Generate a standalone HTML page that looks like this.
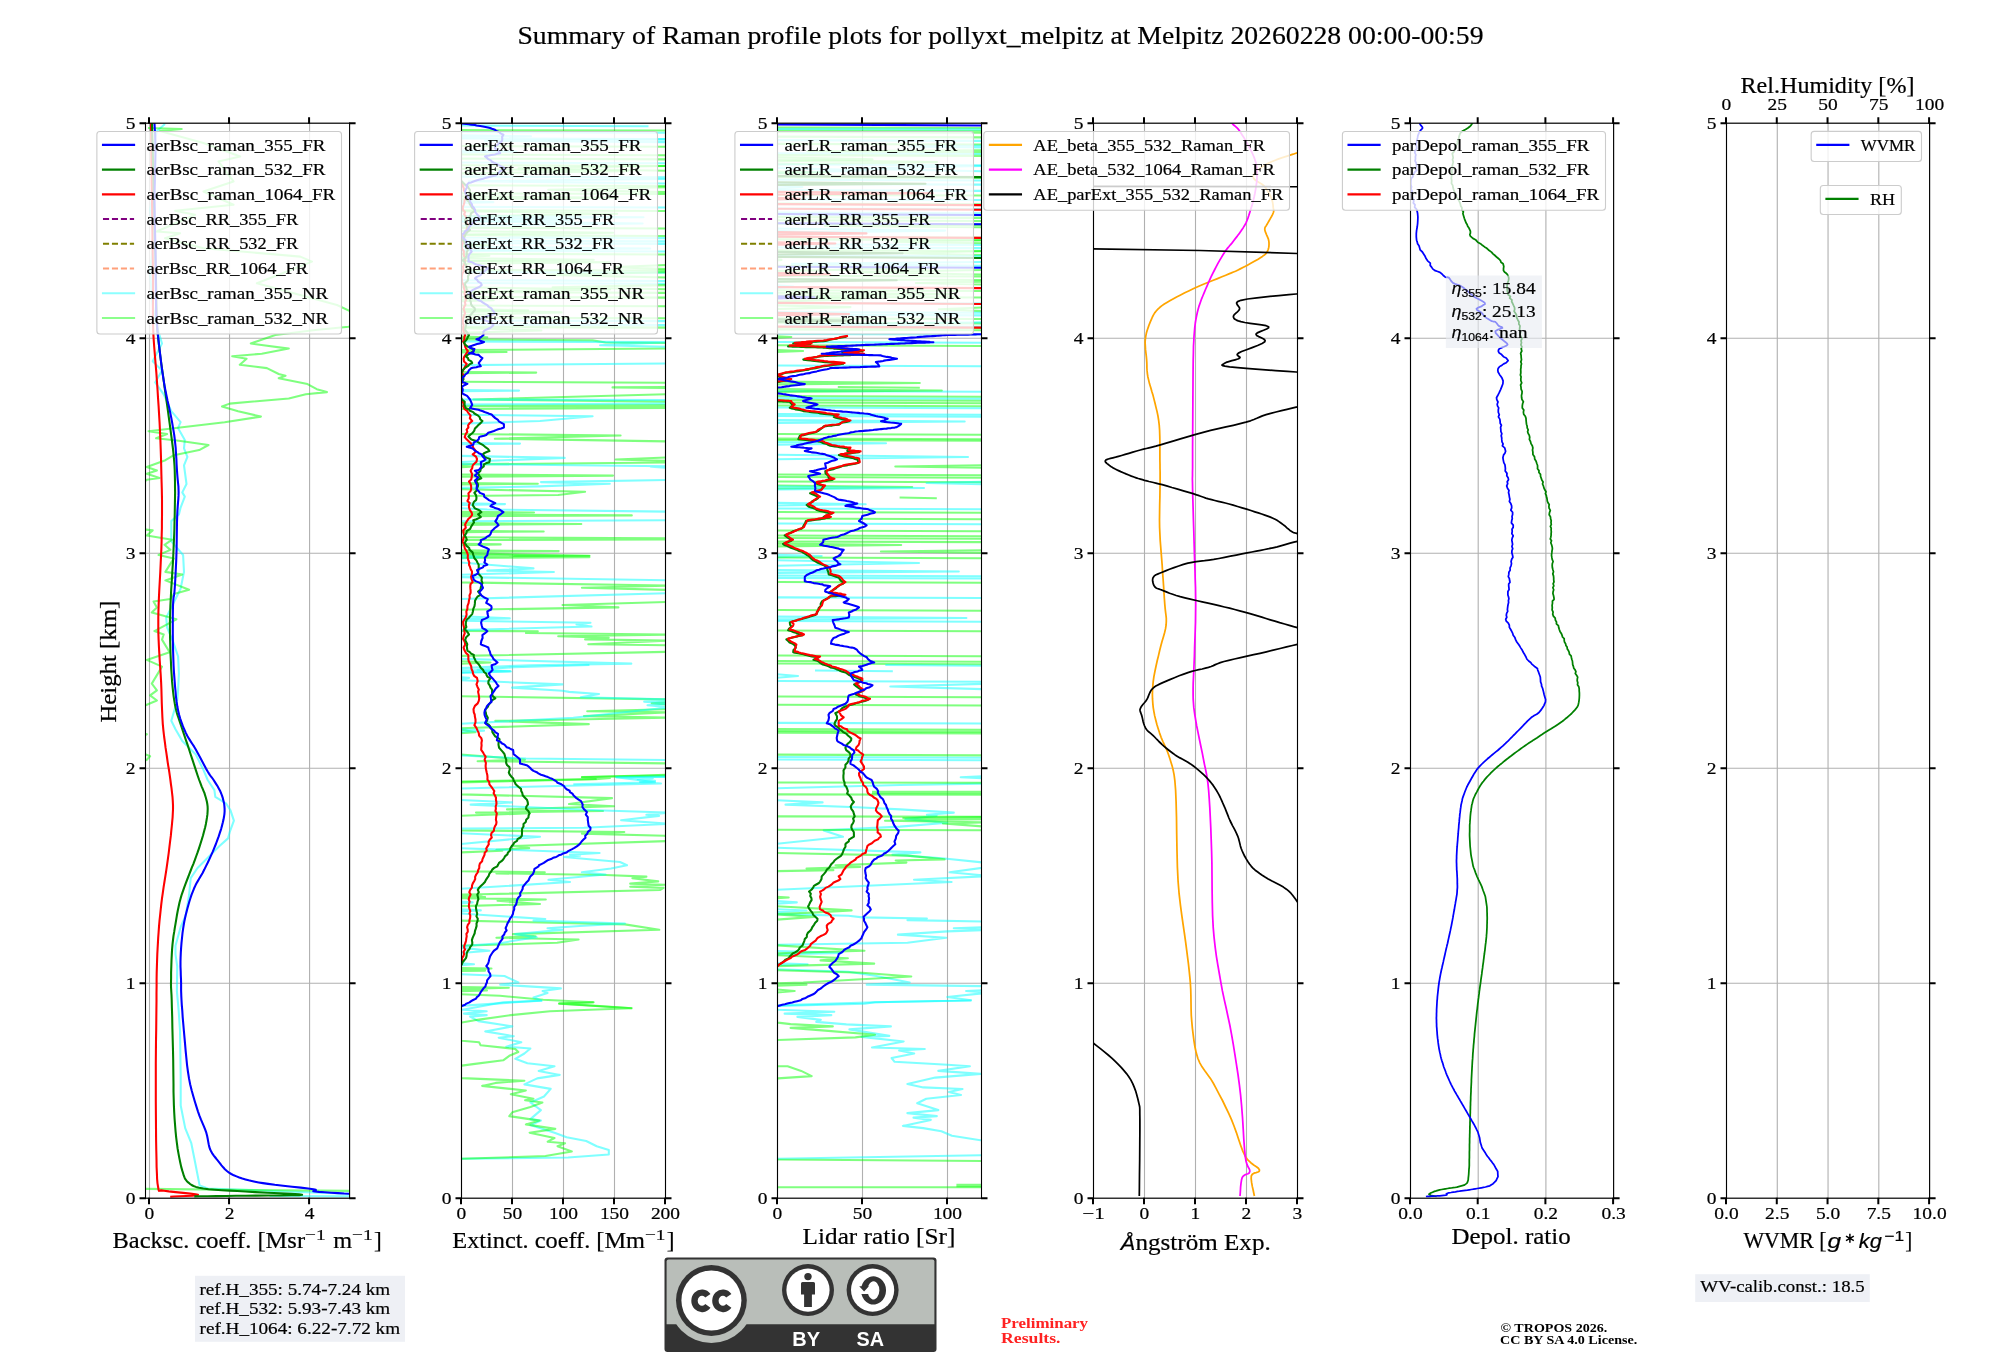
<!DOCTYPE html>
<html><head><meta charset="utf-8"><title>Raman profile summary</title>
<style>html,body{margin:0;padding:0;background:#fff;} svg{display:block;will-change:transform;} svg{font-family:"Liberation Serif", serif;}</style>
</head><body>
<svg width="2000" height="1360" viewBox="0 0 2000 1360">
<rect x="0" y="0" width="2000" height="1360" fill="#fff"/>
<defs>
<clipPath id="clip0"><rect x="145.5" y="123.2" width="204.10" height="1075.00"/></clipPath>
<clipPath id="clip1"><rect x="461.5" y="123.2" width="204.00" height="1075.00"/></clipPath>
<clipPath id="clip2"><rect x="777.5" y="123.2" width="204.00" height="1075.00"/></clipPath>
<clipPath id="clip3"><rect x="1093.5" y="123.2" width="204.00" height="1075.00"/></clipPath>
<clipPath id="clip4"><rect x="1410.5" y="123.2" width="203.10" height="1075.00"/></clipPath>
<clipPath id="clip5"><rect x="1726.5" y="123.2" width="203.10" height="1075.00"/></clipPath>
</defs>
<text x="1000.50" y="43.80" font-size="24.73" textLength="966.07" lengthAdjust="spacingAndGlyphs" text-anchor="middle" stroke="#000" stroke-width="0.2" >Summary of Raman profile plots for pollyxt_melpitz at Melpitz 20260228 00:00-00:59</text>
<line x1="149.50" y1="123.2" x2="149.50" y2="1198.2" stroke="#b0b0b0" stroke-width="1.1"/>
<line x1="229.54" y1="123.2" x2="229.54" y2="1198.2" stroke="#b0b0b0" stroke-width="1.1"/>
<line x1="309.58" y1="123.2" x2="309.58" y2="1198.2" stroke="#b0b0b0" stroke-width="1.1"/>
<line x1="145.5" y1="1198.20" x2="349.6" y2="1198.20" stroke="#b0b0b0" stroke-width="1.1"/>
<line x1="145.5" y1="983.20" x2="349.6" y2="983.20" stroke="#b0b0b0" stroke-width="1.1"/>
<line x1="145.5" y1="768.20" x2="349.6" y2="768.20" stroke="#b0b0b0" stroke-width="1.1"/>
<line x1="145.5" y1="553.20" x2="349.6" y2="553.20" stroke="#b0b0b0" stroke-width="1.1"/>
<line x1="145.5" y1="338.20" x2="349.6" y2="338.20" stroke="#b0b0b0" stroke-width="1.1"/>
<line x1="145.5" y1="123.20" x2="349.6" y2="123.20" stroke="#b0b0b0" stroke-width="1.1"/>
<g clip-path="url(#clip0)" fill="none" stroke-linejoin="round" stroke-linecap="butt">
<polyline points="165.0,124.0 157.0,131.0 152.0,150.0 155.0,180.0 150.0,210.0 154.0,240.0 150.0,270.0 152.0,300.0 155.0,320.0 162.0,343.5 152.7,361.3 162.0,370.6 155.2,382.4 163.7,394.3 171.3,411.2 180.6,422.2 178.0,428.1 184.8,440.0 184.0,448.4 187.4,456.9 184.0,465.3 186.5,484.0 182.3,492.4 184.8,496.6 180.6,507.6 178.9,514.4 171.3,521.1 171.3,541.4 183.1,555.0 184.0,571.9 180.6,588.8 176.4,597.3 166.2,617.6 167.1,627.7 173.0,641.3 178.1,656.5 178.9,673.4 178.1,690.3 177.2,700.5 171.3,720.8 175.5,729.2 182.3,741.1 195.8,754.6 203.4,769.8 207.7,780.0 214.4,790.1 215.3,796.9 226.3,803.7 230.5,810.4 233.9,820.6 229.6,832.4 228.0,838.4 219.5,846.0 211.0,854.4 197.5,868.0 190.7,878.1 189.1,895.0 185.7,915.3 180.6,927.2 175.5,945.8 175.5,954.2 177.2,966.1 176.9,991.4 178.6,1010.0 180.0,1030.2 180.7,1075.4 180.7,1105.5 185.2,1128.1 191.3,1143.2 194.3,1158.3 199.6,1185.4 207.8,1188.5 305.8,1192.2 348.8,1193.7 360.0,1194.0" stroke="#00ffff" stroke-width="2.08" stroke-opacity="0.5"/>
<polyline points="269.7,1196.0 360.0,1196.2" stroke="#00ffff" stroke-width="2.08" stroke-opacity="0.5"/>
<polyline points="148.0,128.0 181.7,129.0 160.0,131.0 203.4,143.0 240.2,156.4 218.5,161.4 233.5,181.4 203.4,191.5 233.5,204.8 175.1,210.7 195.1,214.8 156.7,231.5 180.1,233.2 165.0,238.2 203.4,248.2 300.3,256.6 312.0,261.6 256.9,283.3 337.0,305.0 360.0,316.0 360.0,322.0 348.7,326.7 315.3,330.0 275.3,335.0 250.8,343.5 288.8,348.6 261.8,353.7 232.2,356.2 246.6,358.8 239.8,364.7 266.9,368.1 278.7,374.0 285.5,375.7 278.7,378.2 307.5,384.1 316.8,389.2 326.9,392.1 305.8,394.3 288.8,398.5 229.6,403.6 222.0,406.5 238.1,411.2 260.9,416.6 224.6,422.2 148.5,431.2 167.1,434.0 156.1,438.3 178.9,440.8 208.5,445.0 199.2,450.1 173.8,455.2 165.4,460.2 146.8,467.0 156.9,470.4 146.8,473.8 159.5,478.0 146.8,479.7 135.0,490.0 135.0,525.0 146.0,529.6 152.7,530.4 146.8,535.5 172.1,539.7 164.5,544.8 170.4,549.9 158.6,555.0 173.8,558.4 165.4,571.9 182.3,574.5 165.4,580.4 189.1,589.7 173.8,593.9 170.4,599.0 153.5,601.5 156.9,607.4 151.8,612.5 176.4,619.3 154.4,631.1 163.7,634.5 162.0,639.6 169.6,652.3 146.8,659.9 162.0,666.6 151.8,683.6 156.9,690.3 150.1,695.4 156.9,700.5 146.8,704.7 135.0,710.0 135.0,730.0 146.8,734.3 135.0,740.0 135.0,750.0 150.1,756.3 146.8,759.7 135.0,765.0 135.0,1185.0 146.0,1188.9 360.0,1191.0" stroke="#00ff00" stroke-width="2.08" stroke-opacity="0.5"/>
<polyline points="151.0,123.0 151.1,131.3 151.3,142.9 151.4,156.5 151.6,171.3 151.8,186.1 152.0,200.0 152.2,213.5 152.4,227.6 152.5,241.7 152.7,255.4 152.9,268.4 153.0,280.0 153.0,290.1 153.0,298.9 152.9,306.8 152.9,314.4 153.0,322.0 153.2,330.0 153.6,338.4 154.2,346.8 154.9,355.3 155.6,363.8 156.3,372.2 156.9,380.7 157.5,389.2 158.0,397.6 158.6,406.1 159.1,414.6 159.6,423.0 160.0,431.5 160.4,440.2 160.7,449.0 161.0,457.9 161.2,466.6 161.4,474.7 161.6,482.2 161.8,488.8 161.9,494.5 162.0,499.8 162.0,505.0 162.0,510.3 162.0,516.0 161.9,522.1 161.9,528.2 161.7,534.4 161.6,540.9 161.4,547.8 161.1,555.0 160.7,563.0 160.3,571.7 159.8,580.7 159.3,589.6 158.9,598.1 158.6,605.7 158.4,612.2 158.3,617.9 158.3,623.2 158.3,628.3 158.4,633.7 158.6,639.6 158.9,646.2 159.3,653.1 159.7,660.2 160.2,667.5 160.7,674.8 161.1,681.9 161.4,689.0 161.6,696.3 161.8,703.5 162.1,710.7 162.4,717.5 162.8,724.1 163.4,730.4 164.1,736.5 164.9,742.3 165.6,747.9 166.4,753.1 167.1,758.0 167.7,762.3 168.3,766.1 168.9,769.5 169.4,772.9 169.9,776.3 170.4,780.0 170.9,784.0 171.5,788.2 172.0,792.5 172.5,796.8 172.8,801.1 173.0,805.4 173.0,809.5 172.8,813.5 172.6,817.5 172.2,821.6 171.8,826.0 171.3,830.7 170.8,835.9 170.1,841.4 169.4,847.1 168.7,853.0 167.9,858.9 167.1,864.6 166.3,870.2 165.4,875.9 164.5,881.5 163.6,887.1 162.8,892.8 162.0,898.4 161.3,904.0 160.7,909.7 160.1,915.3 159.5,920.9 159.0,926.6 158.6,932.2 158.2,937.7 157.9,943.1 157.6,948.5 157.3,954.1 157.1,959.9 156.9,966.1 156.7,972.6 156.6,979.2 156.6,986.1 156.5,993.4 156.5,1001.3 156.4,1010.0 156.3,1019.5 156.2,1029.8 156.0,1040.7 155.9,1052.1 155.8,1063.7 155.8,1075.4 155.8,1087.8 155.8,1101.2 155.9,1114.9 156.0,1128.2 156.1,1140.4 156.3,1150.8 156.5,1159.5 156.6,1167.0 156.9,1173.4 157.1,1178.8 157.5,1183.3 158.1,1187.0 158.5,1189.5 158.8,1190.6 159.1,1190.9 159.9,1190.6 161.4,1190.4 164.1,1190.7 168.8,1191.4 175.6,1192.1 183.2,1192.9 190.2,1193.6 195.6,1194.2 198.0,1194.8 196.6,1195.3 192.3,1195.7 186.2,1196.0 179.7,1196.3 173.9,1196.5 170.2,1196.7" stroke="#ff0000" stroke-width="2.08" />
<polyline points="152.0,123.0 152.2,131.3 152.5,142.9 152.9,156.5 153.3,171.3 153.6,186.1 154.0,200.0 154.3,213.5 154.7,227.6 155.0,241.7 155.4,255.4 155.7,268.4 156.0,280.0 156.2,290.1 156.3,298.9 156.4,306.8 156.6,314.4 156.9,322.0 157.4,330.0 158.2,338.5 159.2,347.2 160.3,355.8 161.4,364.4 162.6,372.7 163.7,380.7 164.7,388.3 165.8,395.7 166.8,402.9 167.8,409.8 168.7,416.5 169.6,423.0 170.4,429.2 171.2,435.2 172.0,441.0 172.7,446.5 173.3,451.8 173.8,456.9 174.2,461.5 174.5,465.7 174.7,469.6 174.8,473.5 174.9,477.6 175.0,482.2 175.0,487.3 175.1,492.6 175.0,498.2 174.9,504.0 174.8,510.0 174.7,516.0 174.5,522.1 174.4,528.2 174.2,534.4 173.9,540.9 173.6,547.8 173.3,555.0 172.9,563.0 172.3,571.7 171.8,580.7 171.2,589.6 170.8,598.1 170.4,605.7 170.2,612.2 170.0,617.9 169.9,623.2 169.9,628.3 170.0,633.7 170.1,639.6 170.3,646.4 170.5,653.7 170.9,661.3 171.2,668.7 171.7,675.7 172.1,681.9 172.6,687.2 173.1,691.9 173.6,696.1 174.2,700.0 174.8,703.7 175.5,707.2 176.2,710.4 176.9,713.1 177.7,715.6 178.6,718.1 179.5,720.9 180.6,724.1 181.8,727.8 183.1,731.7 184.5,735.9 186.0,740.3 187.6,744.9 189.1,749.5 190.7,754.5 192.5,759.9 194.3,765.4 196.1,770.8 197.7,775.7 199.2,780.0 200.5,783.4 201.6,786.3 202.6,788.7 203.5,790.8 204.4,792.9 205.1,795.2 205.8,797.5 206.4,799.7 206.9,801.8 207.3,804.0 207.6,806.3 207.7,808.8 207.6,811.5 207.4,814.4 207.0,817.4 206.5,820.5 205.9,823.9 205.1,827.4 204.1,831.3 203.0,835.5 201.7,839.8 200.3,844.3 198.9,848.6 197.5,852.7 196.1,856.5 194.8,860.2 193.4,863.8 191.9,867.4 190.5,871.0 189.1,874.7 187.6,878.5 186.1,882.4 184.6,886.3 183.2,890.3 181.8,894.3 180.6,898.4 179.5,902.5 178.6,906.7 177.7,911.0 176.9,915.3 176.2,919.6 175.5,923.8 174.8,927.9 174.2,931.9 173.5,935.9 173.0,940.0 172.5,944.4 172.1,949.1 171.8,954.4 171.5,960.4 171.3,966.6 171.1,972.6 171.1,978.2 171.0,983.0 171.0,986.3 171.1,988.3 171.2,989.9 171.3,991.8 171.5,994.9 171.7,1000.0 171.9,1007.7 172.2,1017.5 172.4,1028.4 172.7,1039.7 173.0,1050.6 173.2,1060.3 173.3,1068.8 173.4,1076.8 173.5,1084.3 173.5,1091.5 173.7,1098.6 173.9,1105.5 174.2,1112.3 174.6,1119.0 175.1,1125.5 175.6,1131.7 176.2,1137.6 176.9,1143.2 177.6,1148.5 178.5,1153.6 179.4,1158.4 180.3,1162.8 181.2,1166.9 182.2,1170.4 183.1,1173.3 183.8,1175.7 184.6,1177.7 185.5,1179.4 186.7,1180.9 188.2,1182.4 189.9,1183.8 191.6,1185.0 193.5,1186.0 195.9,1186.9 199.1,1187.7 203.3,1188.5 208.6,1189.2 214.8,1189.7 221.8,1190.2 229.4,1190.6 237.3,1191.0 245.5,1191.5 255.4,1192.1 267.5,1192.7 280.0,1193.3 291.1,1193.9 299.1,1194.4 302.1,1194.8 299.2,1195.1 291.4,1195.3 280.5,1195.4 268.2,1195.5 255.9,1195.6 245.5,1195.7 236.1,1195.8 226.1,1196.0 216.4,1196.1 207.4,1196.2 199.8,1196.3 194.3,1196.4" stroke="#008000" stroke-width="2.08" />
<polyline points="154.5,123.0 154.6,125.7 154.8,129.1 155.1,133.4 155.3,138.3 155.4,143.9 155.5,150.0 155.4,157.0 155.2,165.0 155.0,173.6 154.8,182.5 154.6,191.4 154.5,200.0 154.6,208.3 154.7,216.7 154.9,225.0 155.1,233.3 155.3,241.7 155.5,250.0 155.6,258.6 155.7,267.4 155.7,276.2 155.8,284.8 155.9,292.8 156.0,300.0 156.1,305.9 156.2,310.7 156.3,315.0 156.5,319.2 156.9,324.0 157.4,330.0 158.2,337.4 159.1,345.9 160.2,354.9 161.3,364.0 162.5,372.8 163.7,380.7 164.9,387.8 166.3,394.6 167.6,400.9 169.0,407.0 170.2,412.6 171.3,418.0 172.2,422.9 172.9,427.1 173.6,431.1 174.2,434.9 174.7,438.9 175.2,443.3 175.7,448.2 176.0,453.5 176.4,459.0 176.6,464.3 176.9,469.3 177.2,473.8 177.5,477.5 177.8,480.7 178.1,483.5 178.4,486.3 178.5,489.1 178.6,492.4 178.5,495.9 178.3,499.3 178.0,502.9 177.7,506.8 177.4,511.1 177.2,516.0 177.0,521.7 176.9,528.1 176.8,534.9 176.7,541.8 176.6,548.6 176.4,555.0 176.2,561.1 175.9,567.3 175.6,573.3 175.3,579.0 175.0,584.2 174.7,588.8 174.4,592.3 174.1,594.7 173.7,596.7 173.4,598.8 173.2,601.6 173.0,605.7 172.9,611.4 172.8,618.2 172.8,625.8 172.8,633.6 172.9,641.1 173.0,648.0 173.2,654.2 173.4,660.1 173.6,665.8 173.9,671.3 174.3,676.6 174.7,681.9 175.1,687.1 175.6,692.1 176.0,697.0 176.6,701.7 177.3,706.3 178.1,710.6 179.1,714.7 180.2,718.6 181.5,722.3 182.8,725.9 184.2,729.3 185.7,732.6 187.2,735.7 188.8,738.4 190.5,741.1 192.2,743.7 194.0,746.4 195.8,749.5 197.7,753.0 199.9,757.0 202.0,761.0 204.1,765.0 206.0,768.6 207.7,771.5 209.0,773.6 210.0,775.1 210.9,776.3 211.7,777.3 212.6,778.5 213.6,780.0 214.8,781.9 216.2,784.1 217.6,786.3 218.9,788.7 220.2,791.1 221.2,793.5 222.1,795.9 222.9,798.4 223.5,800.9 224.1,803.5 224.4,806.1 224.6,808.8 224.6,811.5 224.4,814.1 224.0,816.8 223.5,819.6 222.8,822.6 222.0,825.7 221.1,829.1 219.9,832.7 218.7,836.4 217.3,840.2 215.9,844.0 214.4,847.7 212.9,851.4 211.2,855.1 209.5,858.9 207.8,862.5 206.0,866.1 204.3,869.6 202.6,872.9 200.8,876.0 199.0,879.1 197.2,882.1 195.6,885.1 194.1,888.3 192.8,891.6 191.5,894.9 190.4,898.3 189.3,901.8 188.3,905.2 187.4,908.6 186.5,911.9 185.7,915.1 185.0,918.2 184.3,921.5 183.7,925.0 183.1,928.9 182.5,933.2 182.0,938.0 181.5,942.9 181.1,948.0 180.8,952.9 180.6,957.6 180.5,962.1 180.5,966.6 180.7,971.0 180.8,975.3 181.0,979.3 181.1,983.0 181.1,986.1 181.1,988.5 181.1,990.7 181.2,993.1 181.3,996.1 181.5,1000.0 181.8,1005.1 182.3,1010.9 182.7,1017.4 183.3,1024.1 183.9,1031.0 184.5,1037.7 185.1,1044.4 185.7,1051.3 186.4,1058.3 187.1,1065.3 188.0,1072.0 189.0,1078.4 190.2,1084.5 191.7,1090.5 193.3,1096.2 194.9,1101.7 196.5,1106.9 198.0,1111.6 199.5,1115.9 201.0,1119.7 202.5,1123.2 203.9,1126.4 205.2,1129.6 206.3,1132.7 207.1,1135.8 207.7,1138.7 208.2,1141.6 208.7,1144.3 209.3,1146.9 210.1,1149.3 211.2,1151.6 212.4,1153.7 213.8,1155.6 215.3,1157.5 216.8,1159.4 218.4,1161.3 220.0,1163.3 221.5,1165.3 223.2,1167.3 224.9,1169.2 226.9,1171.0 229.0,1172.6 231.3,1174.0 233.8,1175.3 236.5,1176.4 239.3,1177.5 242.3,1178.5 245.5,1179.4 248.7,1180.3 251.7,1181.0 255.0,1181.7 258.7,1182.4 262.9,1183.1 268.1,1183.9 274.8,1184.8 283.1,1185.7 292.1,1186.7 300.7,1187.6 308.1,1188.5 313.4,1189.2 315.8,1189.8 315.9,1190.2 314.9,1190.5 313.6,1190.9 313.3,1191.2 314.9,1191.5 318.9,1191.9 324.6,1192.3 331.2,1192.7 338.0,1193.1 344.1,1193.5 348.8,1193.7 352.1,1193.9 354.6,1193.9 356.5,1193.9 357.9,1193.9 359.0,1193.9 360.0,1193.9" stroke="#0000ff" stroke-width="2.08" />
</g>
<rect x="145.5" y="123.2" width="204.10" height="1075.00" fill="none" stroke="#000" stroke-width="1.1"/>
<path d="M149.00 1197.7 v6.5 M149.00 123.7 v-6.5 M229.04 1197.7 v6.5 M229.04 123.7 v-6.5 M309.08 1197.7 v6.5 M309.08 123.7 v-6.5 M146.0 1198.20 h-6.5 M349.1 1198.20 h6.5 M146.0 983.20 h-6.5 M349.1 983.20 h6.5 M146.0 768.20 h-6.5 M349.1 768.20 h6.5 M146.0 553.20 h-6.5 M349.1 553.20 h6.5 M146.0 338.20 h-6.5 M349.1 338.20 h6.5 M146.0 123.20 h-6.5 M349.1 123.20 h6.5" stroke="#000" stroke-width="2" fill="none"/>
<text x="149.50" y="1219.40" font-size="17.01" textLength="9.72" lengthAdjust="spacingAndGlyphs" text-anchor="middle" stroke="#000" stroke-width="0.2" >0</text>
<text x="229.54" y="1219.40" font-size="17.01" textLength="9.72" lengthAdjust="spacingAndGlyphs" text-anchor="middle" stroke="#000" stroke-width="0.2" >2</text>
<text x="309.58" y="1219.40" font-size="17.01" textLength="9.72" lengthAdjust="spacingAndGlyphs" text-anchor="middle" stroke="#000" stroke-width="0.2" >4</text>
<text x="135.50" y="1203.80" font-size="17.01" textLength="9.72" lengthAdjust="spacingAndGlyphs" text-anchor="end" stroke="#000" stroke-width="0.2" >0</text>
<text x="135.50" y="988.80" font-size="17.01" textLength="9.72" lengthAdjust="spacingAndGlyphs" text-anchor="end" stroke="#000" stroke-width="0.2" >1</text>
<text x="135.50" y="773.80" font-size="17.01" textLength="9.72" lengthAdjust="spacingAndGlyphs" text-anchor="end" stroke="#000" stroke-width="0.2" >2</text>
<text x="135.50" y="558.80" font-size="17.01" textLength="9.72" lengthAdjust="spacingAndGlyphs" text-anchor="end" stroke="#000" stroke-width="0.2" >3</text>
<text x="135.50" y="343.80" font-size="17.01" textLength="9.72" lengthAdjust="spacingAndGlyphs" text-anchor="end" stroke="#000" stroke-width="0.2" >4</text>
<text x="135.50" y="128.80" font-size="17.01" textLength="9.72" lengthAdjust="spacingAndGlyphs" text-anchor="end" stroke="#000" stroke-width="0.2" >5</text>
<rect x="96.88" y="131.5" width="244.62" height="202.50" rx="3" ry="3" fill="#fff" fill-opacity="0.8" stroke="#cccccc" stroke-width="1.1"/>
<line x1="102.98" y1="144.90" x2="134.08" y2="144.90" stroke="#0000ff" stroke-width="2.08" stroke-linecap="square"/>
<text x="146.48" y="150.50" font-size="17.01" textLength="178.90" lengthAdjust="spacingAndGlyphs" stroke="#000" stroke-width="0.2" >aerBsc_raman_355_FR</text>
<line x1="102.98" y1="169.62" x2="134.08" y2="169.62" stroke="#008000" stroke-width="2.08" stroke-linecap="square"/>
<text x="146.48" y="175.22" font-size="17.01" textLength="178.90" lengthAdjust="spacingAndGlyphs" stroke="#000" stroke-width="0.2" >aerBsc_raman_532_FR</text>
<line x1="102.98" y1="194.34" x2="134.08" y2="194.34" stroke="#ff0000" stroke-width="2.08" stroke-linecap="square"/>
<text x="146.48" y="199.94" font-size="17.01" textLength="188.72" lengthAdjust="spacingAndGlyphs" stroke="#000" stroke-width="0.2" >aerBsc_raman_1064_FR</text>
<line x1="102.98" y1="219.06" x2="134.08" y2="219.06" stroke="#800080" stroke-width="2.08" stroke-dasharray="6.1,2.85"/>
<text x="146.48" y="224.66" font-size="17.01" textLength="151.79" lengthAdjust="spacingAndGlyphs" stroke="#000" stroke-width="0.2" >aerBsc_RR_355_FR</text>
<line x1="102.98" y1="243.78" x2="134.08" y2="243.78" stroke="#808000" stroke-width="2.08" stroke-dasharray="6.1,2.85"/>
<text x="146.48" y="249.38" font-size="17.01" textLength="151.79" lengthAdjust="spacingAndGlyphs" stroke="#000" stroke-width="0.2" >aerBsc_RR_532_FR</text>
<line x1="102.98" y1="268.50" x2="134.08" y2="268.50" stroke="#ffa07a" stroke-width="2.08" stroke-dasharray="6.1,2.85"/>
<text x="146.48" y="274.10" font-size="17.01" textLength="161.61" lengthAdjust="spacingAndGlyphs" stroke="#000" stroke-width="0.2" >aerBsc_RR_1064_FR</text>
<line x1="102.98" y1="293.22" x2="134.08" y2="293.22" stroke="#8cffff" stroke-width="2.08" stroke-linecap="square"/>
<text x="146.48" y="298.82" font-size="17.01" textLength="181.70" lengthAdjust="spacingAndGlyphs" stroke="#000" stroke-width="0.2" >aerBsc_raman_355_NR</text>
<line x1="102.98" y1="317.94" x2="134.08" y2="317.94" stroke="#8cff8c" stroke-width="2.08" stroke-linecap="square"/>
<text x="146.48" y="323.54" font-size="17.01" textLength="181.70" lengthAdjust="spacingAndGlyphs" stroke="#000" stroke-width="0.2" >aerBsc_raman_532_NR</text>
<line x1="461.50" y1="123.2" x2="461.50" y2="1198.2" stroke="#b0b0b0" stroke-width="1.1"/>
<line x1="512.50" y1="123.2" x2="512.50" y2="1198.2" stroke="#b0b0b0" stroke-width="1.1"/>
<line x1="563.50" y1="123.2" x2="563.50" y2="1198.2" stroke="#b0b0b0" stroke-width="1.1"/>
<line x1="614.50" y1="123.2" x2="614.50" y2="1198.2" stroke="#b0b0b0" stroke-width="1.1"/>
<line x1="665.50" y1="123.2" x2="665.50" y2="1198.2" stroke="#b0b0b0" stroke-width="1.1"/>
<line x1="461.5" y1="1198.20" x2="665.5" y2="1198.20" stroke="#b0b0b0" stroke-width="1.1"/>
<line x1="461.5" y1="983.20" x2="665.5" y2="983.20" stroke="#b0b0b0" stroke-width="1.1"/>
<line x1="461.5" y1="768.20" x2="665.5" y2="768.20" stroke="#b0b0b0" stroke-width="1.1"/>
<line x1="461.5" y1="553.20" x2="665.5" y2="553.20" stroke="#b0b0b0" stroke-width="1.1"/>
<line x1="461.5" y1="338.20" x2="665.5" y2="338.20" stroke="#b0b0b0" stroke-width="1.1"/>
<line x1="461.5" y1="123.20" x2="665.5" y2="123.20" stroke="#b0b0b0" stroke-width="1.1"/>
<g clip-path="url(#clip1)" fill="none" stroke-linejoin="round" stroke-linecap="butt">
<polyline points="455.0,336.5 487.3,337.2 455.0,338.0 455.0,339.3 592.6,340.4 605.5,342.5 670.0,343.0 670.0,348.4 455.0,350.1 455.0,351.5 506.6,352.0 455.0,352.6 455.0,372.0 536.2,372.6 455.0,373.3 455.0,381.8 670.0,382.8 670.0,387.0 612.5,387.4 670.0,388.0 670.0,394.1 473.3,399.5 670.0,401.7 670.0,404.9 455.0,406.2 670.0,407.0 670.0,408.0 455.0,409.0" stroke="#00ff00" stroke-width="2.08" stroke-opacity="0.5"/>
<polyline points="455.0,433.9 620.6,435.5 494.8,438.7 670.0,441.4" stroke="#00ff00" stroke-width="2.08" stroke-opacity="0.5"/>
<polyline points="455.0,341.5 670.0,342.1 600.1,345.2 670.0,346.8 670.0,363.5 455.0,365.2 455.0,390.0 519.0,390.6 455.0,391.3 455.0,399.5 670.0,400.0 670.0,403.5 455.0,404.5 455.0,414.6 592.6,416.2 540.0,421.0 455.0,423.8 455.0,443.0 520.0,443.6 455.0,444.3" stroke="#00ffff" stroke-width="2.08" stroke-opacity="0.5"/>
<polyline points="670.0,457.4 615.7,459.5 670.0,461.0 670.0,462.5 455.0,464.4 455.0,466.0 471.0,466.8 455.0,467.5 455.0,474.5 613.0,475.6 455.0,476.8 455.0,483.0 537.8,483.7 455.0,484.4 455.0,489.0 585.1,491.8 558.2,495.0 455.0,496.0 455.0,511.8 534.0,512.5 455.0,513.4 455.0,514.6 631.8,515.4 455.0,516.3 455.0,523.0 581.3,524.0 455.0,525.0 455.0,530.8 543.7,531.5 455.0,532.3 455.0,537.2 670.0,538.2 670.0,539.4 455.0,540.0 455.0,543.7 500.7,544.4 455.0,545.2 455.0,550.3 558.7,551.1 455.0,552.0 455.0,555.0 589.4,555.7 455.0,556.6" stroke="#00ff00" stroke-width="2.08" stroke-opacity="0.5"/>
<polyline points="455.0,455.8 564.7,457.9 472.0,461.5 455.0,462.5 455.0,464.0 670.0,466.3 650.7,466.8 670.0,468.1 670.0,479.9 541.0,482.1 609.8,483.7 538.9,486.4 455.0,488.0 455.0,503.3 505.0,504.1 455.0,505.0 455.0,508.0 487.3,509.5 670.0,511.7 670.0,520.3 455.0,521.3" stroke="#00ffff" stroke-width="2.08" stroke-opacity="0.5"/>
<polyline points="455.0,553.0 589.4,556.0 514.1,556.6 589.4,557.2 455.0,558.0 455.0,582.0 461.0,582.4 670.0,585.6 581.9,587.8 670.0,590.0 670.0,601.8 562.5,605.0 618.4,607.4 455.0,609.9 455.0,661.0 490.5,662.5 455.0,664.0 455.0,696.0 461.0,696.2 670.0,699.4 670.0,702.0 651.7,703.2 670.0,704.8 670.0,709.1 587.2,711.2 670.0,712.3 584.0,716.1 670.0,717.7 495.3,720.9 588.8,724.1 455.0,728.4 475.4,732.2 455.0,733.5 455.0,754.0 524.9,759.6 477.6,761.2 670.0,763.4 670.0,764.4" stroke="#00ff00" stroke-width="2.08" stroke-opacity="0.5"/>
<polyline points="455.0,630.8 537.8,631.3 526.0,633.0 670.0,634.6 558.2,636.2 608.7,637.8 585.1,639.4 670.0,640.5 588.3,644.2 670.0,645.3 670.0,651.8 455.0,656.0" stroke="#00ff00" stroke-width="2.08" stroke-opacity="0.5"/>
<polyline points="670.0,774.7 581.9,777.3 595.8,779.0 455.0,781.6" stroke="#00ff00" stroke-width="2.08" stroke-opacity="0.5"/>
<polyline points="455.0,555.0 482.0,557.0 455.0,559.0 455.0,562.0 533.5,568.4 487.3,570.6 553.9,572.0 455.0,574.9 455.0,577.0 670.0,580.3 670.0,593.2 455.0,599.1 455.0,616.0 509.8,618.4 455.0,619.5 455.0,620.6 590.5,622.7 576.5,624.5 591.5,626.5 455.0,630.3 455.0,658.7 631.3,663.6 530.3,665.2 455.0,668.4 455.0,670.0 510.0,671.1 455.0,672.3" stroke="#00ffff" stroke-width="2.08" stroke-opacity="0.5"/>
<polyline points="589.4,665.0 514.1,667.2 477.6,669.8 510.9,671.5 455.0,673.1 455.0,676.8 469.0,677.9 455.0,680.0 562.5,684.4 512.0,687.6 562.5,690.8 569.0,691.9 599.0,694.0 580.8,697.3 670.0,699.4 670.0,700.5 644.2,701.6 670.0,703.7 647.5,705.3 670.0,707.4 573.3,717.7 563.6,718.2 455.0,724.1 455.0,729.0 484.0,730.6 455.0,732.0 455.0,755.3 526.0,758.5 670.0,760.1" stroke="#00ffff" stroke-width="2.08" stroke-opacity="0.5"/>
<polyline points="670.0,776.7 616.3,777.3 655.0,782.2 573.3,784.3" stroke="#00ffff" stroke-width="2.08" stroke-opacity="0.5"/>
<polyline points="670.0,775.5 582.0,777.0 610.0,778.0 595.8,779.3 455.0,782.5 455.0,794.0 461.0,794.4 612.0,798.1 569.0,804.0 614.0,806.2 507.0,809.4 603.0,811.0 476.0,812.6 530.0,813.3 455.0,816.0 455.0,830.0 461.0,830.4 624.3,832.0 581.9,833.6 664.6,835.7 670.0,838.0 670.0,841.0 513.0,846.0 529.2,848.1 496.4,849.7 502.3,850.8 455.0,852.6 455.0,871.0 461.0,871.3 544.8,872.3 496.4,873.4 605.5,875.0 646.4,876.6 632.4,878.2 658.2,881.4 630.2,883.6 664.6,884.7 630.2,886.8 663.5,887.9 660.0,890.0 481.3,894.3 455.0,894.6 481.9,894.8 455.0,896.5 485.1,897.0 455.0,898.0 545.8,899.5 497.5,900.8 540.0,904.0 455.0,906.3 455.0,920.4 461.0,920.6 624.9,924.4 659.3,929.8 513.0,934.1 535.6,936.2 496.4,937.8 578.6,939.5 557.1,942.7 455.0,946.0 455.0,968.0 491.5,968.5 455.0,969.5 485.0,970.6 455.0,971.0 455.0,987.0 508.8,987.8 455.0,989.0 487.0,990.5 455.0,991.5 455.0,994.0 500.0,995.8 543.2,999.7 593.7,1002.3 559.3,1003.4 632.4,1008.3" stroke="#00ff00" stroke-width="2.08" stroke-opacity="0.5"/>
<polyline points="670.0,776.6 616.3,777.2 652.8,778.2 637.8,779.3 655.0,780.9 640.0,782.0 661.0,783.5 455.0,788.6 455.0,799.8 512.0,802.4 470.6,804.6 603.4,810.5 670.0,812.6 646.4,814.8 659.0,815.9 621.1,820.2 670.0,823.9 584.0,827.7 455.0,828.6 455.0,833.0 540.0,836.8 514.0,839.0 455.0,844.6 455.0,848.0 599.6,853.0 570.0,854.6 580.0,855.6 564.0,857.0 620.0,862.0 627.0,865.3 611.0,868.5 581.9,872.3 605.5,874.5 548.5,879.8 570.0,882.0 455.0,889.2 455.0,901.0 472.7,902.4 455.0,904.0 455.0,909.0 480.8,910.4 455.0,911.5 455.0,913.0 502.3,916.3 545.3,919.0 533.5,920.6 624.9,923.5 579.7,926.0 547.5,928.2 562.5,929.8 515.2,934.1 536.7,937.3 515.2,940.5 500.2,943.2 455.0,946.6 455.0,947.0 489.4,950.7 455.0,953.5 455.0,963.0 474.0,964.2 455.0,965.5 455.0,974.0 504.5,976.0 518.4,982.5 500.2,984.6 560.9,988.4 542.6,991.0 547.5,993.0 533.5,997.5 541.0,1000.5 455.0,1006.3" stroke="#00ffff" stroke-width="2.08" stroke-opacity="0.5"/>
<polyline points="440.0,125.5 648.5,126.2" stroke="#00ffff" stroke-width="2.08" stroke-opacity="0.5"/>
<polyline points="440.0,130.0 680.0,130.6" stroke="#00ff00" stroke-width="2.08" stroke-opacity="0.5"/>
<polyline points="542.4,1000.8 503.2,1002.3 462.5,1009.8 486.7,1011.3 464.0,1013.6 486.7,1015.1 470.1,1016.6 478.4,1021.1 512.3,1026.4 485.2,1031.4 513.8,1036.2 498.7,1037.7 521.3,1042.2 506.3,1046.7 530.4,1048.5 524.4,1053.5 515.3,1058.8 527.4,1063.3 554.5,1066.3 538.7,1070.9 559.8,1074.9 537.2,1078.4 524.4,1084.4 550.7,1088.9 544.0,1096.5 530.4,1102.5 540.9,1110.1 530.4,1119.1 540.9,1120.6 530.4,1125.1 554.5,1132.7 566.6,1137.2 586.2,1141.0 596.7,1146.2 608.8,1150.0 608.8,1154.5 568.1,1157.5 440.0,1159.0" stroke="#00ffff" stroke-width="2.08" stroke-opacity="0.5"/>
<polyline points="593.7,1002.3 559.0,1003.8 631.4,1008.3 550.0,1011.3 510.8,1015.1 479.1,1019.6 461.8,1022.6 440.0,1025.0 440.0,1038.0 461.8,1040.7 479.1,1042.2 480.6,1045.2 515.3,1049.0 518.3,1052.0 509.3,1055.8 503.2,1060.3 473.1,1064.1 461.8,1065.6 440.0,1068.0 440.0,1076.0 461.8,1078.1 524.4,1080.7 495.7,1082.9 482.1,1085.9 525.9,1090.5 510.8,1094.2 533.4,1098.7 525.1,1100.3 542.4,1102.5 530.4,1107.0 512.3,1112.3 509.3,1116.1 539.4,1120.6 525.9,1124.4 555.3,1128.9 529.6,1132.7 554.5,1138.0 547.7,1141.7 565.1,1143.2 557.5,1146.2 571.8,1151.5 545.5,1156.0 440.0,1159.5" stroke="#00ff00" stroke-width="2.08" stroke-opacity="0.5"/>
<polyline points="446.5,132.0 680.5,132.8" stroke="#00ffff" stroke-width="2.08" stroke-opacity="0.5"/>
<polyline points="446.5,135.2 531.0,136.3 446.5,137.4" stroke="#00ffff" stroke-width="2.08" stroke-opacity="0.5"/>
<polyline points="446.5,138.4 680.5,139.2" stroke="#00ffff" stroke-width="2.08" stroke-opacity="0.5"/>
<polyline points="680.5,139.3 485.0,140.7 680.5,142.2" stroke="#00ffff" stroke-width="2.08" stroke-opacity="0.5"/>
<polyline points="446.5,146.0 680.5,146.8" stroke="#00ff00" stroke-width="2.08" stroke-opacity="0.5"/>
<polyline points="446.5,150.2 516.5,151.5 446.5,152.7" stroke="#00ffff" stroke-width="2.08" stroke-opacity="0.5"/>
<polyline points="446.5,154.5 680.5,155.3" stroke="#00ff00" stroke-width="2.08" stroke-opacity="0.5"/>
<polyline points="446.5,158.6 680.5,159.4" stroke="#00ff00" stroke-width="2.08" stroke-opacity="0.5"/>
<polyline points="446.5,162.5 680.5,163.3" stroke="#00ffff" stroke-width="2.08" stroke-opacity="0.5"/>
<polyline points="446.5,165.2 680.5,166.0" stroke="#00ff00" stroke-width="2.08" stroke-opacity="0.5"/>
<polyline points="680.5,165.7 518.5,168.3 680.5,170.9" stroke="#00ff00" stroke-width="2.08" stroke-opacity="0.5"/>
<polyline points="446.5,168.7 627.8,171.2 446.5,173.6" stroke="#00ff00" stroke-width="2.08" stroke-opacity="0.5"/>
<polyline points="446.5,176.6 680.5,177.4" stroke="#00ffff" stroke-width="2.08" stroke-opacity="0.5"/>
<polyline points="680.5,178.9 468.9,181.2 680.5,183.6" stroke="#00ffff" stroke-width="2.08" stroke-opacity="0.5"/>
<polyline points="446.5,185.3 680.5,186.1" stroke="#00ff00" stroke-width="2.08" stroke-opacity="0.5"/>
<polyline points="680.5,187.0 548.2,189.7 680.5,192.4" stroke="#00ff00" stroke-width="2.08" stroke-opacity="0.5"/>
<polyline points="446.5,193.3 680.5,194.1" stroke="#00ff00" stroke-width="2.08" stroke-opacity="0.5"/>
<polyline points="446.5,196.2 617.7,197.8 446.5,199.4" stroke="#00ff00" stroke-width="2.08" stroke-opacity="0.5"/>
<polyline points="446.5,200.9 493.4,202.1 446.5,203.4" stroke="#00ffff" stroke-width="2.08" stroke-opacity="0.5"/>
<polyline points="446.5,206.8 680.5,207.6" stroke="#00ffff" stroke-width="2.08" stroke-opacity="0.5"/>
<polyline points="446.5,210.2 680.5,211.0" stroke="#00ff00" stroke-width="2.08" stroke-opacity="0.5"/>
<polyline points="446.5,211.0 617.2,213.8 446.5,216.5" stroke="#00ff00" stroke-width="2.08" stroke-opacity="0.5"/>
<polyline points="446.5,215.9 643.5,217.2 446.5,218.5" stroke="#00ffff" stroke-width="2.08" stroke-opacity="0.5"/>
<polyline points="446.5,218.5 573.4,220.0 446.5,221.6" stroke="#00ffff" stroke-width="2.08" stroke-opacity="0.5"/>
<polyline points="446.5,221.1 642.6,223.5 446.5,225.9" stroke="#00ffff" stroke-width="2.08" stroke-opacity="0.5"/>
<polyline points="446.5,227.7 680.5,228.5" stroke="#00ff00" stroke-width="2.08" stroke-opacity="0.5"/>
<polyline points="446.5,231.0 613.1,232.8 446.5,234.6" stroke="#00ff00" stroke-width="2.08" stroke-opacity="0.5"/>
<polyline points="446.5,235.2 680.5,236.0" stroke="#00ff00" stroke-width="2.08" stroke-opacity="0.5"/>
<polyline points="446.5,237.4 680.5,238.2" stroke="#00ffff" stroke-width="2.08" stroke-opacity="0.5"/>
<polyline points="446.5,240.6 680.5,241.4" stroke="#00ffff" stroke-width="2.08" stroke-opacity="0.5"/>
<polyline points="446.5,243.1 680.5,243.9" stroke="#00ffff" stroke-width="2.08" stroke-opacity="0.5"/>
<polyline points="446.5,243.7 489.7,245.2 446.5,246.7" stroke="#00ff00" stroke-width="2.08" stroke-opacity="0.5"/>
<polyline points="446.5,246.6 650.2,248.5 446.5,250.4" stroke="#00ffff" stroke-width="2.08" stroke-opacity="0.5"/>
<polyline points="446.5,250.8 680.5,251.6" stroke="#00ffff" stroke-width="2.08" stroke-opacity="0.5"/>
<polyline points="446.5,253.7 680.5,254.5" stroke="#00ff00" stroke-width="2.08" stroke-opacity="0.5"/>
<polyline points="446.5,253.7 489.4,255.8 446.5,257.9" stroke="#00ff00" stroke-width="2.08" stroke-opacity="0.5"/>
<polyline points="446.5,258.1 593.8,259.7 446.5,261.2" stroke="#00ff00" stroke-width="2.08" stroke-opacity="0.5"/>
<polyline points="446.5,260.6 609.5,262.2 446.5,263.9" stroke="#00ff00" stroke-width="2.08" stroke-opacity="0.5"/>
<polyline points="680.5,264.4 614.7,267.1 680.5,269.7" stroke="#00ff00" stroke-width="2.08" stroke-opacity="0.5"/>
<polyline points="446.5,269.9 680.5,270.7" stroke="#00ff00" stroke-width="2.08" stroke-opacity="0.5"/>
<polyline points="446.5,272.0 680.5,272.8" stroke="#00ffff" stroke-width="2.08" stroke-opacity="0.5"/>
<polyline points="680.5,272.0 546.5,274.9 680.5,277.8" stroke="#00ff00" stroke-width="2.08" stroke-opacity="0.5"/>
<polyline points="446.5,280.2 680.5,281.0" stroke="#00ffff" stroke-width="2.08" stroke-opacity="0.5"/>
<polyline points="446.5,283.0 680.5,283.8" stroke="#00ffff" stroke-width="2.08" stroke-opacity="0.5"/>
<polyline points="680.5,284.9 552.6,287.2 680.5,289.5" stroke="#00ff00" stroke-width="2.08" stroke-opacity="0.5"/>
<polyline points="446.5,287.0 610.1,289.5 446.5,292.0" stroke="#00ff00" stroke-width="2.08" stroke-opacity="0.5"/>
<polyline points="446.5,292.1 680.5,292.9" stroke="#00ff00" stroke-width="2.08" stroke-opacity="0.5"/>
<polyline points="446.5,296.9 680.5,297.7" stroke="#00ff00" stroke-width="2.08" stroke-opacity="0.5"/>
<polyline points="446.5,299.1 493.8,300.3 446.5,301.6" stroke="#00ff00" stroke-width="2.08" stroke-opacity="0.5"/>
<polyline points="446.5,305.5 680.5,306.3" stroke="#00ff00" stroke-width="2.08" stroke-opacity="0.5"/>
<polyline points="446.5,308.3 528.1,310.4 446.5,312.5" stroke="#00ff00" stroke-width="2.08" stroke-opacity="0.5"/>
<polyline points="446.5,309.6 561.6,312.4 446.5,315.3" stroke="#00ff00" stroke-width="2.08" stroke-opacity="0.5"/>
<polyline points="446.5,317.5 680.5,318.3" stroke="#00ff00" stroke-width="2.08" stroke-opacity="0.5"/>
<polyline points="446.5,320.4 680.5,321.2" stroke="#00ffff" stroke-width="2.08" stroke-opacity="0.5"/>
<polyline points="446.5,324.4 680.5,325.2" stroke="#00ffff" stroke-width="2.08" stroke-opacity="0.5"/>
<polyline points="446.5,326.9 680.5,327.7" stroke="#00ff00" stroke-width="2.08" stroke-opacity="0.5"/>
<polyline points="446.5,327.7 541.4,330.5 446.5,333.3" stroke="#00ff00" stroke-width="2.08" stroke-opacity="0.5"/>
<polyline points="461.5,182.0 462.4,184.2 462.9,186.3 463.9,188.5 463.9,190.7 465.6,192.8 466.0,195.0 466.3,197.5 464.6,200.0 464.4,202.5 463.6,205.0 462.7,207.5 463.0,210.0 465.1,212.1 464.1,214.3 465.8,216.4 466.4,218.6 466.6,220.7 466.8,222.9 468.0,225.0 467.1,227.1 466.7,229.3 466.0,231.4 464.0,233.6 464.0,235.7 464.1,237.9 462.0,240.0 463.4,242.2 462.2,244.4 461.7,246.7 461.9,248.9 463.9,251.1 463.7,253.3 463.9,255.6 465.3,257.8 465.0,260.0 464.7,262.2 464.2,264.4 463.0,266.7 463.3,268.9 463.9,271.1 462.5,273.3 461.8,275.6 461.7,277.8 462.0,280.0 461.8,282.2 463.3,284.4 463.9,286.7 464.1,288.9 465.2,291.1 464.4,293.3 465.1,295.6 465.3,297.8 466.0,300.0 464.9,302.2 465.5,304.4 464.2,306.7 463.5,308.9 464.4,311.1 465.0,313.3 464.0,315.6 463.3,317.8 463.0,320.0 462.6,322.5 463.6,325.0 463.3,327.5 463.2,330.0 464.1,332.5 465.2,335.0 464.3,337.2 464.4,339.3 463.1,341.5 464.6,344.1 465.2,346.8 466.3,349.0 467.9,351.1 465.8,354.4 464.3,356.5 463.6,358.7 464.0,361.4 466.8,364.0 465.0,366.7 463.6,369.4 462.0,372.6 463.3,375.3 463.1,378.0 462.5,380.1 462.0,382.3 460.7,384.2 459.0,386.1 456.0,388.1 455.0,390.0 456.1,392.1 457.4,394.2 458.8,396.4 460.6,398.5 462.0,400.6 463.6,403.8 463.4,406.5 464.7,409.2 467.1,410.8 467.9,412.4 470.6,415.6 469.8,418.3 472.2,421.0 469.6,423.2 468.1,425.3 468.4,427.5 466.6,429.6 467.3,431.8 465.8,433.9 464.7,437.1 466.4,439.0 468.4,440.9 471.1,443.6 472.6,445.8 473.3,447.9 476.0,451.1 474.7,452.7 472.7,454.3 476.0,456.6 477.0,459.0 476.5,461.7 474.5,463.5 472.7,465.4 472.2,468.1 470.6,470.8 472.1,474.1 471.7,477.3 471.2,479.5 469.0,481.6 470.6,483.8 471.1,485.9 471.2,488.4 470.7,490.9 468.4,493.4 468.8,495.9 468.7,498.4 467.4,500.9 469.7,503.1 468.9,505.2 469.0,507.4 469.9,510.1 471.7,512.7 472.1,514.9 470.6,517.0 468.3,519.1 466.8,521.3 465.1,524.5 465.8,527.8 463.2,530.5 463.6,533.2 464.3,536.1 463.3,538.9 462.5,541.8 464.0,543.9 464.4,546.1 464.7,548.2 466.2,550.5 467.2,552.7 467.9,555.0 467.7,557.7 468.4,560.4 469.3,562.5 469.0,564.7 470.0,566.9 470.6,569.0 472.0,571.5 471.9,574.0 471.1,576.5 471.5,579.2 472.7,581.9 470.6,584.0 470.3,586.2 470.4,588.4 470.6,590.5 470.6,592.9 469.5,595.4 469.7,597.8 469.0,600.2 468.6,603.1 467.5,605.9 467.4,608.8 466.3,611.7 466.6,614.5 465.8,617.4 464.4,619.5 463.1,621.7 463.3,624.6 464.1,627.4 464.1,630.3 464.8,633.2 463.7,636.0 463.1,638.9 464.7,641.8 465.2,644.6 463.6,647.5 464.4,650.1 465.8,652.8 468.2,655.0 468.4,657.1 468.3,659.3 468.8,661.4 470.0,663.6 471.2,666.2 471.5,668.9 472.7,671.5 473.0,673.6 474.1,675.8 477.0,677.9 477.7,681.1 476.5,684.4 477.5,686.9 478.8,689.4 478.1,691.9 478.8,695.1 479.2,698.3 478.8,700.8 477.7,703.4 474.9,705.9 473.5,709.1 473.8,712.3 474.7,714.5 474.9,716.6 475.5,719.5 475.5,722.3 474.4,725.2 476.4,727.9 477.6,730.6 478.8,733.1 479.1,735.6 481.3,738.1 481.9,740.5 481.4,743.0 481.6,745.4 481.3,747.8 481.2,749.9 482.8,752.1 484.0,754.2 485.7,756.9 484.6,759.6 485.9,762.9 485.6,766.1 486.0,769.3 486.7,772.5 487.3,774.9 487.5,777.2 487.4,779.6 489.2,781.9 489.4,784.3 491.4,786.8 492.9,789.0 494.3,791.1 493.6,793.3 495.0,795.5 496.0,797.7 495.9,799.8 496.4,802.0 496.4,804.2 495.7,806.5 495.9,808.8 495.4,811.0 496.8,813.2 496.4,815.5 496.1,817.7 495.9,819.8 496.5,822.0 496.2,824.2 494.9,826.4 494.1,828.5 493.9,830.7 491.5,833.0 491.0,835.2 491.8,837.5 489.7,839.8 488.5,842.0 488.8,844.3 487.5,846.4 486.2,848.5 486.8,850.6 484.7,852.8 484.5,854.9 483.5,857.0 482.5,859.1 482.1,861.2 479.9,863.5 479.3,865.7 479.3,868.0 478.1,870.2 477.7,872.5 476.1,874.7 475.1,876.9 475.2,879.0 474.1,881.2 472.8,883.4 472.0,885.6 471.9,887.7 470.2,889.9 469.3,892.2 470.6,894.6 469.4,896.9 468.7,899.2 469.6,901.6 469.1,903.9 468.8,906.3 469.4,908.6 470.3,911.0 469.5,913.3 470.3,915.7 470.1,918.0 469.4,920.4 469.4,922.7 467.8,924.9 467.1,927.2 467.7,929.4 467.8,931.7 466.4,933.9 466.7,936.2 466.3,938.4 466.0,940.7 465.4,942.9 464.5,945.1 464.1,947.3 465.0,949.5 463.6,951.7 464.1,953.9 463.4,956.1 461.9,958.3 462.5,960.5 461.8,962.7 461.0,964.8 459.3,966.8 459.2,968.9 458.2,970.9 456.3,973.0 455.0,975.0" stroke="#ff0000" stroke-width="2.08" />
<polyline points="461.5,181.0 463.1,182.8 465.0,184.6 467.6,186.4 468.7,188.2 470.0,190.0 469.6,192.5 468.0,195.0 467.5,197.5 467.0,200.0 469.3,202.0 469.7,204.0 471.1,206.0 472.2,208.0 475.0,210.0 473.8,211.7 470.9,213.3 470.7,215.0 469.7,216.7 467.7,218.3 465.0,220.0 465.6,222.0 465.7,224.0 467.4,226.0 467.7,228.0 470.0,230.0 467.4,232.0 465.6,234.0 464.9,236.0 463.8,238.0 463.0,240.0 464.3,242.0 465.4,244.0 466.2,246.0 467.5,248.0 468.0,250.0 466.6,252.0 466.9,254.0 466.5,256.0 465.5,258.0 463.0,260.0 464.6,262.0 465.3,264.0 466.5,266.0 467.3,268.0 470.0,270.0 469.0,272.1 469.2,274.3 467.9,276.4 468.2,278.6 467.7,280.7 465.3,282.9 465.0,285.0 466.2,287.1 466.6,289.3 468.3,291.4 468.2,293.6 467.8,295.7 469.2,297.9 470.0,300.0 470.8,302.0 471.0,304.0 472.1,306.0 474.6,308.0 475.0,310.0 473.2,312.0 471.4,314.0 469.5,316.0 467.8,318.0 468.0,320.0 466.5,322.5 466.2,325.0 465.5,327.5 465.0,330.0 467.1,332.5 469.0,335.0 467.8,337.1 466.8,339.3 464.1,342.5 465.1,344.6 467.9,346.8 470.4,347.9 472.8,349.0 473.8,350.1 472.8,351.7 470.0,353.3 467.6,354.9 465.8,356.5 468.0,358.1 468.4,359.8 471.4,361.4 472.2,363.0 469.4,364.4 468.2,365.9 465.8,367.3 463.3,369.5 462.0,371.6 461.0,374.1 462.5,376.6 463.6,379.1 462.0,381.2 460.2,383.0 458.9,384.7 458.7,386.5 456.8,388.2 455.0,390.0 457.4,391.9 457.6,393.8 458.3,395.7 461.1,397.6 462.0,399.5 464.7,401.7 464.5,404.9 465.8,408.1 469.0,409.5 470.0,410.8 473.2,412.1 474.4,413.5 478.1,415.6 479.8,417.4 480.2,419.2 482.4,421.0 480.6,423.1 478.1,425.3 476.7,426.9 474.9,428.5 474.3,430.6 472.7,432.8 470.3,434.7 468.4,436.6 471.1,439.3 472.9,440.1 476.5,440.9 478.0,442.2 480.3,443.6 483.2,445.2 485.1,446.8 488.1,449.0 489.4,451.1 486.1,452.2 484.0,453.2 483.0,454.3 484.0,455.8 484.6,456.9 487.0,457.9 489.9,459.0 489.4,462.2 485.9,463.3 484.0,464.4 483.7,466.5 480.8,468.7 480.4,470.9 478.1,473.0 479.2,475.6 481.3,478.3 477.2,480.0 476.5,481.6 477.8,483.8 478.1,485.9 477.1,488.0 477.0,490.2 474.4,492.8 476.0,495.2 476.5,497.7 476.2,499.9 473.8,502.0 472.7,505.2 474.9,508.4 478.1,509.7 480.2,510.9 481.3,512.2 478.1,514.3 480.8,517.0 478.7,518.1 476.4,519.2 473.3,520.3 474.0,522.4 472.4,524.6 471.1,526.7 470.2,528.9 466.8,531.0 466.4,533.1 464.7,535.3 466.0,537.5 466.8,539.6 464.7,542.8 466.8,546.1 469.2,548.0 469.5,549.8 472.6,552.4 473.3,555.0 474.4,558.2 476.4,560.4 477.4,562.5 478.7,564.7 478.7,569.0 478.1,572.2 478.5,574.0 480.4,575.8 481.9,577.6 481.5,580.3 482.4,583.0 481.6,585.1 480.8,587.3 480.5,589.5 478.1,591.6 480.8,594.8 477.7,596.4 476.5,598.0 475.0,600.7 474.9,603.4 474.5,606.1 473.3,608.8 472.9,611.5 472.2,614.1 470.5,615.9 469.0,617.7 466.8,619.5 465.9,622.2 465.8,624.9 466.4,627.0 464.7,629.2 466.6,631.0 468.0,632.8 469.0,634.6 466.2,637.2 465.2,639.9 466.2,642.1 467.3,644.2 466.8,646.4 467.4,650.7 469.8,652.1 471.1,653.6 473.8,655.0 473.7,657.1 474.9,659.3 475.8,661.4 478.0,663.6 479.7,665.7 480.7,667.8 483.1,669.9 484.0,672.0 486.2,673.6 486.6,675.2 487.5,676.8 490.5,678.4 488.5,680.8 488.3,683.3 489.7,685.4 490.5,687.6 492.1,689.7 492.1,693.5 492.5,695.9 495.3,698.3 491.5,700.5 490.5,702.6 488.6,704.8 487.8,706.9 485.2,709.6 485.6,712.3 486.3,715.0 487.8,717.7 487.1,720.4 485.6,723.0 488.7,724.6 490.0,726.2 490.4,727.9 492.1,729.5 492.4,732.2 494.2,734.9 495.2,736.3 497.9,737.8 499.6,739.2 498.6,742.1 498.5,744.9 499.1,747.8 501.0,749.9 503.0,752.1 504.5,754.2 505.2,757.1 506.3,759.9 506.1,762.8 507.0,765.0 509.4,767.1 509.8,769.3 508.8,772.5 509.7,774.5 511.2,776.4 513.2,778.4 513.6,780.4 514.8,782.3 515.7,784.3 518.4,786.8 521.0,788.9 521.2,791.0 522.3,793.1 522.7,795.2 524.7,797.5 526.9,799.7 527.7,802.0 528.0,804.3 526.4,806.5 526.0,808.8 528.3,811.0 529.5,813.3 528.6,815.5 528.4,817.6 526.2,819.8 525.8,821.9 523.5,824.0 523.5,826.4 522.1,828.7 522.0,831.1 522.0,833.4 521.8,835.8 520.4,837.5 517.5,839.2 517.0,840.9 514.2,842.6 513.4,844.3 511.6,846.3 510.3,848.3 510.1,850.4 508.0,852.4 507.4,854.4 505.2,856.1 504.3,857.8 503.2,859.5 501.5,861.2 499.0,862.9 498.2,864.6 497.3,866.3 494.2,867.9 492.2,869.6 491.4,871.3 489.4,873.6 488.7,875.8 487.1,878.1 485.8,880.1 484.9,882.0 483.0,884.0 480.8,886.0 479.0,887.9 477.8,889.9 478.8,892.2 477.3,894.6 477.9,896.9 478.4,899.2 477.5,901.6 477.1,903.9 475.9,906.3 476.1,908.6 476.5,911.1 477.2,913.7 476.4,916.2 477.8,918.7 477.5,921.1 476.5,923.5 476.6,925.9 475.9,928.4 475.0,930.8 474.7,933.2 473.6,935.6 472.6,937.9 471.9,940.1 472.3,942.4 472.2,944.6 470.3,946.9 469.4,949.1 467.5,951.3 466.7,953.5 466.6,955.7 466.1,957.8 464.5,960.0 462.7,962.2 461.8,964.4 460.3,966.5 460.0,968.6 457.3,970.8 456.8,972.9 455.0,975.0" stroke="#008000" stroke-width="2.08" />
<polyline points="461.5,123.5 463.7,123.8 466.3,124.0 468.8,124.2 470.0,124.5 471.4,124.8 475.0,125.0 476.5,125.5 480.2,126.0 483.0,126.5 485.5,127.0 487.9,127.5 490.0,128.0 492.0,128.8 495.0,129.7 496.2,130.9 499.6,132.2 500.5,133.4 503.4,134.7 502.1,136.9 502.3,139.2 501.7,141.4 499.1,143.1 497.8,144.7 495.0,146.4 495.3,148.6 498.6,150.9 500.1,153.1 497.1,153.6 496.4,154.0 494.9,154.5 491.3,155.0 489.0,155.5 486.2,155.9 485.0,156.4 486.8,157.7 488.2,159.1 491.0,160.4 492.0,161.8 495.0,163.1 497.1,164.1 498.8,165.1 500.7,166.1 503.1,167.1 505.0,168.1 502.7,169.8 499.7,171.4 498.7,173.1 496.7,174.8 495.9,175.5 493.2,176.1 489.9,176.8 487.2,177.4 485.0,178.1 483.2,178.8 479.7,179.5 477.0,180.2 474.8,181.0 472.8,181.7 471.3,182.4 468.4,183.1 466.6,185.2 467.0,187.3 465.8,189.4 465.0,191.5 465.7,193.6 467.0,195.8 468.3,197.9 470.0,200.0 470.3,202.0 471.8,204.0 472.2,206.0 474.0,208.0 475.0,210.0 475.3,212.0 476.7,214.0 478.6,216.0 480.0,218.0 477.4,219.6 475.1,221.2 473.0,222.8 471.5,224.4 470.0,226.0 468.7,227.8 467.8,229.6 464.9,231.3 464.2,233.1 461.7,234.9 462.3,237.0 464.4,239.1 466.5,241.2 466.1,243.2 467.2,245.3 469.4,247.4 470.2,249.5 471.7,251.6 469.4,254.1 468.3,256.6 468.6,259.1 468.4,261.6 472.1,262.3 473.6,263.1 474.4,263.8 476.6,264.5 479.8,265.3 482.6,266.0 484.7,266.7 486.0,267.5 488.4,268.2 486.4,269.6 484.8,271.1 482.3,272.5 481.5,274.0 480.1,275.4 476.8,276.9 475.0,278.3 477.2,279.9 478.1,281.6 480.9,283.2 481.7,284.9 480.5,286.1 478.7,287.3 475.8,288.5 473.5,289.7 471.4,290.9 470.3,292.1 468.4,293.3 469.8,294.6 473.0,296.0 474.5,297.3 475.9,298.6 478.0,300.0 481.3,301.3 483.0,302.6 485.0,303.9 487.6,305.3 488.4,306.6 491.4,308.3 492.2,310.0 493.8,311.6 495.0,313.3 494.0,314.1 491.3,315.0 488.4,315.8 485.9,316.6 484.3,317.5 481.7,318.3 482.8,319.4 485.6,320.5 488.4,321.6 490.6,322.8 492.9,323.9 493.4,325.0 492.3,326.3 490.5,327.7 487.7,329.0 484.7,330.4 483.4,331.7 483.5,335.0 480.8,337.2 479.4,338.2 476.5,339.3 479.5,340.2 480.9,341.1 484.0,342.0 482.2,342.7 479.6,343.4 477.0,344.1 474.9,344.7 472.6,345.4 471.2,346.1 469.0,346.8 470.4,347.9 474.4,349.0 473.3,352.2 471.7,352.8 469.0,353.3 472.7,353.7 474.2,354.1 475.4,354.5 478.7,354.9 480.2,356.5 482.4,358.1 480.5,360.6 478.7,363.0 480.8,366.2 477.6,366.7 476.5,367.2 472.7,367.8 471.1,368.3 468.7,370.5 467.9,372.6 465.3,374.5 464.1,376.4 462.0,378.0 462.5,382.3 465.5,383.1 467.4,383.9 464.4,385.2 462.0,386.6 462.8,389.9 462.0,393.1 463.8,394.3 466.6,395.6 467.9,396.8 470.0,399.5 471.2,402.2 472.2,404.9 470.0,408.1 472.8,408.7 475.4,409.2 478.6,409.8 479.7,410.3 482.9,411.2 484.5,412.0 487.4,412.9 489.1,413.7 491.6,414.6 493.4,416.4 495.3,418.1 498.0,419.9 498.8,421.3 501.5,422.8 503.9,424.2 503.9,427.5 501.2,428.4 498.1,429.2 495.9,430.1 493.9,431.0 490.9,431.9 488.3,432.8 486.2,435.0 484.1,435.7 480.8,436.4 479.2,437.1 478.7,439.3 476.9,440.9 473.8,442.5 473.3,444.7 471.5,445.4 468.6,446.1 466.8,446.8 469.3,447.6 472.7,448.4 475.4,451.1 477.8,452.2 478.8,453.2 481.3,454.3 483.0,456.8 485.6,459.5 483.5,460.9 480.8,462.2 481.3,466.5 479.7,469.2 478.5,470.0 474.9,470.8 477.6,473.0 474.9,475.6 478.1,477.3 476.9,478.9 474.9,480.5 475.8,482.6 477.0,484.8 476.5,489.1 478.7,491.2 479.9,492.9 484.0,494.5 484.2,496.6 487.3,498.8 488.9,500.1 491.6,501.4 495.3,503.1 491.9,504.7 490.5,506.3 493.5,507.2 495.1,508.1 498.5,509.0 501.1,510.6 503.4,512.2 501.6,513.5 500.1,514.7 498.0,516.0 497.1,518.6 495.3,521.3 497.1,523.2 498.5,525.1 496.7,526.6 494.8,528.0 493.3,529.5 491.6,531.0 490.5,534.2 489.4,535.5 486.7,536.9 485.7,538.0 483.7,539.0 480.8,540.1 480.9,542.2 478.7,544.4 480.8,545.5 483.0,546.6 486.6,548.0 488.9,549.3 487.8,552.1 487.3,555.0 484.8,557.7 485.1,560.4 484.4,562.5 487.3,564.7 483.6,566.0 483.0,567.4 479.6,568.8 477.0,570.1 478.1,572.2 477.8,573.5 475.8,574.7 472.7,576.0 473.8,579.7 475.6,581.1 479.4,582.6 481.3,584.0 483.0,587.8 481.4,590.0 479.2,592.1 481.3,595.3 483.1,596.6 484.9,597.8 487.8,599.1 486.2,602.8 488.8,604.4 491.3,606.1 491.6,607.7 491.1,609.5 487.3,611.4 487.6,614.1 488.3,616.8 486.8,617.9 484.7,618.9 481.9,620.0 481.1,622.7 481.7,625.4 482.4,628.1 485.7,629.7 487.3,631.3 485.0,633.2 482.4,635.1 482.6,638.0 481.3,641.0 480.8,644.2 483.0,645.3 485.9,646.4 488.3,647.5 488.9,649.6 489.9,651.8 490.6,654.5 492.6,657.1 493.4,658.9 495.5,660.7 497.5,662.5 495.5,663.9 491.6,665.2 491.9,667.6 492.6,670.0 490.8,671.8 488.9,673.6 490.2,676.0 492.6,678.4 494.2,680.3 495.8,682.2 496.9,684.1 498.5,686.0 495.8,688.4 494.2,690.8 492.4,693.5 490.5,696.2 491.0,698.9 491.6,701.6 489.2,703.7 487.1,705.9 486.2,708.0 484.9,710.3 484.4,712.7 484.6,715.0 485.5,717.4 486.7,719.8 485.1,723.0 486.7,724.5 488.7,725.9 490.5,727.4 491.6,729.0 494.2,730.6 495.2,732.2 498.0,733.8 497.6,737.0 496.9,740.3 500.4,741.7 501.7,743.2 504.5,744.6 506.6,747.2 509.2,748.1 510.6,749.0 513.1,749.9 513.6,754.2 516.0,756.0 518.2,757.8 520.0,759.6 520.0,763.4 523.1,764.3 526.6,765.2 528.1,766.1 530.0,767.7 531.4,769.3 533.5,770.9 536.7,772.2 538.3,773.4 541.0,774.7 543.6,775.5 545.5,776.3 547.9,777.1 549.6,777.9 552.5,779.0 554.0,780.0 556.1,781.1 557.5,782.7 561.4,784.3 563.9,786.0 565.0,787.6 566.6,789.3 569.7,790.8 569.9,792.2 572.4,793.7 573.4,795.2 575.0,796.7 576.5,798.2 578.6,799.6 581.0,801.1 582.7,804.5 582.4,807.0 584.3,809.6 586.9,812.1 585.8,814.7 587.8,817.2 587.8,820.0 588.2,822.9 588.6,825.7 590.5,827.8 590.3,829.9 587.9,831.9 587.3,833.8 585.2,835.8 585.5,837.7 583.5,839.6 581.6,841.5 580.2,843.4 578.7,844.9 576.8,846.4 574.4,847.9 571.7,849.4 569.6,850.4 567.7,851.4 566.6,852.4 563.2,853.4 561.6,854.4 558.8,855.2 557.8,856.1 556.2,856.9 553.1,857.8 551.0,859.1 547.5,860.3 545.6,861.6 543.8,862.9 541.4,864.1 538.9,865.3 538.6,866.4 536.6,867.6 534.5,868.8 534.0,871.3 533.0,873.9 530.3,876.4 529.3,878.5 528.4,880.6 526.1,882.8 524.4,884.9 522.8,887.0 522.6,889.1 521.4,891.2 520.1,893.3 520.4,895.6 518.2,897.8 517.0,900.1 516.7,902.4 516.0,904.6 514.2,906.9 514.2,909.3 513.3,911.6 512.9,914.0 511.8,916.3 510.0,918.7 508.9,921.1 507.5,923.4 506.6,925.8 505.6,928.1 506.6,930.5 504.8,932.5 504.2,934.5 502.3,936.5 502.7,938.4 501.3,940.4 499.8,942.4 498.9,944.4 498.0,946.3 497.2,948.3 494.4,950.3 492.7,952.2 491.4,954.2 490.0,956.6 489.3,959.0 488.8,961.3 488.1,963.7 486.3,966.1 488.5,968.6 488.5,971.2 490.1,973.7 490.5,976.2 488.8,978.2 487.1,980.3 487.0,982.3 485.9,984.4 485.4,986.4 483.5,988.3 482.2,990.1 480.8,992.0 479.9,993.8 478.7,995.7 476.9,997.1 476.1,998.6 473.1,1000.0 471.1,1001.2 469.5,1002.4 466.4,1003.6 465.1,1004.8 461.8,1006.0 458.9,1007.3 457.9,1008.7 455.0,1010.0" stroke="#0000ff" stroke-width="2.08" />
</g>
<rect x="461.5" y="123.2" width="204.00" height="1075.00" fill="none" stroke="#000" stroke-width="1.1"/>
<path d="M461.00 1197.7 v6.5 M461.00 123.7 v-6.5 M512.00 1197.7 v6.5 M512.00 123.7 v-6.5 M563.00 1197.7 v6.5 M563.00 123.7 v-6.5 M614.00 1197.7 v6.5 M614.00 123.7 v-6.5 M665.00 1197.7 v6.5 M665.00 123.7 v-6.5 M462.0 1198.20 h-6.5 M665.0 1198.20 h6.5 M462.0 983.20 h-6.5 M665.0 983.20 h6.5 M462.0 768.20 h-6.5 M665.0 768.20 h6.5 M462.0 553.20 h-6.5 M665.0 553.20 h6.5 M462.0 338.20 h-6.5 M665.0 338.20 h6.5 M462.0 123.20 h-6.5 M665.0 123.20 h6.5" stroke="#000" stroke-width="2" fill="none"/>
<text x="461.50" y="1219.40" font-size="17.01" textLength="9.72" lengthAdjust="spacingAndGlyphs" text-anchor="middle" stroke="#000" stroke-width="0.2" >0</text>
<text x="512.50" y="1219.40" font-size="17.01" textLength="19.44" lengthAdjust="spacingAndGlyphs" text-anchor="middle" stroke="#000" stroke-width="0.2" >50</text>
<text x="563.50" y="1219.40" font-size="17.01" textLength="29.16" lengthAdjust="spacingAndGlyphs" text-anchor="middle" stroke="#000" stroke-width="0.2" >100</text>
<text x="614.50" y="1219.40" font-size="17.01" textLength="29.16" lengthAdjust="spacingAndGlyphs" text-anchor="middle" stroke="#000" stroke-width="0.2" >150</text>
<text x="665.50" y="1219.40" font-size="17.01" textLength="29.16" lengthAdjust="spacingAndGlyphs" text-anchor="middle" stroke="#000" stroke-width="0.2" >200</text>
<text x="451.50" y="1203.80" font-size="17.01" textLength="9.72" lengthAdjust="spacingAndGlyphs" text-anchor="end" stroke="#000" stroke-width="0.2" >0</text>
<text x="451.50" y="988.80" font-size="17.01" textLength="9.72" lengthAdjust="spacingAndGlyphs" text-anchor="end" stroke="#000" stroke-width="0.2" >1</text>
<text x="451.50" y="773.80" font-size="17.01" textLength="9.72" lengthAdjust="spacingAndGlyphs" text-anchor="end" stroke="#000" stroke-width="0.2" >2</text>
<text x="451.50" y="558.80" font-size="17.01" textLength="9.72" lengthAdjust="spacingAndGlyphs" text-anchor="end" stroke="#000" stroke-width="0.2" >3</text>
<text x="451.50" y="343.80" font-size="17.01" textLength="9.72" lengthAdjust="spacingAndGlyphs" text-anchor="end" stroke="#000" stroke-width="0.2" >4</text>
<text x="451.50" y="128.80" font-size="17.01" textLength="9.72" lengthAdjust="spacingAndGlyphs" text-anchor="end" stroke="#000" stroke-width="0.2" >5</text>
<rect x="414.61" y="131.5" width="242.89" height="202.50" rx="3" ry="3" fill="#fff" fill-opacity="0.8" stroke="#cccccc" stroke-width="1.1"/>
<line x1="420.71" y1="144.90" x2="451.81" y2="144.90" stroke="#0000ff" stroke-width="2.08" stroke-linecap="square"/>
<text x="464.21" y="150.50" font-size="17.01" textLength="177.17" lengthAdjust="spacingAndGlyphs" stroke="#000" stroke-width="0.2" >aerExt_raman_355_FR</text>
<line x1="420.71" y1="169.62" x2="451.81" y2="169.62" stroke="#008000" stroke-width="2.08" stroke-linecap="square"/>
<text x="464.21" y="175.22" font-size="17.01" textLength="177.17" lengthAdjust="spacingAndGlyphs" stroke="#000" stroke-width="0.2" >aerExt_raman_532_FR</text>
<line x1="420.71" y1="194.34" x2="451.81" y2="194.34" stroke="#ff0000" stroke-width="2.08" stroke-linecap="square"/>
<text x="464.21" y="199.94" font-size="17.01" textLength="186.99" lengthAdjust="spacingAndGlyphs" stroke="#000" stroke-width="0.2" >aerExt_raman_1064_FR</text>
<line x1="420.71" y1="219.06" x2="451.81" y2="219.06" stroke="#800080" stroke-width="2.08" stroke-dasharray="6.1,2.85"/>
<text x="464.21" y="224.66" font-size="17.01" textLength="150.06" lengthAdjust="spacingAndGlyphs" stroke="#000" stroke-width="0.2" >aerExt_RR_355_FR</text>
<line x1="420.71" y1="243.78" x2="451.81" y2="243.78" stroke="#808000" stroke-width="2.08" stroke-dasharray="6.1,2.85"/>
<text x="464.21" y="249.38" font-size="17.01" textLength="150.06" lengthAdjust="spacingAndGlyphs" stroke="#000" stroke-width="0.2" >aerExt_RR_532_FR</text>
<line x1="420.71" y1="268.50" x2="451.81" y2="268.50" stroke="#ffa07a" stroke-width="2.08" stroke-dasharray="6.1,2.85"/>
<text x="464.21" y="274.10" font-size="17.01" textLength="159.87" lengthAdjust="spacingAndGlyphs" stroke="#000" stroke-width="0.2" >aerExt_RR_1064_FR</text>
<line x1="420.71" y1="293.22" x2="451.81" y2="293.22" stroke="#8cffff" stroke-width="2.08" stroke-linecap="square"/>
<text x="464.21" y="298.82" font-size="17.01" textLength="179.96" lengthAdjust="spacingAndGlyphs" stroke="#000" stroke-width="0.2" >aerExt_raman_355_NR</text>
<line x1="420.71" y1="317.94" x2="451.81" y2="317.94" stroke="#8cff8c" stroke-width="2.08" stroke-linecap="square"/>
<text x="464.21" y="323.54" font-size="17.01" textLength="179.96" lengthAdjust="spacingAndGlyphs" stroke="#000" stroke-width="0.2" >aerExt_raman_532_NR</text>
<line x1="777.50" y1="123.2" x2="777.50" y2="1198.2" stroke="#b0b0b0" stroke-width="1.1"/>
<line x1="862.50" y1="123.2" x2="862.50" y2="1198.2" stroke="#b0b0b0" stroke-width="1.1"/>
<line x1="947.50" y1="123.2" x2="947.50" y2="1198.2" stroke="#b0b0b0" stroke-width="1.1"/>
<line x1="777.5" y1="1198.20" x2="981.5" y2="1198.20" stroke="#b0b0b0" stroke-width="1.1"/>
<line x1="777.5" y1="983.20" x2="981.5" y2="983.20" stroke="#b0b0b0" stroke-width="1.1"/>
<line x1="777.5" y1="768.20" x2="981.5" y2="768.20" stroke="#b0b0b0" stroke-width="1.1"/>
<line x1="777.5" y1="553.20" x2="981.5" y2="553.20" stroke="#b0b0b0" stroke-width="1.1"/>
<line x1="777.5" y1="338.20" x2="981.5" y2="338.20" stroke="#b0b0b0" stroke-width="1.1"/>
<line x1="777.5" y1="123.20" x2="981.5" y2="123.20" stroke="#b0b0b0" stroke-width="1.1"/>
<g clip-path="url(#clip2)" fill="none" stroke-linejoin="round" stroke-linecap="butt">
<polyline points="762.5,335.5 791.3,337.0 762.5,338.5" stroke="#00ff00" stroke-width="2.08" stroke-opacity="0.5"/>
<polyline points="762.5,342.0 996.5,342.8" stroke="#00ffff" stroke-width="2.08" stroke-opacity="0.5"/>
<polyline points="762.5,345.2 996.5,346.0" stroke="#00ff00" stroke-width="2.08" stroke-opacity="0.5"/>
<polyline points="762.5,349.5 803.1,351.0 762.5,352.5" stroke="#00ff00" stroke-width="2.08" stroke-opacity="0.5"/>
<polyline points="762.5,365.5 996.5,366.3" stroke="#00ffff" stroke-width="2.08" stroke-opacity="0.5"/>
<polyline points="762.5,381.5 919.8,383.0 762.5,384.5" stroke="#00ff00" stroke-width="2.08" stroke-opacity="0.5"/>
<polyline points="837.8,387.0 919.8,387.8" stroke="#00ff00" stroke-width="2.08" stroke-opacity="0.5"/>
<polyline points="762.5,391.0 996.5,391.8" stroke="#00ffff" stroke-width="2.08" stroke-opacity="0.5"/>
<polyline points="762.5,389.0 941.8,390.5 762.5,392.0" stroke="#00ff00" stroke-width="2.08" stroke-opacity="0.5"/>
<polyline points="762.5,396.0 996.5,396.8" stroke="#00ff00" stroke-width="2.08" stroke-opacity="0.5"/>
<polyline points="762.5,398.0 996.5,398.8" stroke="#00ffff" stroke-width="2.08" stroke-opacity="0.5"/>
<polyline points="762.5,400.0 996.5,400.8" stroke="#00ff00" stroke-width="2.08" stroke-opacity="0.5"/>
<polyline points="762.5,402.5 996.5,403.3" stroke="#00ff00" stroke-width="2.08" stroke-opacity="0.5"/>
<polyline points="762.5,405.5 996.5,406.3" stroke="#00ff00" stroke-width="2.08" stroke-opacity="0.5"/>
<polyline points="762.5,407.5 996.5,408.3" stroke="#00ffff" stroke-width="2.08" stroke-opacity="0.5"/>
<polyline points="762.5,414.0 996.5,414.8" stroke="#00ffff" stroke-width="2.08" stroke-opacity="0.5"/>
<polyline points="762.5,416.0 996.5,416.8" stroke="#00ffff" stroke-width="2.08" stroke-opacity="0.5"/>
<polyline points="762.5,420.0 964.7,421.5 762.5,423.0" stroke="#00ffff" stroke-width="2.08" stroke-opacity="0.5"/>
<polyline points="762.5,434.0 996.5,434.8" stroke="#00ff00" stroke-width="2.08" stroke-opacity="0.5"/>
<polyline points="762.5,438.5 996.5,439.3" stroke="#00ff00" stroke-width="2.08" stroke-opacity="0.5"/>
<polyline points="762.5,440.0 996.5,440.8" stroke="#00ff00" stroke-width="2.08" stroke-opacity="0.5"/>
<polyline points="762.5,441.8 886.0,443.3 762.5,444.8" stroke="#00ffff" stroke-width="2.08" stroke-opacity="0.5"/>
<polyline points="762.5,454.5 968.0,457.0 762.5,459.5" stroke="#00ffff" stroke-width="2.08" stroke-opacity="0.5"/>
<polyline points="996.5,465.0 895.3,466.5 996.5,468.0" stroke="#00ff00" stroke-width="2.08" stroke-opacity="0.5"/>
<polyline points="762.5,474.5 996.5,475.3" stroke="#00ff00" stroke-width="2.08" stroke-opacity="0.5"/>
<polyline points="762.5,477.0 996.5,477.8" stroke="#00ff00" stroke-width="2.08" stroke-opacity="0.5"/>
<polyline points="762.5,481.5 996.5,482.3" stroke="#00ff00" stroke-width="2.08" stroke-opacity="0.5"/>
<polyline points="996.5,481.5 926.6,483.0 996.5,484.5" stroke="#00ffff" stroke-width="2.08" stroke-opacity="0.5"/>
<polyline points="762.5,485.3 912.2,487.0 762.5,488.7" stroke="#00ff00" stroke-width="2.08" stroke-opacity="0.5"/>
<polyline points="762.5,486.5 924.0,488.0 762.5,489.5" stroke="#00ffff" stroke-width="2.08" stroke-opacity="0.5"/>
<polyline points="899.6,497.5 936.8,498.3" stroke="#00ff00" stroke-width="2.08" stroke-opacity="0.5"/>
<polyline points="762.5,502.7 865.7,504.2 762.5,505.7" stroke="#00ffff" stroke-width="2.08" stroke-opacity="0.5"/>
<polyline points="762.5,508.5 996.5,509.3" stroke="#00ffff" stroke-width="2.08" stroke-opacity="0.5"/>
<polyline points="762.5,512.0 996.5,512.8" stroke="#00ff00" stroke-width="2.08" stroke-opacity="0.5"/>
<polyline points="762.5,518.5 996.5,519.3" stroke="#00ff00" stroke-width="2.08" stroke-opacity="0.5"/>
<polyline points="762.5,523.5 996.5,524.3" stroke="#00ffff" stroke-width="2.08" stroke-opacity="0.5"/>
<polyline points="762.5,530.5 996.5,531.3" stroke="#00ff00" stroke-width="2.08" stroke-opacity="0.5"/>
<polyline points="762.5,535.5 996.5,536.3" stroke="#00ff00" stroke-width="2.08" stroke-opacity="0.5"/>
<polyline points="762.5,538.0 996.5,538.8" stroke="#00ff00" stroke-width="2.08" stroke-opacity="0.5"/>
<polyline points="762.5,541.4 996.5,542.2" stroke="#00ff00" stroke-width="2.08" stroke-opacity="0.5"/>
<polyline points="762.5,543.5 901.2,545.0 762.5,546.5" stroke="#00ff00" stroke-width="2.08" stroke-opacity="0.5"/>
<polyline points="996.5,550.0 880.9,551.5 996.5,553.0" stroke="#00ff00" stroke-width="2.08" stroke-opacity="0.5"/>
<polyline points="762.5,554.5 821.7,556.0 762.5,557.5" stroke="#00ffff" stroke-width="2.08" stroke-opacity="0.5"/>
<polyline points="762.5,557.5 996.5,558.3" stroke="#00ff00" stroke-width="2.08" stroke-opacity="0.5"/>
<polyline points="762.5,560.0 919.0,563.0 762.5,566.0" stroke="#00ffff" stroke-width="2.08" stroke-opacity="0.5"/>
<polyline points="762.5,570.0 958.8,571.5 762.5,573.0" stroke="#00ffff" stroke-width="2.08" stroke-opacity="0.5"/>
<polyline points="762.5,575.5 996.5,576.3" stroke="#00ffff" stroke-width="2.08" stroke-opacity="0.5"/>
<polyline points="762.5,577.8 996.5,578.6" stroke="#00ffff" stroke-width="2.08" stroke-opacity="0.5"/>
<polyline points="762.5,582.0 996.5,582.8" stroke="#00ff00" stroke-width="2.08" stroke-opacity="0.5"/>
<polyline points="762.5,597.3 996.5,598.1" stroke="#00ffff" stroke-width="2.08" stroke-opacity="0.5"/>
<polyline points="762.5,610.0 996.5,610.8" stroke="#00ff00" stroke-width="2.08" stroke-opacity="0.5"/>
<polyline points="762.5,616.5 966.4,618.0 762.5,619.5" stroke="#00ffff" stroke-width="2.08" stroke-opacity="0.5"/>
<polyline points="762.5,621.0 996.5,621.8" stroke="#00ffff" stroke-width="2.08" stroke-opacity="0.5"/>
<polyline points="762.5,630.5 996.5,631.3" stroke="#00ff00" stroke-width="2.08" stroke-opacity="0.5"/>
<polyline points="762.5,655.5 996.5,656.3" stroke="#00ff00" stroke-width="2.08" stroke-opacity="0.5"/>
<polyline points="762.5,661.0 996.5,661.8" stroke="#00ff00" stroke-width="2.08" stroke-opacity="0.5"/>
<polyline points="762.5,663.5 996.5,664.3" stroke="#00ff00" stroke-width="2.08" stroke-opacity="0.5"/>
<polyline points="885.3,665.0 995.0,665.8" stroke="#00ffff" stroke-width="2.08" stroke-opacity="0.5"/>
<polyline points="815.0,670.5 892.8,671.3" stroke="#00ffff" stroke-width="2.08" stroke-opacity="0.5"/>
<polyline points="762.5,673.0 798.0,676.0 762.5,679.0" stroke="#00ffff" stroke-width="2.08" stroke-opacity="0.5"/>
<polyline points="762.5,681.0 996.5,681.8" stroke="#00ffff" stroke-width="2.08" stroke-opacity="0.5"/>
<polyline points="996.5,683.5 890.3,686.5 996.5,689.5" stroke="#00ffff" stroke-width="2.08" stroke-opacity="0.5"/>
<polyline points="762.5,696.5 996.5,697.3" stroke="#00ff00" stroke-width="2.08" stroke-opacity="0.5"/>
<polyline points="762.5,704.7 996.5,705.5" stroke="#00ff00" stroke-width="2.08" stroke-opacity="0.5"/>
<polyline points="762.5,722.8 996.5,723.6" stroke="#00ffff" stroke-width="2.08" stroke-opacity="0.5"/>
<polyline points="762.5,729.0 996.5,729.8" stroke="#00ff00" stroke-width="2.08" stroke-opacity="0.5"/>
<polyline points="762.5,731.0 996.5,731.8" stroke="#00ff00" stroke-width="2.08" stroke-opacity="0.5"/>
<polyline points="762.5,732.6 996.5,733.4" stroke="#00ff00" stroke-width="2.08" stroke-opacity="0.5"/>
<polyline points="762.5,754.6 996.5,755.4" stroke="#00ff00" stroke-width="2.08" stroke-opacity="0.5"/>
<polyline points="762.5,757.0 996.5,757.8" stroke="#00ffff" stroke-width="2.08" stroke-opacity="0.5"/>
<polyline points="762.5,759.5 996.5,760.3" stroke="#00ffff" stroke-width="2.08" stroke-opacity="0.5"/>
<polyline points="990.0,776.0 960.7,777.2 990.0,778.5 990.0,783.5 900.0,785.0 771.0,788.4 771.0,800.0 822.6,802.4 785.5,804.6 857.0,807.3 900.0,809.4 953.8,812.6 926.9,814.8 936.6,815.9 905.4,819.1 947.3,822.8 900.0,826.6 823.7,830.4 843.0,836.8 822.6,839.0 771.0,844.4 771.0,847.6 920.4,852.4 892.5,854.6 941.9,858.3 990.0,863.2 985.0,867.5 949.5,872.3 990.0,876.0 914.0,879.8 951.6,882.0 771.0,890.0" stroke="#00ffff" stroke-width="2.08" stroke-opacity="0.5"/>
<polyline points="771.0,782.5 990.0,782.8" stroke="#00ff00" stroke-width="2.08" stroke-opacity="0.5"/>
<polyline points="872.0,792.6 990.0,792.6" stroke="#00ff00" stroke-width="3.5" stroke-opacity="0.5"/>
<polyline points="771.0,794.4 990.0,794.8" stroke="#00ff00" stroke-width="2.08" stroke-opacity="0.5"/>
<polyline points="771.0,816.4 990.0,816.8" stroke="#00ff00" stroke-width="2.08" stroke-opacity="0.5"/>
<polyline points="990.0,817.0 903.2,818.0 990.0,819.1 885.0,820.7 990.0,822.3 943.0,823.4 990.0,827.0" stroke="#00ff00" stroke-width="2.08" stroke-opacity="0.5"/>
<polyline points="771.0,829.8 990.0,830.2" stroke="#00ff00" stroke-width="2.08" stroke-opacity="0.5"/>
<polyline points="771.0,852.9 907.5,855.6 944.6,859.4 895.7,860.5 906.4,862.6 835.5,865.3 860.2,866.9 806.5,868.5 833.4,870.1 771.0,871.2" stroke="#00ff00" stroke-width="2.08" stroke-opacity="0.5"/>
<polyline points="771.0,900.5 796.8,902.4 771.0,904.0 771.0,909.0 806.5,910.5 771.0,912.5 771.0,914.0 848.4,915.8 862.4,917.4 926.9,918.5 907.5,920.1 990.0,921.7 990.0,927.0 953.8,928.2 990.0,929.8 947.3,931.4 897.9,934.6 946.2,937.8 907.5,942.7 771.0,944.9 771.0,951.0 841.9,952.9 771.0,954.5 771.0,963.0 807.6,964.2 771.0,965.5 771.0,969.0 848.4,971.7 876.4,976.0 909.7,982.5 866.7,984.6 990.0,986.2 990.0,990.0 966.1,991.0 988.0,992.7 947.3,997.0 971.0,1000.2 875.3,1002.3 771.0,1005.6" stroke="#00ffff" stroke-width="2.08" stroke-opacity="0.5"/>
<polyline points="771.0,896.5 788.7,897.5 771.0,898.5 771.0,906.0 851.6,910.4 811.9,912.6 771.0,914.2 814.0,916.9 771.0,920.1 771.0,945.0 864.5,950.7 771.0,953.4 771.0,955.0 847.9,958.3 820.5,960.4 874.2,963.6 771.0,966.3 771.0,970.0 862.4,972.8 911.3,976.5 803.3,982.5 771.0,983.5 806.5,984.6 771.0,986.0 771.0,989.0 794.7,991.0 771.0,993.0" stroke="#00ff00" stroke-width="2.08" stroke-opacity="0.5"/>
<polyline points="971.5,1000.5 875.0,1002.3 864.5,1003.8 777.8,1006.0 760.0,1007.0 777.8,1009.8 834.3,1011.8 784.6,1013.6 831.3,1015.1 797.4,1016.9 820.8,1019.9 816.2,1021.9 846.4,1024.4 890.9,1026.4 849.4,1029.4 889.3,1035.9 861.5,1036.9 903.7,1041.5 872.0,1047.5 924.8,1049.0 899.1,1050.5 914.2,1053.5 891.6,1058.0 894.6,1061.8 947.4,1064.8 969.9,1066.3 938.3,1070.9 980.6,1073.9 935.3,1077.6 907.4,1084.1 923.3,1087.4 962.5,1089.0 948.9,1092.0 961.0,1095.0 926.3,1098.7 917.2,1103.3 938.3,1110.1 907.4,1113.1 936.8,1116.1 913.5,1117.6 930.8,1119.9 902.9,1125.9 923.3,1128.1 941.4,1131.2 951.9,1135.7 990.0,1141.7 990.0,1155.0 980.6,1155.3 760.0,1159.0" stroke="#00ffff" stroke-width="2.08" stroke-opacity="0.5"/>
<polyline points="760.0,1020.0 777.8,1022.6 790.6,1024.1 832.8,1026.4 790.6,1027.9 828.3,1030.9 875.0,1034.7 855.4,1037.4 777.8,1040.0 760.0,1041.0 760.0,1064.0 777.8,1066.3 787.6,1066.3 801.2,1070.9 811.7,1076.1 777.8,1078.4 760.0,1079.0 760.0,1158.0 777.8,1159.5 990.0,1161.0" stroke="#00ff00" stroke-width="2.08" stroke-opacity="0.5"/>
<polyline points="762.5,1187.2 996.5,1187.2" stroke="#00ff00" stroke-width="2.08" stroke-opacity="0.5"/>
<polyline points="956.4,1185.6 990.0,1185.6" stroke="#00ff00" stroke-width="3.5" stroke-opacity="0.5"/>
<polyline points="760.0,124.3 990.0,125.5" stroke="#0000ff" stroke-width="2.08" />
<polyline points="760.0,127.5 990.0,128.0" stroke="#00ff00" stroke-width="2.08" stroke-opacity="0.5"/>
<polyline points="760.0,130.5 990.0,130.8" stroke="#00ff00" stroke-width="2.08" stroke-opacity="0.5"/>
<polyline points="760.0,129.0 990.0,129.4" stroke="#00ffff" stroke-width="2.08" stroke-opacity="0.5"/>
<polyline points="762.5,132.0 996.5,132.8" stroke="#00ff00" stroke-width="2.08" stroke-opacity="0.5"/>
<polyline points="762.5,136.6 996.5,137.4" stroke="#00ff00" stroke-width="2.08" stroke-opacity="0.5"/>
<polyline points="762.5,140.1 996.5,140.9" stroke="#00ffff" stroke-width="2.08" stroke-opacity="0.5"/>
<polyline points="762.5,143.8 996.5,144.6" stroke="#00ff00" stroke-width="2.08" stroke-opacity="0.5"/>
<polyline points="996.5,145.5 909.3,146.5 996.5,147.6" stroke="#00ffff" stroke-width="2.08" stroke-opacity="0.5"/>
<polyline points="996.5,150.2 807.4,151.2 996.5,152.3" stroke="#00ff00" stroke-width="2.08" stroke-opacity="0.5"/>
<polyline points="762.5,153.2 996.5,154.0" stroke="#00ffff" stroke-width="2.08" stroke-opacity="0.5"/>
<polyline points="762.5,155.1 996.5,155.9" stroke="#00ff00" stroke-width="2.08" stroke-opacity="0.5"/>
<polyline points="762.5,157.1 872.5,159.4 762.5,161.7" stroke="#00ff00" stroke-width="2.08" stroke-opacity="0.5"/>
<polyline points="762.5,159.6 937.1,162.1 762.5,164.5" stroke="#00ff00" stroke-width="2.08" stroke-opacity="0.5"/>
<polyline points="762.5,164.5 996.5,165.3" stroke="#00ffff" stroke-width="2.08" stroke-opacity="0.5"/>
<polyline points="996.5,165.7 850.9,168.6 996.5,171.6" stroke="#00ffff" stroke-width="2.08" stroke-opacity="0.5"/>
<polyline points="762.5,167.5 866.8,170.4 762.5,173.4" stroke="#00ffff" stroke-width="2.08" stroke-opacity="0.5"/>
<polyline points="762.5,171.3 828.8,172.5 762.5,173.6" stroke="#00ff00" stroke-width="2.08" stroke-opacity="0.5"/>
<polyline points="762.5,177.2 996.5,178.0" stroke="#00ff00" stroke-width="2.08" stroke-opacity="0.5"/>
<polyline points="762.5,179.7 996.5,180.5" stroke="#00ffff" stroke-width="2.08" stroke-opacity="0.5"/>
<polyline points="762.5,183.9 996.5,184.7" stroke="#00ffff" stroke-width="2.08" stroke-opacity="0.5"/>
<polyline points="762.5,184.7 802.4,187.0 762.5,189.3" stroke="#00ffff" stroke-width="2.08" stroke-opacity="0.5"/>
<polyline points="762.5,190.1 996.5,190.9" stroke="#00ffff" stroke-width="2.08" stroke-opacity="0.5"/>
<polyline points="762.5,194.8 996.5,195.6" stroke="#00ff00" stroke-width="2.08" stroke-opacity="0.5"/>
<polyline points="762.5,199.3 996.5,200.1" stroke="#00ffff" stroke-width="2.08" stroke-opacity="0.5"/>
<polyline points="762.5,203.6 996.5,204.4" stroke="#00ff00" stroke-width="2.08" stroke-opacity="0.5"/>
<polyline points="762.5,208.4 996.5,209.2" stroke="#00ffff" stroke-width="2.08" stroke-opacity="0.5"/>
<polyline points="762.5,212.5 996.5,213.3" stroke="#00ffff" stroke-width="2.08" stroke-opacity="0.5"/>
<polyline points="762.5,214.5 996.5,215.3" stroke="#00ffff" stroke-width="2.08" stroke-opacity="0.5"/>
<polyline points="762.5,217.1 996.5,217.9" stroke="#00ff00" stroke-width="2.08" stroke-opacity="0.5"/>
<polyline points="762.5,220.2 996.5,221.0" stroke="#00ff00" stroke-width="2.08" stroke-opacity="0.5"/>
<polyline points="762.5,223.7 996.5,224.5" stroke="#00ff00" stroke-width="2.08" stroke-opacity="0.5"/>
<polyline points="996.5,224.6 824.9,226.0 996.5,227.4" stroke="#00ff00" stroke-width="2.08" stroke-opacity="0.5"/>
<polyline points="762.5,228.4 945.1,230.6 762.5,232.8" stroke="#00ffff" stroke-width="2.08" stroke-opacity="0.5"/>
<polyline points="762.5,230.3 822.8,232.7 762.5,235.1" stroke="#00ffff" stroke-width="2.08" stroke-opacity="0.5"/>
<polyline points="762.5,237.0 996.5,237.8" stroke="#00ff00" stroke-width="2.08" stroke-opacity="0.5"/>
<polyline points="762.5,239.3 996.5,240.1" stroke="#00ff00" stroke-width="2.08" stroke-opacity="0.5"/>
<polyline points="996.5,240.3 894.2,241.8 996.5,243.4" stroke="#00ff00" stroke-width="2.08" stroke-opacity="0.5"/>
<polyline points="762.5,244.2 996.5,245.0" stroke="#00ffff" stroke-width="2.08" stroke-opacity="0.5"/>
<polyline points="762.5,247.4 996.5,248.2" stroke="#00ffff" stroke-width="2.08" stroke-opacity="0.5"/>
<polyline points="762.5,250.3 996.5,251.1" stroke="#00ff00" stroke-width="2.08" stroke-opacity="0.5"/>
<polyline points="996.5,250.8 902.3,253.2 996.5,255.5" stroke="#00ff00" stroke-width="2.08" stroke-opacity="0.5"/>
<polyline points="762.5,255.4 996.5,256.2" stroke="#00ffff" stroke-width="2.08" stroke-opacity="0.5"/>
<polyline points="762.5,257.6 781.5,259.9 762.5,262.2" stroke="#00ff00" stroke-width="2.08" stroke-opacity="0.5"/>
<polyline points="996.5,261.8 791.8,263.9 996.5,266.0" stroke="#00ffff" stroke-width="2.08" stroke-opacity="0.5"/>
<polyline points="762.5,265.6 928.2,268.4 762.5,271.2" stroke="#00ff00" stroke-width="2.08" stroke-opacity="0.5"/>
<polyline points="996.5,269.7 856.8,272.3 996.5,274.8" stroke="#00ff00" stroke-width="2.08" stroke-opacity="0.5"/>
<polyline points="762.5,275.8 996.5,276.6" stroke="#00ff00" stroke-width="2.08" stroke-opacity="0.5"/>
<polyline points="762.5,279.3 996.5,280.1" stroke="#00ff00" stroke-width="2.08" stroke-opacity="0.5"/>
<polyline points="996.5,281.3 915.9,283.0 996.5,284.8" stroke="#00ff00" stroke-width="2.08" stroke-opacity="0.5"/>
<polyline points="762.5,284.1 793.4,286.6 762.5,289.1" stroke="#00ffff" stroke-width="2.08" stroke-opacity="0.5"/>
<polyline points="762.5,290.2 996.5,291.0" stroke="#00ff00" stroke-width="2.08" stroke-opacity="0.5"/>
<polyline points="762.5,292.6 952.4,294.1 762.5,295.6" stroke="#00ff00" stroke-width="2.08" stroke-opacity="0.5"/>
<polyline points="762.5,296.8 996.5,297.6" stroke="#00ff00" stroke-width="2.08" stroke-opacity="0.5"/>
<polyline points="762.5,296.3 861.5,299.1 762.5,301.9" stroke="#00ff00" stroke-width="2.08" stroke-opacity="0.5"/>
<polyline points="762.5,302.9 996.5,303.7" stroke="#00ffff" stroke-width="2.08" stroke-opacity="0.5"/>
<polyline points="762.5,305.0 850.5,307.1 762.5,309.3" stroke="#00ff00" stroke-width="2.08" stroke-opacity="0.5"/>
<polyline points="996.5,306.9 938.8,309.3 996.5,311.7" stroke="#00ff00" stroke-width="2.08" stroke-opacity="0.5"/>
<polyline points="762.5,312.0 996.5,312.8" stroke="#00ffff" stroke-width="2.08" stroke-opacity="0.5"/>
<polyline points="762.5,314.6 996.5,315.4" stroke="#00ffff" stroke-width="2.08" stroke-opacity="0.5"/>
<polyline points="762.5,318.3 996.5,319.1" stroke="#00ff00" stroke-width="2.08" stroke-opacity="0.5"/>
<polyline points="762.5,322.6 996.5,323.4" stroke="#00ff00" stroke-width="2.08" stroke-opacity="0.5"/>
<polyline points="996.5,322.2 785.4,324.6 996.5,327.0" stroke="#00ffff" stroke-width="2.08" stroke-opacity="0.5"/>
<polyline points="762.5,327.3 996.5,328.1" stroke="#00ff00" stroke-width="2.08" stroke-opacity="0.5"/>
<polyline points="762.5,329.5 996.5,330.3" stroke="#00ff00" stroke-width="2.08" stroke-opacity="0.5"/>
<polyline points="762.5,333.8 996.5,334.6" stroke="#00ffff" stroke-width="2.08" stroke-opacity="0.5"/>
<polyline points="760.0,176.0 990.0,177.2" stroke="#008000" stroke-width="2.08" />
<polyline points="760.0,182.2 925.5,183.7 760.0,185.2" stroke="#008000" stroke-width="2.08" />
<polyline points="760.0,191.7 932.7,193.2 760.0,194.7" stroke="#ff0000" stroke-width="2.08" />
<polyline points="760.0,197.2 800.1,198.7 760.0,200.2" stroke="#ff0000" stroke-width="2.08" />
<polyline points="760.0,204.0 990.0,205.2" stroke="#ff0000" stroke-width="2.08" />
<polyline points="760.0,208.6 990.0,209.8" stroke="#ff0000" stroke-width="2.08" />
<polyline points="760.0,213.9 990.0,215.1" stroke="#0000ff" stroke-width="2.08" />
<polyline points="760.0,223.1 990.0,224.3" stroke="#0000ff" stroke-width="2.08" />
<polyline points="760.0,231.9 866.5,233.4 760.0,234.9" stroke="#ff0000" stroke-width="2.08" />
<polyline points="760.0,236.7 990.0,237.9" stroke="#ff0000" stroke-width="2.08" />
<polyline points="760.0,242.0 835.4,243.5 760.0,245.0" stroke="#ff0000" stroke-width="2.08" />
<polyline points="760.0,251.7 902.6,253.2 760.0,254.7" stroke="#008000" stroke-width="2.08" />
<polyline points="760.0,256.8 990.0,258.0" stroke="#008000" stroke-width="2.08" />
<polyline points="760.0,266.6 990.0,267.8" stroke="#0000ff" stroke-width="2.08" />
<polyline points="760.0,272.8 830.3,274.3 760.0,275.8" stroke="#ff0000" stroke-width="2.08" />
<polyline points="760.0,278.8 896.7,280.3 760.0,281.8" stroke="#008000" stroke-width="2.08" />
<polyline points="760.0,287.0 990.0,288.2" stroke="#ff0000" stroke-width="2.08" />
<polyline points="760.0,295.9 814.5,297.4 760.0,298.9" stroke="#0000ff" stroke-width="2.08" />
<polyline points="760.0,302.8 990.0,304.0" stroke="#ff0000" stroke-width="2.08" />
<polyline points="760.0,312.6 849.0,314.1 760.0,315.6" stroke="#ff0000" stroke-width="2.08" />
<polyline points="760.0,319.1 850.7,320.6 760.0,322.1" stroke="#008000" stroke-width="2.08" />
<polyline points="760.0,326.5 990.0,327.7" stroke="#ff0000" stroke-width="2.08" />
<polyline points="846.5,336.7 843.1,337.2 840.4,337.6 838.5,338.1 837.0,338.6 833.9,339.0 831.1,339.5 828.8,340.0 827.6,340.4 825.3,340.9 823.1,341.1 821.1,341.3 817.8,341.5 815.9,341.6 813.6,341.8 811.2,342.0 810.2,342.2 806.5,342.4 803.4,342.6 802.7,342.8 800.0,342.9 797.1,343.1 794.8,343.3 793.2,343.5 796.3,343.6 797.7,343.7 799.7,343.8 802.7,344.0 805.3,344.1 808.7,344.2 810.1,344.3 808.2,344.5 805.2,344.7 804.0,344.9 802.6,345.1 798.7,345.4 797.2,345.6 795.7,345.8 793.3,346.0 790.1,346.2 788.1,346.4 791.2,346.5 792.5,346.6 795.2,346.6 796.9,346.7 798.4,346.8 801.1,346.9 803.5,347.0 806.0,347.1 809.0,347.1 812.1,347.2 815.1,347.3 817.7,347.4 820.3,347.5 822.3,347.5 823.4,347.6 825.3,347.7 827.6,347.9 830.1,348.1 832.7,348.3 833.9,348.6 835.9,348.8 839.7,349.0 842.0,349.2 844.5,349.4 845.7,349.6 848.0,349.8 851.5,350.0 853.9,350.2 856.9,350.5 857.9,350.7 860.1,350.9 862.5,351.1 860.4,351.3 858.7,351.5 856.2,351.7 852.9,351.9 850.0,352.0 849.4,352.2 846.1,352.4 843.5,352.6 842.2,352.8 844.5,353.0 847.5,353.2 849.3,353.4 851.4,353.6 854.2,353.7 855.6,353.9 857.6,354.1 860.3,354.3 862.5,354.5 859.4,354.6 856.7,354.7 854.3,354.8 853.3,354.9 851.5,355.0 850.2,355.1 847.9,355.2 844.5,355.3 842.8,355.4 841.3,355.4 838.0,355.5 834.5,355.6 832.5,355.7 830.1,355.8 827.5,355.9 824.8,356.0 822.5,356.1 821.9,356.2 818.6,356.6 817.0,357.1 814.2,357.5 811.5,357.9 810.5,358.3 807.6,358.8 804.8,359.2 803.3,359.6 805.7,359.9 807.8,360.1 810.8,360.4 812.3,360.6 814.5,360.9 817.1,361.1 818.9,361.4 821.5,361.6 823.3,361.9 825.3,362.1 826.3,362.3 829.8,362.5 832.5,362.7 835.5,363.0 837.5,363.2 839.3,363.4 840.5,363.6 843.1,363.8 840.1,364.1 837.8,364.4 834.8,364.7 832.6,365.1 830.1,365.4 827.9,365.7 826.2,366.0 823.6,366.3 820.9,366.8 819.5,367.2 817.5,367.7 815.7,368.2 811.8,368.6 810.1,369.1 808.7,369.6 805.5,370.0 803.3,370.5 801.3,370.8 798.5,371.1 796.0,371.5 794.6,371.8 791.7,372.1 788.7,372.5 786.1,372.8 784.7,373.1 781.9,373.9 778.8,374.8 776.3,375.6 777.8,376.3 779.9,377.0 782.9,377.8 785.2,378.5 787.5,379.2 789.8,379.9 787.5,380.3 784.6,380.7 781.7,381.2 780.1,381.6 777.7,382.0 776.3,382.4 772.8,382.8 770.1,383.2 768.5,383.7 767.4,384.1 764.7,384.5 763.6,385.0 761.2,385.4 758.5,385.8 759.1,388.4 758.2,391.0 758.6,393.6 759.3,396.2 758.5,398.8 760.6,399.1 762.0,399.4 764.9,399.6 766.6,399.9 768.9,400.2 771.6,400.4 774.9,400.7 776.3,401.0 779.0,401.1 781.8,401.3 783.1,401.4 785.1,401.5 787.8,401.7 789.8,401.8 791.0,403.5 793.2,405.2 789.8,407.8 791.7,408.4 794.6,408.9 795.7,409.5 799.4,410.0 801.7,410.6 803.3,411.1 806.6,411.4 809.0,411.7 809.7,412.0 811.6,412.2 814.2,412.5 817.8,412.8 818.8,413.1 820.2,413.4 822.6,413.7 824.4,414.0 827.2,414.3 830.0,414.5 832.4,414.8 834.0,415.1 837.2,415.4 833.8,417.1 835.9,417.7 838.1,418.2 840.5,418.8 843.0,419.4 845.8,420.1 848.1,420.7 849.0,421.3 846.4,421.9 842.7,422.4 840.5,423.0 838.9,424.7 835.5,425.0 833.5,425.3 832.0,425.6 828.7,425.8 825.9,426.1 823.6,426.4 822.3,427.9 820.2,429.4 818.5,430.8 815.2,432.3 813.3,432.8 810.9,433.3 808.4,433.8 807.1,434.2 805.1,434.7 803.4,435.2 799.9,435.7 798.3,439.1 801.1,439.4 803.1,439.6 805.7,439.9 807.4,440.1 808.6,440.4 811.3,440.6 814.4,440.9 817.0,441.1 817.8,441.4 820.2,441.6 821.5,442.4 823.5,443.3 827.0,444.1 828.5,445.0 830.4,445.8 832.1,446.1 834.6,446.5 837.5,446.8 839.4,447.1 841.2,447.4 843.3,447.8 845.6,448.1 849.0,448.4 847.3,450.9 849.9,451.2 851.3,451.4 854.7,451.7 856.4,451.9 859.1,452.2 856.9,452.5 853.7,452.8 851.0,453.2 850.1,453.5 848.0,453.8 845.6,454.1 843.1,454.5 841.4,454.8 838.9,455.1 840.3,455.6 843.3,456.2 845.3,456.7 848.7,457.2 850.9,457.8 853.6,458.3 854.7,458.9 857.5,459.4 858.3,462.7 857.0,463.2 855.0,463.7 852.2,464.2 849.7,464.6 847.7,465.1 844.4,465.6 842.2,466.1 840.7,466.7 838.5,467.4 836.2,468.0 834.7,468.6 833.2,469.3 829.8,469.9 826.6,470.6 825.3,471.2 825.6,473.5 828.2,475.7 828.7,478.0 831.0,478.8 832.9,479.6 831.9,480.0 828.3,480.5 826.1,480.9 823.3,481.3 821.4,481.7 818.6,482.1 817.7,482.6 815.2,483.0 817.0,483.9 820.1,484.7 822.6,485.6 823.6,486.4 822.0,488.5 820.2,490.6 817.2,491.2 814.1,491.9 812.9,492.6 810.1,493.2 812.4,494.2 814.9,495.3 817.0,496.4 818.6,497.4 817.4,498.7 815.6,499.9 812.2,501.2 811.3,502.5 809.3,503.7 806.7,505.0 807.9,506.0 809.5,507.0 812.9,508.1 815.6,509.1 816.9,510.1 818.4,510.6 820.0,511.1 822.6,511.6 824.7,512.0 826.3,512.5 828.8,513.0 832.1,513.5 829.1,514.4 827.2,515.2 825.4,516.0 823.6,516.9 825.1,517.3 829.5,517.7 825.5,518.0 825.0,518.4 823.3,518.7 821.0,519.1 819.0,519.4 815.6,519.7 812.6,520.1 811.2,520.4 808.8,520.8 805.9,521.1 805.1,523.4 803.6,525.6 802.5,527.9 801.5,528.7 798.2,529.6 795.7,530.4 792.9,531.3 791.7,532.1 790.8,533.0 788.1,533.8 784.7,535.5 787.1,537.2 789.6,538.8 791.5,540.5 790.0,541.4 787.9,542.2 785.4,543.0 783.0,543.9 784.3,544.9 786.9,545.8 789.0,546.8 790.9,547.8 793.8,548.8 796.4,549.7 798.3,550.7 801.9,551.7 803.1,552.7 805.2,553.8 806.5,554.8 808.4,555.8 810.2,557.5 811.8,559.2 813.5,560.4 815.8,561.6 817.8,562.8 820.9,564.0 823.9,565.2 825.4,566.4 827.0,567.6 827.4,569.9 828.3,572.1 828.7,574.4 832.1,575.2 834.1,576.1 836.6,576.9 838.9,577.8 839.9,579.5 841.3,581.2 843.9,582.9 842.4,584.1 838.9,585.4 837.1,586.9 836.0,588.4 832.9,590.0 830.7,591.5 828.7,593.0 830.7,593.4 832.7,593.7 835.5,594.1 838.5,594.4 839.3,594.8 841.9,595.1 843.9,595.5 841.3,595.6 838.2,595.8 837.5,596.0 835.5,596.1 833.2,596.2 830.4,596.4 828.9,597.7 826.2,599.0 824.0,600.2 821.9,601.5 820.7,603.7 820.7,606.0 818.6,608.2 818.1,610.5 817.2,612.7 815.2,615.0 812.8,615.7 810.1,616.4 808.9,617.0 806.3,617.7 803.3,618.4 801.9,619.1 798.4,619.8 795.8,620.5 793.0,621.2 791.8,621.9 789.8,622.6 790.1,624.7 791.5,626.8 789.1,628.5 788.1,630.2 791.1,631.0 792.9,631.9 796.1,632.8 797.1,633.6 800.0,634.4 802.5,635.3 798.9,635.9 797.4,636.5 794.4,637.1 791.8,637.7 789.4,638.3 787.6,638.9 786.4,639.5 788.2,641.0 789.6,642.5 792.9,643.9 794.9,645.4 795.8,647.7 793.5,649.9 793.2,652.2 794.9,652.7 798.6,653.2 800.7,653.8 803.6,654.3 804.8,654.8 807.1,655.3 809.8,655.9 811.8,656.4 813.9,656.7 817.0,657.0 818.6,657.3 817.0,658.5 813.5,659.8 817.3,660.8 818.8,661.7 819.8,662.6 821.3,663.6 822.8,664.5 826.5,665.5 828.6,666.4 830.4,667.4 833.6,668.1 835.7,668.9 837.1,669.6 839.4,670.3 840.5,671.0 842.5,671.8 845.6,672.5 849.0,675.0 851.8,675.9 854.2,676.7 856.1,677.6 858.1,678.4 860.8,679.3 860.8,681.8 857.7,682.7 856.8,683.5 854.1,684.4 856.1,686.1 858.3,687.8 860.9,689.4 862.5,691.1 859.7,692.2 858.0,693.4 855.8,694.5 858.5,695.4 859.2,696.2 862.6,697.0 864.9,697.9 866.5,698.7 868.5,699.6 866.8,700.3 864.8,701.0 861.5,701.7 859.0,702.4 856.1,703.1 854.7,703.7 852.4,704.4 849.9,705.1 848.4,705.8 845.5,706.5 843.7,707.2 841.7,708.7 840.4,710.2 838.5,711.7 835.3,713.2 837.0,716.2 837.0,719.1 835.3,721.6 834.4,724.1 835.7,725.8 838.4,727.5 839.8,729.2 842.0,730.9 843.6,732.4 846.5,733.9 847.9,735.5 849.8,737.0 851.3,738.5 851.1,740.4 849.5,742.2 847.4,744.1 846.3,745.9 845.4,747.8 846.2,750.1 849.1,752.3 850.5,754.6 850.3,756.6 848.6,758.6 848.5,760.7 847.4,762.7 845.4,764.7 845.4,767.5 843.5,770.4 843.7,773.2 843.4,775.6 843.4,777.9 843.7,780.3 844.6,782.6 844.6,785.0 846.3,786.8 847.2,789.0 847.9,791.3 847.1,793.5 849.4,795.6 851.3,797.8 852.0,799.9 853.9,802.0 851.9,804.3 850.7,806.5 851.3,808.8 853.2,811.3 853.9,813.9 854.7,816.4 853.1,818.6 853.9,820.8 853.1,823.0 851.6,825.2 851.3,827.4 852.1,829.7 853.8,832.0 853.9,834.4 853.9,836.7 851.4,838.2 849.0,839.7 848.8,841.3 846.7,842.8 845.4,844.3 845.5,846.8 843.9,849.3 843.0,851.9 842.0,854.4 840.9,855.9 838.6,857.4 836.3,859.0 834.5,860.5 833.6,862.0 831.5,863.9 830.3,865.8 829.1,867.7 826.8,869.6 825.7,871.9 823.8,874.1 821.7,876.4 821.5,879.0 820.1,881.5 819.0,883.0 816.3,884.5 813.9,885.9 813.3,887.4 811.7,889.5 809.1,891.6 810.8,893.7 810.2,895.9 811.4,898.0 811.6,900.1 810.2,902.2 809.2,904.4 808.1,906.5 809.1,908.6 810.6,910.6 812.3,912.6 813.1,914.7 815.3,916.7 817.5,918.7 817.3,920.7 815.2,922.7 814.0,924.8 812.5,926.8 811.6,928.8 810.2,930.8 807.8,932.9 806.9,934.9 806.8,937.0 804.8,939.0 804.3,941.1 803.4,943.2 802.6,945.4 799.8,947.5 799.2,949.0 797.8,950.6 795.4,952.1 792.5,953.7 791.1,955.2 789.6,956.8 788.7,958.2 785.6,959.6 784.2,961.0 782.5,962.4 780.4,963.8 777.8,965.2 776.5,966.2 773.4,967.1 772.1,968.1 770.5,969.1 767.8,970.0 765.0,971.0" stroke="#008000" stroke-width="2.08" />
<polyline points="848.0,335.9 844.7,336.4 842.2,336.8 840.0,337.3 839.0,337.8 836.4,338.2 834.4,338.7 830.9,339.2 828.9,339.6 826.8,340.1 824.9,340.3 823.4,340.5 821.3,340.7 818.1,340.8 814.5,341.0 813.2,341.2 810.0,341.4 807.0,341.6 805.9,341.8 804.5,342.0 802.6,342.1 800.8,342.3 797.1,342.5 794.7,342.7 795.8,342.8 799.9,342.9 801.3,343.0 803.3,343.2 805.2,343.3 807.4,343.4 811.6,343.5 808.1,343.7 805.8,343.9 803.9,344.1 803.2,344.3 800.1,344.6 798.8,344.8 796.9,345.0 794.5,345.2 792.2,345.4 789.6,345.6 792.5,345.7 794.0,345.8 796.1,345.8 798.1,345.9 800.6,346.0 804.3,346.1 806.1,346.2 807.4,346.2 810.1,346.3 813.3,346.4 815.3,346.5 818.0,346.6 819.2,346.7 820.9,346.7 824.2,346.8 826.8,346.9 828.1,347.1 830.7,347.3 832.7,347.5 834.6,347.8 836.6,348.0 840.8,348.2 843.5,348.4 846.6,348.6 848.3,348.8 851.3,349.0 853.8,349.2 855.7,349.4 857.6,349.7 859.6,349.9 861.2,350.1 864.0,350.3 862.0,350.5 858.9,350.7 857.7,350.9 855.2,351.1 853.1,351.2 851.4,351.4 849.0,351.6 845.5,351.8 843.7,352.0 844.5,352.2 846.4,352.4 850.6,352.6 853.0,352.8 856.1,352.9 858.4,353.1 859.7,353.3 862.9,353.5 864.0,353.7 862.4,353.8 858.9,353.9 856.5,354.0 853.9,354.1 851.9,354.2 849.1,354.3 848.0,354.4 846.9,354.5 843.5,354.5 842.0,354.6 839.6,354.7 837.1,354.8 835.7,354.9 832.6,355.0 831.0,355.1 827.3,355.2 826.4,355.3 823.4,355.4 819.8,355.8 819.0,356.2 817.0,356.7 814.8,357.1 812.7,357.5 809.6,357.9 806.4,358.4 804.8,358.8 807.6,359.1 810.6,359.3 811.5,359.6 813.5,359.8 815.6,360.1 818.8,360.3 819.5,360.6 822.8,360.8 824.2,361.1 826.8,361.3 828.2,361.5 829.9,361.7 833.6,361.9 835.8,362.1 839.0,362.4 841.5,362.6 843.6,362.8 844.6,363.0 842.2,363.3 840.8,363.6 837.8,363.9 834.2,364.2 831.4,364.6 830.5,364.9 828.9,365.2 825.1,365.5 822.5,366.0 820.9,366.4 818.5,366.9 815.5,367.4 814.6,367.8 812.2,368.3 809.3,368.8 806.0,369.2 804.8,369.7 802.8,370.0 799.6,370.4 796.6,370.7 795.4,371.0 794.0,371.3 791.0,371.6 788.5,372.0 786.2,372.3 783.6,373.1 779.9,374.0 777.8,374.8 779.0,375.5 781.1,376.2 783.0,377.0 785.8,377.7 787.9,378.4 791.3,379.1 788.8,379.5 787.7,379.9 785.7,380.4 782.4,380.8 779.3,381.2 777.8,381.6 775.4,382.0 773.3,382.5 770.3,382.9 768.6,383.3 767.1,383.7 764.5,384.1 761.7,384.6 760.0,385.0 759.9,387.6 761.0,390.2 760.9,392.8 759.4,395.4 760.0,398.0 761.2,398.3 764.6,398.6 766.6,398.8 767.9,399.1 771.6,399.4 774.3,399.6 776.3,399.9 777.8,400.2 779.4,400.3 783.0,400.5 784.5,400.6 786.8,400.7 789.0,400.9 791.3,401.0 791.9,402.7 794.7,404.4 791.3,407.0 793.4,407.6 796.5,408.1 799.2,408.6 801.4,409.2 804.0,409.8 804.8,410.3 806.4,410.6 808.6,410.9 811.5,411.2 814.4,411.4 816.9,411.7 819.0,412.0 821.2,412.3 823.5,412.6 825.6,412.9 826.6,413.2 829.4,413.5 831.3,413.7 832.9,414.0 836.1,414.3 838.7,414.6 835.3,416.3 837.8,416.9 840.2,417.4 842.0,418.0 845.2,418.6 847.2,419.2 847.9,419.9 850.5,420.5 847.4,421.1 844.5,421.6 842.0,422.2 840.4,423.9 837.8,424.2 836.3,424.5 832.3,424.8 830.7,425.0 828.4,425.3 825.1,425.6 823.7,427.1 820.3,428.6 817.8,430.0 816.7,431.5 815.1,432.0 811.9,432.5 809.1,433.0 807.3,433.4 805.6,433.9 804.6,434.4 801.4,434.9 799.8,438.3 802.0,438.6 804.3,438.8 807.4,439.1 808.2,439.3 811.3,439.6 813.7,439.8 815.0,440.1 816.4,440.3 819.6,440.6 821.7,440.8 823.8,441.6 825.0,442.5 827.6,443.3 830.1,444.2 831.9,445.0 833.9,445.3 835.5,445.6 837.6,446.0 839.9,446.3 843.5,446.6 845.0,447.0 847.1,447.3 850.5,447.6 848.8,450.1 850.1,450.4 853.5,450.6 855.3,450.9 858.1,451.1 860.6,451.4 857.9,451.7 856.3,452.0 853.9,452.4 850.9,452.7 848.0,453.0 845.9,453.3 844.1,453.7 841.4,454.0 840.4,454.3 842.3,454.8 843.9,455.4 847.2,455.9 850.6,456.5 852.9,457.0 854.7,457.5 857.6,458.1 859.0,458.6 859.8,461.9 859.3,462.4 856.7,462.9 854.6,463.4 852.0,463.8 848.6,464.3 845.4,464.8 843.7,465.3 841.9,465.9 839.1,466.6 836.9,467.2 834.1,467.9 831.5,468.5 829.7,469.1 829.0,469.8 826.8,470.4 826.7,472.7 828.2,474.9 830.2,477.2 832.0,478.0 834.4,478.8 830.6,479.2 828.8,479.6 826.1,480.1 825.1,480.5 822.1,480.9 819.8,481.4 817.3,481.8 816.7,482.2 817.2,483.1 819.4,483.9 821.6,484.8 825.1,485.6 823.0,487.7 821.7,489.8 818.3,490.4 815.1,491.1 814.2,491.8 811.6,492.4 815.1,493.4 817.0,494.5 818.4,495.6 820.1,496.6 817.4,497.9 815.6,499.1 813.7,500.4 812.9,501.7 809.9,502.9 808.2,504.2 810.9,505.2 813.0,506.2 814.9,507.3 815.6,508.3 818.4,509.3 820.0,509.8 822.7,510.3 825.9,510.8 828.2,511.2 829.2,511.7 830.6,512.2 833.6,512.7 830.5,513.6 829.8,514.4 826.5,515.2 825.1,516.1 828.7,516.5 831.0,516.9 827.5,517.2 826.0,517.6 824.3,517.9 820.7,518.3 818.7,518.6 817.2,518.9 815.3,519.3 812.3,519.6 808.8,520.0 807.4,520.3 806.2,522.6 804.9,524.8 804.0,527.1 802.2,527.9 800.0,528.8 798.0,529.6 796.0,530.5 794.4,531.3 792.6,532.2 789.6,533.0 786.2,534.7 788.1,536.4 790.4,538.0 793.0,539.7 790.1,540.6 788.1,541.4 786.2,542.2 784.5,543.1 785.7,544.1 788.3,545.0 790.5,546.0 793.0,547.0 794.4,548.0 797.2,548.9 799.8,549.9 802.7,550.9 804.4,551.9 806.8,553.0 808.1,554.0 809.9,555.0 811.5,556.7 813.3,558.4 814.7,559.6 817.8,560.8 819.9,562.0 821.3,563.2 823.2,564.4 826.4,565.6 828.5,566.8 830.1,569.1 830.7,571.3 830.2,573.6 833.2,574.5 836.4,575.3 839.2,576.1 840.4,577.0 842.1,578.7 843.2,580.4 845.4,582.1 843.1,583.4 840.4,584.6 838.8,586.1 835.8,587.6 833.8,589.2 832.4,590.7 830.2,592.2 832.8,592.6 835.2,592.9 837.9,593.3 840.5,593.6 841.9,594.0 843.2,594.3 845.4,594.7 843.0,594.9 841.0,595.0 838.2,595.2 835.7,595.3 833.8,595.5 831.9,595.6 828.9,596.9 828.1,598.2 826.1,599.4 823.4,600.7 822.6,602.9 822.0,605.2 820.1,607.4 818.7,609.7 816.8,611.9 816.7,614.2 812.9,614.9 810.7,615.6 809.2,616.2 806.7,616.9 804.8,617.6 802.8,618.3 801.2,619.0 797.8,619.7 796.7,620.4 794.8,621.1 791.3,621.8 793.6,623.9 793.0,626.0 790.9,627.7 789.6,629.4 793.3,630.2 794.9,631.1 797.7,632.0 799.9,632.8 802.5,633.6 804.0,634.5 802.7,635.1 799.1,635.7 796.8,636.3 794.8,636.9 791.9,637.5 790.3,638.1 787.9,638.7 789.0,640.2 791.3,641.7 794.4,643.1 796.4,644.6 795.6,646.9 795.0,649.1 794.7,651.4 797.9,651.9 798.9,652.5 800.8,653.0 803.4,653.5 805.4,654.0 807.5,654.5 810.0,655.1 813.3,655.6 813.9,655.9 816.8,656.2 820.1,656.5 817.5,657.8 815.0,659.0 818.5,660.0 819.9,660.9 821.2,661.9 823.6,662.8 825.5,663.8 827.9,664.7 830.8,665.6 831.9,666.6 835.7,667.3 837.7,668.1 839.7,668.8 842.3,669.5 844.2,670.2 846.2,671.0 847.1,671.7 850.5,674.2 853.7,675.1 855.4,675.9 857.9,676.8 859.4,677.6 862.3,678.5 862.3,681.0 859.9,681.9 858.1,682.7 855.6,683.6 858.2,685.3 859.7,687.0 861.9,688.6 864.0,690.3 861.0,691.4 858.1,692.6 857.3,693.7 858.2,694.6 860.4,695.4 863.7,696.2 866.2,697.1 867.5,697.9 870.0,698.8 868.2,699.5 865.6,700.2 862.4,700.8 860.8,701.5 859.0,702.2 856.9,702.8 853.7,703.5 851.3,704.1 848.8,704.7 847.9,706.8 845.4,708.9 843.1,709.8 841.1,710.6 838.7,711.5 840.1,713.5 841.1,715.4 843.7,717.4 841.4,719.1 838.7,720.8 838.7,723.3 838.7,725.8 841.4,726.6 842.3,727.5 844.3,728.4 847.1,729.2 847.6,730.9 850.5,732.6 853.0,733.8 855.5,735.0 856.8,736.1 858.1,737.3 860.6,738.5 859.6,740.7 859.4,742.9 858.5,745.1 856.4,747.3 855.6,749.5 858.6,750.8 859.5,752.0 861.4,753.3 863.2,754.6 862.2,756.9 861.7,759.1 860.6,761.4 862.3,763.9 864.0,766.5 864.0,769.0 861.1,771.1 859.0,773.2 859.2,775.6 860.4,777.9 861.1,780.3 862.9,782.6 863.2,785.0 865.7,786.8 867.2,789.3 867.4,791.8 868.1,793.2 869.5,794.6 872.3,796.0 873.8,797.5 876.4,798.9 877.6,800.3 878.5,802.8 877.8,805.3 876.3,807.9 875.9,810.4 877.4,812.4 880.2,814.4 881.8,816.4 880.0,818.4 877.8,820.3 877.6,822.3 877.4,824.8 877.1,827.3 877.8,829.9 877.6,832.4 880.3,834.5 880.9,836.7 879.0,838.0 878.0,839.4 874.7,840.7 873.2,842.0 871.9,843.3 868.8,844.7 867.4,846.0 866.8,848.2 866.1,850.5 865.7,852.7 862.2,854.1 861.2,855.4 858.6,856.8 856.3,858.1 855.6,859.5 853.4,860.9 851.0,862.3 849.5,863.8 847.8,865.2 846.1,866.6 845.4,868.0 843.7,870.1 842.6,872.2 841.6,874.3 838.7,876.4 840.4,879.0 838.9,880.3 835.9,881.5 833.2,882.8 832.1,884.1 830.4,885.3 828.5,886.6 825.5,887.9 824.4,889.1 822.5,890.4 820.1,891.6 820.9,894.1 820.1,896.7 820.7,899.2 821.7,901.8 820.6,904.3 819.6,906.9 820.1,909.4 822.9,910.5 823.9,911.5 825.3,912.5 828.5,913.6 830.7,915.3 831.2,917.0 833.6,918.7 832.1,920.4 831.3,922.1 828.2,923.8 826.8,925.5 826.9,927.7 827.7,930.0 826.8,932.2 825.7,933.6 823.5,934.9 820.3,936.3 818.1,937.6 816.7,939.0 815.6,940.7 813.1,942.4 810.8,944.1 810.2,945.8 808.2,947.5 806.9,948.7 805.2,949.9 802.0,951.0 800.0,952.2 798.8,953.4 796.9,954.6 794.2,955.8 791.8,956.9 790.7,958.1 787.9,959.3 785.6,960.7 783.4,962.0 781.0,963.4 779.1,964.7 777.8,966.1 774.4,967.1 771.8,968.1 771.1,969.0 769.0,970.0 765.9,971.0 765.0,972.0" stroke="#ff0000" stroke-width="2.08" />
<polyline points="990.0,334.0 987.9,334.1 985.9,334.1 984.2,334.2 981.0,334.2 979.1,334.3 977.6,334.3 975.7,334.4 972.1,334.4 970.2,334.5 968.0,334.6 965.6,334.6 964.3,334.7 961.5,334.7 958.8,334.8 957.5,334.8 955.0,334.9 951.9,334.9 949.3,335.0 947.2,335.0 945.2,335.1 942.7,335.3 941.1,335.4 938.5,335.6 937.0,335.8 935.4,335.9 932.6,336.1 930.4,336.3 926.9,336.4 923.9,336.6 923.3,336.8 920.4,336.9 917.7,337.1 916.7,337.3 914.7,337.5 911.3,337.6 908.9,337.8 906.4,338.0 904.1,338.1 901.2,338.3 899.8,338.5 897.5,338.6 895.5,338.8 892.9,339.0 890.3,339.1 889.4,339.3 891.6,339.4 894.3,339.6 896.4,339.7 897.6,339.9 899.3,340.0 901.2,340.2 903.7,340.3 905.5,340.5 907.9,340.6 910.1,340.8 912.3,340.9 915.5,341.0 917.7,341.2 920.0,341.3 922.0,341.5 924.5,341.6 927.4,341.8 928.9,341.9 930.2,342.1 933.4,342.2 930.6,342.3 929.3,342.4 926.1,342.5 925.0,342.6 921.5,342.7 919.8,342.8 917.6,342.8 915.1,342.9 914.0,343.0 911.9,343.1 908.6,343.2 906.6,343.3 904.7,343.4 901.4,343.5 898.7,343.6 897.4,343.7 895.9,343.8 893.5,343.9 891.1,343.9 888.9,344.0 886.2,344.1 885.1,344.2 883.6,344.3 880.7,344.4 877.1,344.5 875.1,344.6 873.8,344.7 871.0,344.8 868.0,344.9 865.6,344.9 864.4,345.0 862.5,345.1 859.7,345.2 858.0,345.3 856.3,345.4 854.8,345.5 852.6,345.6 849.6,345.7 847.7,345.8 846.0,345.9 843.9,346.0 841.4,346.1 838.8,346.1 836.1,346.2 834.5,346.3 832.0,346.4 829.9,346.5 826.8,346.6 828.1,346.8 830.4,347.0 833.4,347.2 836.0,347.4 837.6,347.6 839.6,347.8 843.4,348.1 844.5,348.3 848.1,348.5 850.7,348.7 852.7,348.9 855.8,349.1 857.8,349.3 859.0,349.5 857.5,349.7 854.8,350.0 853.4,350.2 851.4,350.5 847.8,350.7 844.7,351.0 842.0,351.2 841.3,351.5 839.8,351.7 836.7,352.0 833.9,352.2 831.9,352.5 830.7,352.7 828.9,353.0 827.2,353.2 825.5,353.5 821.7,353.7 825.4,353.8 825.9,353.8 827.3,353.9 831.0,354.0 833.4,354.0 835.2,354.1 836.7,354.2 839.1,354.2 841.5,354.3 844.1,354.4 846.5,354.4 848.3,354.5 850.0,354.5 852.3,354.6 854.4,354.7 856.6,354.7 859.5,354.8 861.4,354.9 865.0,354.9 867.4,355.0 869.6,355.1 872.2,355.1 873.7,355.2 875.2,355.3 877.2,355.3 881.0,355.4 882.4,355.9 884.6,356.4 886.9,356.9 890.4,357.3 891.5,357.8 894.1,358.3 897.0,358.8 893.9,359.2 892.4,359.5 889.4,359.9 886.3,360.3 883.9,360.6 883.3,361.0 880.4,361.4 877.3,361.7 875.9,362.1 878.2,364.2 879.3,366.4 877.4,366.5 875.7,366.6 872.0,366.6 869.5,366.7 868.4,366.8 866.0,366.9 864.4,366.9 861.5,367.0 860.1,367.1 856.5,367.2 854.8,367.2 851.8,367.3 849.3,367.4 848.4,367.5 845.8,367.6 844.3,367.6 841.2,367.7 839.6,367.8 838.0,367.9 835.5,367.9 832.3,368.0 830.2,368.1 829.1,368.7 826.9,369.2 823.9,369.8 821.2,370.3 818.1,370.9 816.8,371.4 813.7,372.0 811.2,372.5 809.9,373.1 806.1,373.5 804.3,374.0 802.5,374.4 799.7,374.8 797.8,375.2 796.4,375.7 793.1,376.1 790.4,376.5 788.7,377.0 787.6,377.4 785.9,377.8 783.2,378.2 779.6,378.7 777.8,379.1 781.4,379.5 783.9,379.9 785.4,380.4 787.0,380.8 789.3,381.2 792.1,381.6 795.0,382.0 796.5,382.4 798.4,382.9 800.1,383.3 802.5,383.7 804.8,384.1 802.1,384.4 800.0,384.7 798.8,385.0 795.6,385.2 792.9,385.5 790.5,385.8 789.5,386.1 786.6,386.4 785.2,386.6 783.5,386.9 781.5,387.2 777.8,387.5 775.6,387.8 773.3,388.1 771.8,388.4 768.7,388.8 766.8,389.1 765.3,389.4 763.6,389.7 760.0,390.0 761.6,390.4 763.1,390.9 765.6,391.3 768.5,391.7 770.4,392.1 773.7,392.5 776.1,393.0 777.8,393.4 781.1,393.7 782.6,394.0 785.2,394.4 787.0,394.7 788.9,395.0 790.6,395.4 794.2,395.7 796.4,396.0 798.0,396.4 800.9,396.7 802.0,397.1 804.5,397.4 806.5,397.8 810.0,398.1 811.6,398.5 809.6,399.1 807.1,399.8 804.5,400.4 803.1,401.0 804.1,401.6 806.1,402.1 809.5,402.7 812.8,403.3 815.5,403.8 817.5,404.4 816.2,405.1 812.6,405.8 810.5,406.4 808.1,407.1 806.5,407.8 809.3,408.0 811.8,408.3 813.0,408.5 814.8,408.8 818.2,409.0 820.1,409.3 822.1,409.5 824.2,409.7 826.5,410.0 829.3,410.2 831.3,410.5 834.1,410.7 835.4,411.0 838.7,411.2 840.9,411.4 842.7,411.6 845.9,411.8 848.8,412.0 850.7,412.2 852.2,412.4 853.6,412.5 856.3,412.7 858.1,412.9 859.8,413.1 862.6,413.3 864.3,413.5 867.4,413.7 870.2,414.3 871.1,414.8 874.0,415.4 875.7,416.0 878.0,416.5 881.1,417.1 884.3,417.7 885.6,418.2 887.7,418.8 885.4,419.6 884.2,420.5 881.0,421.3 883.5,421.6 884.7,421.9 887.5,422.2 890.4,422.5 893.3,422.7 895.6,423.0 897.4,423.3 899.1,423.6 901.2,423.9 899.2,425.6 896.2,427.3 894.7,427.6 892.7,427.8 891.0,428.1 888.4,428.3 886.5,428.6 884.2,428.8 881.1,429.1 879.4,429.3 876.5,429.6 874.2,429.8 873.1,430.0 871.0,430.2 868.9,430.4 866.1,430.6 863.2,430.9 860.1,431.1 858.2,431.3 855.6,431.5 853.6,432.0 850.6,432.4 849.2,432.9 847.8,433.3 844.4,433.8 841.5,434.2 838.8,434.7 837.4,435.1 836.1,435.6 833.1,436.0 831.7,436.5 828.3,436.9 826.8,437.4 824.0,438.2 822.4,439.1 819.9,439.9 817.9,440.8 815.0,441.6 812.5,442.1 810.6,442.5 807.4,443.0 805.1,443.5 803.3,443.9 801.9,444.4 799.2,444.8 796.8,445.3 796.2,445.8 794.1,446.2 791.3,446.7 794.2,446.9 796.6,447.1 799.2,447.3 801.0,447.5 803.2,447.6 804.2,447.8 806.6,448.0 808.9,448.2 811.6,448.4 808.7,449.2 807.6,450.1 804.8,450.9 806.0,451.3 808.4,451.7 810.4,452.0 812.2,452.4 816.2,452.8 818.5,453.2 819.6,453.5 822.4,453.9 825.1,454.3 827.0,455.3 830.6,456.3 833.7,457.4 835.1,458.4 837.0,459.4 835.0,460.2 831.5,461.1 829.3,461.9 827.9,462.8 825.1,463.6 826.0,467.9 825.2,468.4 821.9,468.8 819.8,469.3 817.8,469.8 816.0,470.3 813.7,470.7 809.9,471.2 812.9,471.9 815.0,472.5 817.8,473.1 820.1,473.8 816.9,474.3 814.7,474.8 812.0,475.3 809.4,475.8 808.2,476.3 809.4,478.0 810.4,479.7 813.3,481.4 815.0,483.1 814.9,485.6 815.4,488.2 815.0,490.7 816.4,491.4 818.5,492.1 821.8,492.7 824.4,493.4 826.8,494.1 829.5,495.1 831.8,496.1 834.2,497.1 835.8,498.1 837.0,499.1 838.4,499.6 841.9,500.1 844.7,500.5 846.8,501.0 849.7,501.5 851.9,502.0 853.3,502.4 854.6,502.9 857.3,503.4 855.6,503.9 853.8,504.4 849.7,504.9 846.5,505.4 845.4,505.9 848.2,506.2 851.1,506.6 853.6,506.9 854.3,507.3 856.1,507.6 859.3,507.9 861.4,508.3 863.3,508.6 866.8,509.0 868.3,509.3 870.2,510.3 873.4,511.3 875.0,512.3 874.1,512.9 870.9,513.6 868.8,514.2 867.7,514.8 864.2,515.5 862.3,516.1 861.6,518.6 859.0,521.1 862.0,522.5 864.8,524.0 866.6,525.4 865.4,526.2 863.3,527.1 859.7,527.9 858.7,528.8 856.8,529.6 853.9,530.4 850.3,531.3 848.8,532.1 846.6,533.2 844.4,534.2 840.6,535.3 838.7,536.4 837.0,536.9 835.1,537.3 831.8,537.8 829.4,538.3 827.4,538.8 825.3,539.2 823.4,539.7 823.2,542.2 820.1,544.8 822.5,545.3 824.1,545.8 827.6,546.3 829.8,546.8 832.9,547.3 835.7,547.9 838.3,548.4 839.1,548.9 840.4,549.4 843.7,549.9 842.0,551.9 841.0,553.8 838.7,555.8 840.4,555.0 838.6,556.1 835.8,557.3 833.6,558.4 835.1,559.9 837.3,561.3 837.9,562.8 840.4,564.3 838.2,564.8 836.5,565.4 835.0,565.9 832.0,566.4 830.8,567.0 828.5,567.5 825.6,568.1 823.4,568.6 820.8,569.1 819.1,569.7 816.7,570.2 815.1,571.3 812.6,572.5 809.6,573.6 807.3,574.7 805.7,575.9 804.8,577.0 804.8,581.2 806.9,581.7 810.3,582.1 811.7,582.6 813.7,583.1 817.1,583.5 819.8,584.0 822.5,584.4 823.2,584.9 824.6,585.4 827.8,585.8 830.2,586.3 827.4,588.0 825.4,589.7 825.1,591.4 826.3,592.1 829.3,592.8 832.6,593.5 833.5,594.2 836.4,594.9 838.5,595.5 841.2,596.2 843.9,596.9 846.2,597.6 846.7,598.3 848.8,599.0 847.1,600.7 843.7,602.4 844.9,603.1 848.2,603.8 850.6,604.5 853.2,605.3 855.6,606.0 857.8,606.7 859.0,607.4 857.7,608.4 856.3,609.4 853.2,610.5 851.6,611.5 848.8,612.5 849.3,615.0 848.8,617.6 846.7,618.0 844.9,618.3 842.1,618.7 840.1,619.0 838.6,619.4 835.4,619.7 832.7,620.1 833.3,622.6 834.5,625.2 835.3,627.7 837.7,628.4 839.4,629.1 841.4,629.9 843.7,630.6 846.0,631.3 848.8,632.0 845.8,632.8 844.3,633.7 841.6,634.5 839.2,635.4 837.4,636.2 836.4,637.1 833.6,637.9 831.5,640.8 831.0,643.8 833.6,644.2 834.9,644.6 838.6,645.1 839.8,645.5 842.6,645.9 844.2,646.3 847.5,646.7 849.3,647.2 851.9,647.6 853.9,648.0 856.8,649.7 858.1,651.4 859.8,653.1 862.3,654.8 864.3,656.1 866.8,657.3 867.5,658.6 868.9,659.9 870.5,661.1 874.2,662.4 871.2,663.0 870.0,663.6 867.7,664.2 866.5,664.8 864.1,665.4 862.3,666.0 859.0,666.6 861.4,668.3 862.3,670.0 859.0,670.7 857.9,671.4 854.8,672.0 853.0,672.7 850.5,673.4 851.0,675.7 852.4,677.9 853.9,680.2 856.8,680.8 858.4,681.5 861.7,682.1 862.9,682.7 866.4,683.3 867.8,684.0 870.5,684.6 872.5,685.2 871.4,686.2 869.7,687.2 866.1,688.3 865.2,689.3 862.3,690.3 860.2,691.1 858.6,692.0 856.5,692.8 854.3,693.7 851.8,694.5 848.8,695.4 848.1,697.5 848.1,699.6 847.4,701.7 845.4,703.8 842.9,704.8 840.5,705.8 837.4,706.9 836.3,707.9 833.6,708.9 832.9,710.9 829.7,712.8 828.5,714.8 829.0,717.6 828.4,720.5 826.8,723.3 830.5,724.6 832.1,725.8 833.9,727.1 834.9,728.4 837.4,729.6 838.7,730.9 837.7,733.2 837.2,735.5 836.7,737.9 837.0,740.2 837.6,741.4 839.8,742.6 841.8,743.7 843.4,744.9 847.1,746.1 849.9,747.5 851.5,749.0 853.9,750.4 854.4,752.6 852.2,754.9 852.1,757.1 851.8,759.4 850.4,761.6 850.5,763.9 853.6,765.4 855.3,766.8 857.2,768.3 859.0,769.8 860.2,771.5 862.9,773.2 864.4,774.9 865.7,776.6 867.0,777.7 869.4,778.9 871.6,780.0 872.7,782.3 873.2,784.5 874.2,786.8 876.9,788.9 878.1,791.0 877.8,793.1 879.3,795.2 880.5,797.1 882.8,799.0 883.8,800.9 884.3,802.8 886.0,805.0 886.6,807.2 887.7,809.4 888.4,811.6 889.4,813.8 891.2,816.2 891.0,818.6 892.5,820.9 893.3,823.3 894.5,825.7 896.2,828.2 898.7,830.7 898.1,833.2 896.2,835.8 895.8,838.6 894.5,841.5 895.3,844.3 893.3,846.0 891.5,847.7 890.0,849.3 888.2,851.0 886.0,852.7 883.7,853.8 882.8,855.0 880.8,856.1 877.5,857.2 876.6,858.4 874.2,859.5 872.0,862.0 870.8,864.6 869.2,866.3 865.7,868.0 865.1,870.5 865.4,873.0 866.0,875.6 865.7,878.1 867.0,880.4 868.8,882.6 868.3,884.9 867.4,887.1 867.6,889.4 866.6,891.6 868.9,893.9 868.6,896.1 869.1,898.4 868.7,900.7 868.8,902.9 867.4,905.2 869.7,907.3 870.8,909.4 869.6,911.3 867.6,913.1 865.5,915.0 863.6,916.8 864.0,918.7 864.0,920.8 865.4,923.0 866.3,925.1 867.4,927.2 865.9,929.7 864.0,932.2 863.1,934.3 862.1,936.5 861.2,938.6 859.0,940.7 857.3,942.0 855.7,943.2 853.4,944.5 850.5,945.8 849.3,947.2 846.3,948.6 844.0,950.0 843.0,951.4 840.8,952.8 838.7,954.2 838.1,956.5 836.9,958.7 835.3,961.0 832.6,963.0 830.6,964.9 829.4,966.9 831.3,968.8 832.6,970.6 833.8,972.5 837.0,974.3 838.7,976.2 836.7,977.6 835.5,978.9 833.4,980.3 831.7,981.6 828.5,983.0 826.2,984.4 824.0,985.8 822.3,987.2 820.6,988.6 818.0,990.0 816.7,991.4 815.3,992.8 813.2,994.3 809.9,995.7 807.4,996.8 805.7,997.9 802.5,998.9 801.2,1000.0 799.8,1000.6 797.1,1001.2 794.5,1001.8 792.3,1002.4 789.5,1003.0 787.3,1003.6 784.9,1004.2 782.2,1004.8 779.9,1005.4 777.8,1006.0 775.4,1006.7 772.8,1007.3 770.5,1008.0 768.1,1008.7 767.1,1009.3 765.0,1010.0" stroke="#0000ff" stroke-width="2.08" />
</g>
<rect x="777.5" y="123.2" width="204.00" height="1075.00" fill="none" stroke="#000" stroke-width="1.1"/>
<path d="M777.00 1197.7 v6.5 M777.00 123.7 v-6.5 M862.00 1197.7 v6.5 M862.00 123.7 v-6.5 M947.00 1197.7 v6.5 M947.00 123.7 v-6.5 M778.0 1198.20 h-6.5 M981.0 1198.20 h6.5 M778.0 983.20 h-6.5 M981.0 983.20 h6.5 M778.0 768.20 h-6.5 M981.0 768.20 h6.5 M778.0 553.20 h-6.5 M981.0 553.20 h6.5 M778.0 338.20 h-6.5 M981.0 338.20 h6.5 M778.0 123.20 h-6.5 M981.0 123.20 h6.5" stroke="#000" stroke-width="2" fill="none"/>
<text x="777.50" y="1219.40" font-size="17.01" textLength="9.72" lengthAdjust="spacingAndGlyphs" text-anchor="middle" stroke="#000" stroke-width="0.2" >0</text>
<text x="862.50" y="1219.40" font-size="17.01" textLength="19.44" lengthAdjust="spacingAndGlyphs" text-anchor="middle" stroke="#000" stroke-width="0.2" >50</text>
<text x="947.50" y="1219.40" font-size="17.01" textLength="29.16" lengthAdjust="spacingAndGlyphs" text-anchor="middle" stroke="#000" stroke-width="0.2" >100</text>
<text x="767.50" y="1203.80" font-size="17.01" textLength="9.72" lengthAdjust="spacingAndGlyphs" text-anchor="end" stroke="#000" stroke-width="0.2" >0</text>
<text x="767.50" y="988.80" font-size="17.01" textLength="9.72" lengthAdjust="spacingAndGlyphs" text-anchor="end" stroke="#000" stroke-width="0.2" >1</text>
<text x="767.50" y="773.80" font-size="17.01" textLength="9.72" lengthAdjust="spacingAndGlyphs" text-anchor="end" stroke="#000" stroke-width="0.2" >2</text>
<text x="767.50" y="558.80" font-size="17.01" textLength="9.72" lengthAdjust="spacingAndGlyphs" text-anchor="end" stroke="#000" stroke-width="0.2" >3</text>
<text x="767.50" y="343.80" font-size="17.01" textLength="9.72" lengthAdjust="spacingAndGlyphs" text-anchor="end" stroke="#000" stroke-width="0.2" >4</text>
<text x="767.50" y="128.80" font-size="17.01" textLength="9.72" lengthAdjust="spacingAndGlyphs" text-anchor="end" stroke="#000" stroke-width="0.2" >5</text>
<rect x="734.92" y="131.5" width="238.58" height="202.50" rx="3" ry="3" fill="#fff" fill-opacity="0.8" stroke="#cccccc" stroke-width="1.1"/>
<line x1="741.02" y1="144.90" x2="772.12" y2="144.90" stroke="#0000ff" stroke-width="2.08" stroke-linecap="square"/>
<text x="784.52" y="150.50" font-size="17.01" textLength="172.87" lengthAdjust="spacingAndGlyphs" stroke="#000" stroke-width="0.2" >aerLR_raman_355_FR</text>
<line x1="741.02" y1="169.62" x2="772.12" y2="169.62" stroke="#008000" stroke-width="2.08" stroke-linecap="square"/>
<text x="784.52" y="175.22" font-size="17.01" textLength="172.87" lengthAdjust="spacingAndGlyphs" stroke="#000" stroke-width="0.2" >aerLR_raman_532_FR</text>
<line x1="741.02" y1="194.34" x2="772.12" y2="194.34" stroke="#ff0000" stroke-width="2.08" stroke-linecap="square"/>
<text x="784.52" y="199.94" font-size="17.01" textLength="182.68" lengthAdjust="spacingAndGlyphs" stroke="#000" stroke-width="0.2" >aerLR_raman_1064_FR</text>
<line x1="741.02" y1="219.06" x2="772.12" y2="219.06" stroke="#800080" stroke-width="2.08" stroke-dasharray="6.1,2.85"/>
<text x="784.52" y="224.66" font-size="17.01" textLength="145.75" lengthAdjust="spacingAndGlyphs" stroke="#000" stroke-width="0.2" >aerLR_RR_355_FR</text>
<line x1="741.02" y1="243.78" x2="772.12" y2="243.78" stroke="#808000" stroke-width="2.08" stroke-dasharray="6.1,2.85"/>
<text x="784.52" y="249.38" font-size="17.01" textLength="145.75" lengthAdjust="spacingAndGlyphs" stroke="#000" stroke-width="0.2" >aerLR_RR_532_FR</text>
<line x1="741.02" y1="268.50" x2="772.12" y2="268.50" stroke="#ffa07a" stroke-width="2.08" stroke-dasharray="6.1,2.85"/>
<text x="784.52" y="274.10" font-size="17.01" textLength="155.57" lengthAdjust="spacingAndGlyphs" stroke="#000" stroke-width="0.2" >aerLR_RR_1064_FR</text>
<line x1="741.02" y1="293.22" x2="772.12" y2="293.22" stroke="#8cffff" stroke-width="2.08" stroke-linecap="square"/>
<text x="784.52" y="298.82" font-size="17.01" textLength="175.66" lengthAdjust="spacingAndGlyphs" stroke="#000" stroke-width="0.2" >aerLR_raman_355_NR</text>
<line x1="741.02" y1="317.94" x2="772.12" y2="317.94" stroke="#8cff8c" stroke-width="2.08" stroke-linecap="square"/>
<text x="784.52" y="323.54" font-size="17.01" textLength="175.66" lengthAdjust="spacingAndGlyphs" stroke="#000" stroke-width="0.2" >aerLR_raman_532_NR</text>
<line x1="1093.50" y1="123.2" x2="1093.50" y2="1198.2" stroke="#b0b0b0" stroke-width="1.1"/>
<line x1="1144.50" y1="123.2" x2="1144.50" y2="1198.2" stroke="#b0b0b0" stroke-width="1.1"/>
<line x1="1195.50" y1="123.2" x2="1195.50" y2="1198.2" stroke="#b0b0b0" stroke-width="1.1"/>
<line x1="1246.50" y1="123.2" x2="1246.50" y2="1198.2" stroke="#b0b0b0" stroke-width="1.1"/>
<line x1="1297.50" y1="123.2" x2="1297.50" y2="1198.2" stroke="#b0b0b0" stroke-width="1.1"/>
<line x1="1093.5" y1="1198.20" x2="1297.5" y2="1198.20" stroke="#b0b0b0" stroke-width="1.1"/>
<line x1="1093.5" y1="983.20" x2="1297.5" y2="983.20" stroke="#b0b0b0" stroke-width="1.1"/>
<line x1="1093.5" y1="768.20" x2="1297.5" y2="768.20" stroke="#b0b0b0" stroke-width="1.1"/>
<line x1="1093.5" y1="553.20" x2="1297.5" y2="553.20" stroke="#b0b0b0" stroke-width="1.1"/>
<line x1="1093.5" y1="338.20" x2="1297.5" y2="338.20" stroke="#b0b0b0" stroke-width="1.1"/>
<line x1="1093.5" y1="123.20" x2="1297.5" y2="123.20" stroke="#b0b0b0" stroke-width="1.1"/>
<g clip-path="url(#clip3)" fill="none" stroke-linejoin="round" stroke-linecap="butt">
<polyline points="1310.0,148.0 1308.8,148.4 1307.4,149.0 1305.5,149.7 1303.3,150.5 1300.6,151.5 1297.3,152.7 1293.1,154.2 1287.9,155.9 1282.3,157.7 1276.6,159.7 1271.4,161.8 1267.1,163.8 1263.5,165.9 1260.3,168.1 1257.5,170.4 1255.3,172.6 1253.8,174.7 1253.1,176.7 1253.6,178.4 1255.1,180.0 1257.4,181.5 1259.9,183.0 1262.4,184.5 1264.3,186.2 1265.8,188.1 1267.2,190.2 1268.5,192.4 1269.7,194.5 1270.7,196.6 1271.5,198.5 1272.1,200.2 1272.5,201.8 1272.8,203.4 1273.0,204.8 1273.1,206.1 1273.2,207.4 1273.4,208.5 1273.6,209.3 1273.7,210.1 1273.7,210.8 1273.6,211.8 1273.2,213.0 1272.5,214.6 1271.5,216.5 1270.3,218.6 1269.1,220.7 1268.0,222.6 1267.1,224.2 1266.4,225.4 1265.8,226.3 1265.3,227.0 1265.0,227.7 1264.8,228.6 1264.8,229.8 1265.2,231.4 1265.9,233.2 1266.7,235.1 1267.6,237.1 1268.4,239.1 1268.8,241.0 1269.0,242.8 1269.0,244.5 1268.9,246.3 1268.6,248.0 1268.2,249.5 1267.6,251.0 1266.9,252.3 1266.1,253.3 1265.2,254.3 1264.0,255.3 1262.4,256.4 1260.4,257.7 1257.7,259.4 1254.4,261.3 1250.8,263.3 1247.0,265.4 1243.4,267.3 1240.2,268.9 1237.6,270.2 1235.5,271.2 1233.5,272.0 1231.4,272.9 1228.9,273.9 1225.8,275.2 1221.9,276.8 1217.5,278.6 1212.7,280.5 1207.7,282.5 1202.8,284.5 1198.2,286.5 1193.7,288.5 1189.2,290.7 1184.8,292.8 1180.6,295.0 1176.6,297.0 1173.0,299.0 1169.8,300.8 1166.9,302.5 1164.3,304.0 1162.0,305.6 1159.9,307.3 1157.9,309.1 1156.2,311.0 1154.7,312.9 1153.5,314.9 1152.4,317.0 1151.4,319.3 1150.4,321.7 1149.3,324.3 1148.3,327.1 1147.3,330.0 1146.4,333.1 1145.8,336.2 1145.3,339.3 1145.1,342.5 1145.3,345.9 1145.5,349.4 1145.9,352.8 1146.3,356.2 1146.6,359.4 1146.8,362.4 1146.9,365.3 1146.9,368.0 1147.1,370.9 1147.4,373.8 1147.9,377.0 1148.7,380.4 1149.6,384.1 1150.8,387.8 1151.9,391.7 1153.1,395.6 1154.1,399.6 1155.1,403.5 1156.0,407.4 1157.0,411.4 1157.9,415.6 1158.6,420.0 1159.2,424.8 1159.6,430.2 1159.8,436.2 1159.9,442.5 1159.9,448.8 1159.9,454.7 1159.9,460.0 1160.0,464.4 1160.0,468.0 1160.1,471.2 1160.1,474.6 1160.1,478.5 1160.1,483.5 1160.0,489.7 1159.9,496.8 1159.7,504.4 1159.6,512.3 1159.5,520.0 1159.6,527.2 1159.9,533.9 1160.2,540.4 1160.7,546.8 1161.2,553.1 1161.7,559.4 1162.2,565.8 1162.6,572.4 1163.1,579.3 1163.6,586.2 1164.0,592.9 1164.4,599.0 1164.8,604.4 1165.2,608.8 1165.6,612.4 1166.0,615.5 1166.3,618.4 1166.3,621.5 1166.1,625.0 1165.5,628.9 1164.5,633.0 1163.3,637.2 1162.0,641.6 1160.8,646.1 1159.6,650.7 1158.5,655.6 1157.2,660.8 1156.0,666.2 1154.9,671.5 1153.9,676.7 1153.2,681.6 1152.8,686.2 1152.5,690.5 1152.4,694.8 1152.5,698.9 1152.8,703.1 1153.2,707.3 1153.9,711.6 1154.7,715.9 1155.8,720.2 1156.9,724.5 1158.2,728.8 1159.6,733.1 1161.1,737.3 1162.9,741.5 1164.8,745.6 1166.7,749.8 1168.4,754.2 1169.9,758.8 1171.2,763.0 1172.3,766.6 1173.2,770.3 1174.1,774.9 1174.9,781.2 1175.6,790.0 1176.1,802.1 1176.5,817.2 1176.7,833.9 1177.0,851.0 1177.4,867.3 1178.1,881.5 1179.1,893.7 1180.4,904.9 1181.8,915.3 1183.2,925.0 1184.5,934.0 1185.7,942.6 1186.7,950.4 1187.6,957.4 1188.4,963.7 1189.1,969.8 1189.7,975.8 1190.3,982.2 1190.7,988.8 1190.9,995.5 1191.0,1002.2 1191.1,1008.9 1191.3,1015.5 1191.8,1021.9 1192.4,1028.3 1193.2,1034.8 1194.0,1041.1 1195.0,1047.3 1196.3,1053.1 1197.9,1058.5 1199.9,1063.1 1202.2,1067.1 1204.8,1070.8 1207.5,1074.4 1210.4,1078.4 1213.2,1083.0 1216.1,1088.4 1219.2,1094.3 1222.5,1100.5 1225.6,1107.0 1228.7,1113.4 1231.5,1119.6 1234.0,1126.0 1236.4,1132.6 1238.6,1139.3 1240.8,1145.7 1242.9,1151.4 1245.2,1156.2 1247.8,1159.9 1250.8,1162.7 1253.7,1165.0 1256.4,1166.7 1258.4,1168.3 1259.5,1169.9 1259.3,1171.2 1258.0,1172.0 1256.1,1172.6 1254.0,1173.2 1252.3,1174.3 1251.3,1176.0 1251.2,1178.8 1251.6,1182.4 1252.3,1186.4 1253.2,1190.3 1253.9,1193.7 1254.4,1196.0" stroke="#ffa500" stroke-width="1.75" />
<polyline points="1228.0,116.0 1228.5,116.8 1229.1,118.0 1229.8,119.4 1230.6,120.9 1231.5,122.3 1232.4,123.6 1233.3,124.7 1234.3,125.5 1235.4,126.4 1236.5,127.4 1237.8,128.6 1239.1,130.3 1240.6,132.5 1242.3,135.2 1244.2,138.1 1246.0,141.2 1247.7,144.3 1249.2,147.1 1250.6,149.8 1251.9,152.4 1253.1,155.0 1254.2,157.6 1255.1,160.2 1255.9,162.7 1256.4,165.2 1256.8,167.6 1257.0,169.9 1257.1,172.3 1257.1,174.8 1257.0,177.3 1256.9,180.0 1256.6,182.7 1256.2,185.5 1255.8,188.3 1255.3,191.2 1254.8,194.0 1254.2,196.8 1253.5,199.7 1252.8,202.5 1252.0,205.4 1251.1,208.1 1250.3,210.8 1249.5,213.3 1248.7,215.8 1247.9,218.1 1247.0,220.5 1246.0,222.8 1244.7,225.3 1243.1,227.9 1241.3,230.6 1239.3,233.4 1237.3,236.1 1235.3,238.6 1233.5,241.0 1231.9,243.1 1230.4,244.8 1229.0,246.5 1227.6,248.1 1226.1,250.0 1224.6,252.2 1223.0,254.8 1221.3,257.6 1219.5,260.6 1217.8,263.7 1216.1,266.9 1214.5,270.0 1212.9,273.1 1211.4,276.2 1209.9,279.4 1208.5,282.5 1207.1,285.8 1205.7,289.0 1204.3,292.3 1203.0,295.5 1201.6,298.8 1200.4,302.2 1199.2,305.6 1198.2,309.1 1197.3,312.5 1196.6,315.9 1195.9,319.3 1195.3,323.0 1194.8,327.0 1194.4,331.7 1194.0,336.5 1193.8,341.2 1193.5,346.3 1193.4,352.4 1193.2,359.9 1193.1,369.4 1193.0,382.2 1192.9,398.0 1192.8,415.3 1192.7,432.4 1192.6,447.9 1192.6,460.0 1192.6,467.9 1192.5,472.8 1192.5,475.9 1192.4,478.7 1192.5,482.5 1192.6,488.6 1192.8,497.4 1193.1,507.9 1193.4,519.3 1193.8,531.1 1194.1,542.5 1194.4,552.9 1194.7,562.2 1195.0,571.0 1195.2,579.4 1195.5,587.7 1195.6,596.0 1195.7,604.4 1195.6,613.1 1195.5,622.0 1195.2,631.0 1194.9,639.7 1194.6,648.1 1194.4,655.9 1194.1,663.2 1193.8,670.2 1193.5,676.8 1193.2,683.1 1193.1,689.0 1193.1,694.5 1193.2,699.4 1193.5,703.5 1193.8,707.4 1194.3,711.2 1194.9,715.3 1195.7,720.2 1196.7,726.0 1198.0,732.4 1199.4,739.2 1200.8,746.0 1202.2,752.6 1203.4,758.8 1204.4,764.1 1205.4,768.6 1206.3,773.0 1207.1,777.7 1207.9,783.2 1208.6,790.0 1209.2,798.3 1209.8,807.6 1210.3,817.7 1210.8,828.4 1211.2,839.6 1211.6,851.0 1211.9,863.1 1212.0,876.1 1212.1,889.5 1212.3,902.9 1212.6,915.6 1213.2,927.3 1214.1,937.7 1215.2,947.3 1216.4,956.3 1217.8,964.9 1219.3,973.5 1220.8,982.2 1222.4,990.9 1224.2,999.4 1226.1,1007.8 1227.9,1016.2 1229.8,1025.0 1231.5,1034.1 1233.2,1043.8 1234.8,1053.8 1236.4,1064.1 1238.0,1074.5 1239.4,1084.9 1240.6,1095.2 1241.6,1105.9 1242.5,1117.2 1243.2,1128.6 1243.8,1139.3 1244.5,1148.7 1245.2,1156.2 1246.1,1161.5 1247.2,1165.0 1248.3,1167.3 1249.2,1168.8 1249.7,1170.0 1249.8,1171.5 1249.2,1172.9 1248.0,1173.7 1246.4,1174.3 1244.8,1174.9 1243.3,1175.9 1242.2,1177.5 1241.5,1180.1 1241.0,1183.4 1240.6,1187.1 1240.4,1190.7 1240.2,1193.8 1240.0,1196.0" stroke="#ff00ff" stroke-width="1.75" />
<polyline points="1085.0,186.4 1310.0,186.6" stroke="#000000" stroke-width="1.75" />
<polyline points="1085.0,248.7 1200.0,250.5 1297.3,253.5 1310.0,253.8" stroke="#000000" stroke-width="1.75" />
<polyline points="1310.0,293.5 1309.0,293.5 1308.0,293.4 1306.6,293.4 1304.4,293.4 1301.1,293.6 1296.2,294.0 1288.8,294.7 1278.8,295.6 1267.8,296.6 1256.9,297.8 1247.5,299.0 1240.9,300.3 1237.6,301.6 1236.6,303.1 1237.2,304.6 1238.4,306.2 1239.5,307.7 1239.6,309.1 1238.7,310.5 1237.4,311.8 1235.9,313.1 1234.6,314.3 1233.7,315.5 1233.4,316.6 1233.6,317.6 1234.1,318.5 1235.0,319.3 1236.4,320.1 1238.3,320.9 1240.9,321.7 1244.8,322.5 1250.1,323.3 1256.0,324.1 1261.6,324.9 1266.1,325.7 1268.6,326.7 1268.6,327.8 1266.6,329.0 1263.5,330.3 1260.1,331.6 1257.3,332.9 1256.0,334.2 1256.6,335.4 1258.7,336.6 1261.3,337.8 1263.7,339.0 1265.1,340.3 1264.8,341.8 1262.1,343.5 1257.6,345.5 1252.1,347.6 1246.5,349.7 1241.6,351.5 1238.4,353.1 1237.2,354.3 1237.4,355.2 1238.3,356.0 1239.4,356.7 1240.0,357.3 1239.6,358.1 1237.8,359.0 1235.1,359.8 1231.9,360.7 1228.7,361.6 1226.1,362.4 1224.6,363.2 1223.6,363.9 1222.5,364.5 1222.0,365.1 1222.6,365.6 1225.0,366.2 1229.6,366.9 1237.7,367.7 1249.2,368.7 1262.3,369.7 1275.6,370.6 1287.4,371.4 1296.2,372.0 1301.7,372.3 1305.2,372.5 1307.3,372.5 1308.4,372.4 1309.1,372.3 1310.0,372.3" stroke="#000000" stroke-width="1.75" />
<polyline points="1310.0,404.0 1308.7,404.3 1307.0,404.7 1305.0,405.1 1302.5,405.7 1299.6,406.4 1296.2,407.2 1292.0,408.2 1287.0,409.4 1281.5,410.7 1276.0,412.0 1270.7,413.4 1266.1,414.7 1262.4,415.9 1259.5,417.1 1256.8,418.3 1253.9,419.5 1250.5,420.8 1245.9,422.2 1240.1,423.7 1233.3,425.3 1226.0,426.9 1218.3,428.7 1210.6,430.4 1203.2,432.3 1195.8,434.3 1188.1,436.6 1180.4,438.9 1173.0,441.2 1166.2,443.2 1160.4,444.9 1155.8,446.2 1152.1,447.1 1149.0,447.8 1146.3,448.5 1143.5,449.2 1140.3,450.0 1136.7,451.0 1132.8,452.1 1128.9,453.3 1125.2,454.4 1121.6,455.5 1118.5,456.4 1115.6,457.2 1112.9,457.8 1110.5,458.4 1108.3,459.0 1106.7,459.6 1105.6,460.3 1105.2,461.1 1105.4,461.9 1106.1,462.8 1107.1,463.6 1108.3,464.5 1109.4,465.4 1110.5,466.2 1111.8,467.1 1113.2,467.9 1114.8,468.8 1116.6,469.7 1118.5,470.6 1120.7,471.6 1123.3,472.7 1126.0,473.9 1128.7,475.0 1131.4,476.1 1133.9,477.0 1136.2,477.8 1138.3,478.5 1140.4,479.1 1142.4,479.7 1144.5,480.3 1146.8,480.9 1149.0,481.5 1151.2,482.0 1153.4,482.5 1155.8,483.1 1158.7,483.8 1162.2,484.7 1166.6,485.9 1171.9,487.5 1177.7,489.1 1183.4,490.8 1188.7,492.4 1193.1,493.7 1196.5,494.8 1199.2,495.7 1201.4,496.5 1203.6,497.3 1205.8,498.1 1208.5,498.9 1211.6,499.7 1214.8,500.5 1218.2,501.3 1221.7,502.1 1225.3,503.0 1229.1,504.0 1233.2,505.2 1237.6,506.5 1242.1,507.8 1246.6,509.2 1250.9,510.5 1254.8,511.8 1258.3,512.9 1261.7,514.0 1264.8,515.1 1267.7,516.1 1270.4,517.1 1272.9,518.2 1275.1,519.3 1277.0,520.3 1278.6,521.4 1280.2,522.5 1281.6,523.5 1283.1,524.6 1284.6,525.7 1285.9,526.9 1287.2,528.1 1288.5,529.2 1289.7,530.2 1290.9,531.1 1292.0,531.7 1292.9,532.2 1293.8,532.6 1294.8,532.9 1295.9,533.2 1297.3,533.6 1299.2,534.0 1301.5,534.3 1304.0,534.7 1306.5,535.1 1308.5,535.5 1310.0,536.0 1310.9,536.6 1311.4,537.3 1311.6,538.1 1311.4,538.8 1310.9,539.5 1310.0,540.0 1308.8,540.3 1307.1,540.5 1305.2,540.6 1302.9,540.7 1300.2,540.9 1297.3,541.4 1293.9,542.2 1290.1,543.2 1285.9,544.4 1281.6,545.6 1277.2,546.8 1272.9,547.8 1268.8,548.7 1264.7,549.5 1260.6,550.3 1256.3,551.1 1251.9,552.0 1247.1,552.9 1241.9,553.9 1236.2,555.1 1230.4,556.2 1224.6,557.4 1218.9,558.5 1213.7,559.4 1209.0,560.1 1204.5,560.7 1200.3,561.1 1196.2,561.6 1192.1,562.3 1187.9,563.2 1183.4,564.4 1178.7,566.0 1174.0,567.6 1169.5,569.3 1165.5,570.9 1162.2,572.2 1159.6,573.2 1157.6,574.1 1156.0,574.8 1154.8,575.5 1153.9,576.4 1153.2,577.4 1152.7,578.7 1152.6,580.3 1152.8,582.0 1153.2,583.6 1153.8,585.2 1154.5,586.4 1155.3,587.3 1156.2,588.0 1157.3,588.5 1158.6,588.9 1160.2,589.5 1162.2,590.2 1164.4,591.1 1166.9,592.1 1169.6,593.2 1172.7,594.3 1176.2,595.5 1180.2,596.7 1184.9,597.9 1190.3,599.2 1196.2,600.5 1202.2,601.8 1208.1,603.1 1213.7,604.4 1219.0,605.7 1224.4,607.0 1229.6,608.2 1234.7,609.5 1239.7,610.8 1244.5,612.1 1249.1,613.4 1253.4,614.7 1257.6,615.9 1261.8,617.2 1266.0,618.5 1270.3,619.8 1274.9,621.1 1279.7,622.6 1284.6,624.0 1289.3,625.3 1293.6,626.6 1297.3,627.6 1300.4,628.3 1303.1,628.8 1305.3,629.2 1307.2,629.5 1308.8,630.1 1310.0,631.0 1310.9,632.4 1311.4,634.1 1311.6,636.0 1311.4,637.9 1310.9,639.6 1310.0,641.0 1308.9,641.9 1307.6,642.4 1306.0,642.7 1303.8,643.0 1301.0,643.5 1297.3,644.3 1292.5,645.5 1286.6,646.9 1280.1,648.5 1273.2,650.1 1266.4,651.8 1260.0,653.3 1253.7,654.7 1247.1,656.2 1240.6,657.6 1234.4,659.0 1228.8,660.3 1224.0,661.5 1220.3,662.6 1217.5,663.7 1215.3,664.6 1213.3,665.6 1211.1,666.5 1208.5,667.4 1205.4,668.2 1202.2,669.0 1198.8,669.7 1195.3,670.5 1191.7,671.4 1187.9,672.6 1183.7,674.1 1179.1,675.8 1174.4,677.7 1169.8,679.6 1165.7,681.4 1162.2,682.9 1159.5,684.1 1157.4,685.2 1155.8,686.1 1154.4,687.0 1153.1,688.1 1151.9,689.3 1150.8,690.8 1149.9,692.5 1149.1,694.3 1148.4,696.1 1147.7,697.9 1146.8,699.6 1145.7,701.2 1144.4,702.8 1143.1,704.3 1141.9,705.8 1140.9,707.3 1140.3,708.6 1140.0,709.8 1140.1,710.7 1140.3,711.6 1140.7,712.6 1141.1,713.7 1141.6,715.1 1142.1,716.9 1142.6,719.1 1143.1,721.4 1143.8,723.8 1144.6,726.0 1145.5,727.9 1146.5,729.5 1147.7,730.8 1149.0,732.0 1150.4,733.1 1151.8,734.3 1153.2,735.6 1154.6,737.0 1156.0,738.5 1157.4,739.9 1158.9,741.5 1160.5,743.0 1162.2,744.6 1164.1,746.3 1166.1,748.0 1168.2,749.7 1170.5,751.5 1172.8,753.2 1175.1,754.9 1177.5,756.4 1180.0,757.9 1182.6,759.2 1185.3,760.7 1187.9,762.2 1190.5,763.9 1193.1,765.8 1195.8,767.9 1198.5,770.1 1201.1,772.3 1203.6,774.6 1205.9,776.8 1207.9,779.0 1209.8,781.1 1211.5,783.2 1213.2,785.4 1214.7,787.7 1216.2,790.0 1217.6,792.4 1219.0,794.9 1220.3,797.5 1221.5,800.1 1222.6,802.7 1223.8,805.3 1224.9,807.8 1225.9,810.4 1226.9,812.9 1227.9,815.4 1228.9,818.0 1230.0,820.5 1231.2,823.0 1232.5,825.6 1233.9,828.1 1235.2,830.7 1236.5,833.3 1237.6,835.8 1238.5,838.3 1239.2,840.9 1239.8,843.4 1240.4,845.9 1241.2,848.5 1242.2,851.0 1243.4,853.6 1244.7,856.3 1246.2,858.9 1247.8,861.5 1249.5,864.0 1251.3,866.3 1253.2,868.3 1255.2,870.2 1257.4,871.8 1259.7,873.5 1262.2,875.2 1265.0,877.0 1268.2,878.9 1272.0,881.0 1275.9,883.0 1279.8,885.1 1283.4,887.1 1286.4,889.2 1288.8,891.2 1290.9,893.2 1292.6,895.2 1294.1,897.2 1295.6,899.3 1297.1,901.4 1298.7,903.7 1300.2,906.3 1301.7,909.0 1303.1,911.4 1304.2,913.5 1305.0,915.0" stroke="#000000" stroke-width="1.75" />
<polyline points="1085.0,1038.0 1085.8,1038.4 1086.7,1038.9 1087.9,1039.5 1089.4,1040.4 1091.2,1041.6 1093.5,1043.3 1096.5,1045.6 1100.1,1048.4 1104.1,1051.6 1108.2,1055.0 1112.1,1058.4 1115.5,1061.6 1118.5,1064.6 1121.4,1067.6 1124.0,1070.6 1126.5,1073.6 1128.8,1076.7 1130.8,1079.9 1132.6,1083.3 1134.1,1086.9 1135.5,1090.6 1136.6,1094.3 1137.6,1097.9 1138.4,1101.3 1139.0,1103.9 1139.4,1105.5 1139.7,1107.0 1139.8,1109.3 1139.8,1113.2 1139.9,1119.6 1139.9,1129.9 1139.8,1143.6 1139.7,1158.9 1139.5,1174.0 1139.4,1187.0 1139.3,1196.0" stroke="#000000" stroke-width="1.75" />
</g>
<rect x="1093.5" y="123.2" width="204.00" height="1075.00" fill="none" stroke="#000" stroke-width="1.1"/>
<path d="M1093.00 1197.7 v6.5 M1093.00 123.7 v-6.5 M1144.00 1197.7 v6.5 M1144.00 123.7 v-6.5 M1195.00 1197.7 v6.5 M1195.00 123.7 v-6.5 M1246.00 1197.7 v6.5 M1246.00 123.7 v-6.5 M1297.00 1197.7 v6.5 M1297.00 123.7 v-6.5 M1094.0 1198.20 h-6.5 M1297.0 1198.20 h6.5 M1094.0 983.20 h-6.5 M1297.0 983.20 h6.5 M1094.0 768.20 h-6.5 M1297.0 768.20 h6.5 M1094.0 553.20 h-6.5 M1297.0 553.20 h6.5 M1094.0 338.20 h-6.5 M1297.0 338.20 h6.5 M1094.0 123.20 h-6.5 M1297.0 123.20 h6.5" stroke="#000" stroke-width="2" fill="none"/>
<text x="1093.50" y="1219.40" font-size="17.01" textLength="22.52" lengthAdjust="spacingAndGlyphs" text-anchor="middle" stroke="#000" stroke-width="0.2" >−1</text>
<text x="1144.50" y="1219.40" font-size="17.01" textLength="9.72" lengthAdjust="spacingAndGlyphs" text-anchor="middle" stroke="#000" stroke-width="0.2" >0</text>
<text x="1195.50" y="1219.40" font-size="17.01" textLength="9.72" lengthAdjust="spacingAndGlyphs" text-anchor="middle" stroke="#000" stroke-width="0.2" >1</text>
<text x="1246.50" y="1219.40" font-size="17.01" textLength="9.72" lengthAdjust="spacingAndGlyphs" text-anchor="middle" stroke="#000" stroke-width="0.2" >2</text>
<text x="1297.50" y="1219.40" font-size="17.01" textLength="9.72" lengthAdjust="spacingAndGlyphs" text-anchor="middle" stroke="#000" stroke-width="0.2" >3</text>
<text x="1083.50" y="1203.80" font-size="17.01" textLength="9.72" lengthAdjust="spacingAndGlyphs" text-anchor="end" stroke="#000" stroke-width="0.2" >0</text>
<text x="1083.50" y="988.80" font-size="17.01" textLength="9.72" lengthAdjust="spacingAndGlyphs" text-anchor="end" stroke="#000" stroke-width="0.2" >1</text>
<text x="1083.50" y="773.80" font-size="17.01" textLength="9.72" lengthAdjust="spacingAndGlyphs" text-anchor="end" stroke="#000" stroke-width="0.2" >2</text>
<text x="1083.50" y="558.80" font-size="17.01" textLength="9.72" lengthAdjust="spacingAndGlyphs" text-anchor="end" stroke="#000" stroke-width="0.2" >3</text>
<text x="1083.50" y="343.80" font-size="17.01" textLength="9.72" lengthAdjust="spacingAndGlyphs" text-anchor="end" stroke="#000" stroke-width="0.2" >4</text>
<text x="1083.50" y="128.80" font-size="17.01" textLength="9.72" lengthAdjust="spacingAndGlyphs" text-anchor="end" stroke="#000" stroke-width="0.2" >5</text>
<rect x="983.79" y="131.5" width="305.71" height="78.80" rx="3" ry="3" fill="#fff" fill-opacity="0.8" stroke="#cccccc" stroke-width="1.1"/>
<line x1="989.89" y1="144.90" x2="1020.99" y2="144.90" stroke="#ffa500" stroke-width="2.08" stroke-linecap="square"/>
<text x="1033.39" y="150.50" font-size="17.01" textLength="231.60" lengthAdjust="spacingAndGlyphs" stroke="#000" stroke-width="0.2" >AE_beta_355_532_Raman_FR</text>
<line x1="989.89" y1="169.62" x2="1020.99" y2="169.62" stroke="#ff00ff" stroke-width="2.08" stroke-linecap="square"/>
<text x="1033.39" y="175.22" font-size="17.01" textLength="241.42" lengthAdjust="spacingAndGlyphs" stroke="#000" stroke-width="0.2" >AE_beta_532_1064_Raman_FR</text>
<line x1="989.89" y1="194.34" x2="1020.99" y2="194.34" stroke="#000000" stroke-width="2.08" stroke-linecap="square"/>
<text x="1033.39" y="199.94" font-size="17.01" textLength="249.81" lengthAdjust="spacingAndGlyphs" stroke="#000" stroke-width="0.2" >AE_parExt_355_532_Raman_FR</text>
<line x1="1410.50" y1="123.2" x2="1410.50" y2="1198.2" stroke="#b0b0b0" stroke-width="1.1"/>
<line x1="1478.20" y1="123.2" x2="1478.20" y2="1198.2" stroke="#b0b0b0" stroke-width="1.1"/>
<line x1="1545.90" y1="123.2" x2="1545.90" y2="1198.2" stroke="#b0b0b0" stroke-width="1.1"/>
<line x1="1613.60" y1="123.2" x2="1613.60" y2="1198.2" stroke="#b0b0b0" stroke-width="1.1"/>
<line x1="1410.5" y1="1198.20" x2="1613.6" y2="1198.20" stroke="#b0b0b0" stroke-width="1.1"/>
<line x1="1410.5" y1="983.20" x2="1613.6" y2="983.20" stroke="#b0b0b0" stroke-width="1.1"/>
<line x1="1410.5" y1="768.20" x2="1613.6" y2="768.20" stroke="#b0b0b0" stroke-width="1.1"/>
<line x1="1410.5" y1="553.20" x2="1613.6" y2="553.20" stroke="#b0b0b0" stroke-width="1.1"/>
<line x1="1410.5" y1="338.20" x2="1613.6" y2="338.20" stroke="#b0b0b0" stroke-width="1.1"/>
<line x1="1410.5" y1="123.20" x2="1613.6" y2="123.20" stroke="#b0b0b0" stroke-width="1.1"/>
<g clip-path="url(#clip4)" fill="none" stroke-linejoin="round" stroke-linecap="butt">
<polyline points="1474.0,118.0 1473.5,119.7 1472.7,122.2 1471.7,124.3 1470.7,125.7 1469.5,126.8 1467.9,128.0 1465.5,129.4 1462.6,131.0 1460.3,133.1 1459.2,136.0 1458.6,139.4 1457.4,141.2 1457.8,143.1 1456.1,145.1 1456.1,147.1 1454.7,149.3 1454.2,151.4 1452.3,153.6 1452.8,155.7 1453.2,157.8 1452.5,159.8 1453.3,161.9 1452.7,163.9 1452.2,166.1 1452.8,168.3 1451.6,170.7 1452.1,173.1 1451.7,175.6 1451.3,178.1 1451.7,180.7 1451.5,183.4 1452.7,185.4 1453.0,187.3 1453.5,189.3 1454.3,191.3 1455.4,193.4 1456.5,195.4 1456.2,197.3 1458.3,199.1 1459.1,201.0 1460.2,203.4 1460.7,205.7 1461.9,207.8 1461.9,209.9 1463.4,211.7 1462.9,213.5 1463.7,216.3 1464.4,218.6 1465.4,221.1 1466.0,222.8 1467.1,224.5 1467.7,226.3 1469.0,228.1 1470.4,231.2 1470.4,233.2 1469.8,234.5 1470.4,236.2 1472.9,238.4 1475.5,239.7 1476.6,240.9 1477.8,242.3 1480.5,243.7 1482.4,245.3 1484.6,246.9 1486.4,248.0 1487.7,249.2 1488.9,250.3 1491.5,252.1 1493.0,253.8 1495.0,255.5 1496.9,257.3 1499.0,259.0 1500.5,260.7 1501.0,262.3 1503.1,263.8 1503.8,266.4 1503.5,268.7 1503.5,270.6 1504.5,272.0 1505.9,273.0 1507.1,274.1 1507.9,275.5 1508.6,277.1 1508.8,278.8 1508.4,280.7 1507.6,282.9 1507.1,285.3 1507.1,288.2 1507.4,291.4 1508.2,294.7 1510.4,296.4 1509.7,298.1 1511.9,299.9 1511.7,301.6 1512.7,303.5 1513.5,305.3 1514.5,307.3 1514.7,309.3 1514.1,311.3 1515.5,313.3 1516.6,315.2 1516.5,317.1 1517.7,319.7 1519.0,322.0 1518.8,324.0 1520.0,325.9 1519.7,328.1 1519.6,330.3 1520.6,332.6 1519.8,334.6 1521.1,336.7 1521.9,338.8 1521.0,340.8 1521.5,342.8 1520.9,344.8 1521.9,346.8 1521.2,348.8 1521.8,351.0 1520.6,353.3 1521.1,355.5 1521.2,357.6 1521.5,359.8 1520.8,361.9 1521.5,363.8 1521.0,365.7 1521.0,367.5 1520.7,369.4 1520.8,371.3 1520.8,373.1 1520.4,375.0 1521.1,376.9 1520.8,378.8 1520.9,380.8 1521.7,382.9 1520.6,385.0 1521.0,387.1 1521.1,389.2 1522.1,391.3 1522.0,393.3 1521.5,395.4 1521.6,397.5 1522.0,399.6 1523.4,401.7 1522.6,403.8 1522.3,405.9 1522.3,407.9 1523.8,410.0 1523.4,412.1 1523.7,414.2 1525.3,416.3 1526.0,418.4 1526.1,420.5 1526.3,422.3 1526.5,424.2 1527.1,426.1 1527.2,427.9 1528.2,429.8 1527.6,431.7 1528.2,433.5 1529.3,435.4 1529.7,437.3 1529.4,439.4 1530.5,441.5 1531.0,443.6 1532.3,445.7 1532.9,447.9 1532.5,450.0 1532.9,452.2 1532.9,454.5 1534.5,456.7 1534.7,459.0 1536.1,461.3 1536.8,463.5 1537.5,465.3 1537.6,467.1 1537.5,468.8 1539.0,470.6 1538.9,472.5 1540.5,474.4 1540.5,476.2 1541.2,478.1 1541.8,480.1 1543.1,482.0 1542.5,484.0 1543.4,485.9 1543.9,487.9 1544.8,489.8 1546.0,491.8 1545.4,493.7 1546.3,495.5 1546.6,497.3 1547.1,499.1 1547.3,501.0 1548.0,502.8 1549.2,504.6 1548.9,506.4 1549.1,508.2 1550.3,510.4 1549.5,512.6 1549.2,514.7 1550.5,516.9 1550.6,518.8 1551.2,520.6 1551.0,522.5 1551.3,524.4 1550.4,526.3 1551.2,528.1 1551.1,529.9 1551.3,531.8 1551.1,533.6 1551.1,535.4 1550.8,537.2 1550.3,539.0 1551.5,540.8 1550.8,542.8 1551.6,544.8 1552.2,546.9 1552.4,548.9 1552.0,550.9 1551.8,552.9 1551.5,555.1 1551.8,557.2 1552.2,559.4 1553.1,561.5 1552.3,563.7 1552.2,565.7 1552.4,567.8 1552.9,569.8 1553.5,571.8 1552.8,573.9 1553.5,575.9 1553.7,577.8 1553.7,579.8 1554.0,581.8 1553.1,583.8 1553.8,585.8 1552.9,587.7 1553.7,589.7 1553.1,591.7 1552.9,593.6 1553.5,595.5 1553.9,597.4 1554.1,599.3 1552.4,601.2 1552.5,603.1 1552.1,605.4 1552.3,607.6 1552.1,609.9 1553.1,612.1 1552.7,614.1 1553.4,616.1 1555.2,618.1 1555.4,620.1 1556.5,622.0 1556.4,623.8 1558.4,625.7 1558.7,627.6 1559.3,629.5 1560.0,631.4 1561.3,633.4 1562.1,635.3 1562.5,637.0 1564.2,638.7 1564.2,640.3 1564.5,642.0 1565.6,643.7 1565.9,645.4 1567.1,647.1 1567.3,648.9 1568.4,650.6 1569.2,652.3 1569.4,654.1 1571.1,655.8 1571.4,657.5 1571.8,659.3 1572.4,661.0 1572.6,662.8 1572.7,664.6 1573.4,666.4 1573.8,668.2 1575.1,669.9 1575.9,671.7 1575.3,673.5 1576.6,675.3 1577.7,677.1 1577.3,678.9 1577.2,680.8 1577.8,682.8 1577.5,684.7 1578.8,686.7 1579.2,688.8 1579.2,690.8 1579.4,692.9 1579.4,695.5 1579.3,698.0 1579.1,700.1 1578.8,702.2 1578.2,705.2 1577.1,707.3 1575.0,709.9 1573.3,711.7 1571.6,713.5 1570.1,714.8 1568.6,716.2 1567.1,717.5 1565.4,718.8 1563.8,720.2 1562.1,721.5 1560.3,722.7 1558.5,724.0 1556.7,725.2 1554.7,726.5 1552.7,727.7 1550.7,729.0 1549.0,730.0 1547.4,731.0 1545.7,732.1 1544.1,733.1 1542.3,734.3 1540.4,735.5 1538.6,736.7 1536.8,737.9 1535.2,738.9 1533.6,739.9 1532.1,741.0 1530.5,742.0 1528.9,743.0 1527.3,744.1 1525.7,745.2 1524.2,746.3 1522.6,747.4 1521.0,748.5 1519.4,749.7 1517.8,750.9 1516.1,752.1 1514.5,753.3 1512.9,754.5 1511.3,755.8 1509.6,757.0 1508.0,758.3 1506.4,759.5 1504.8,760.8 1503.4,761.9 1502.0,763.1 1500.6,764.2 1499.2,765.4 1497.8,766.5 1496.0,768.1 1494.3,769.7 1492.5,771.3 1491.1,772.7 1489.8,774.1 1488.4,775.5 1486.6,777.4 1484.9,779.4 1483.5,781.2 1482.1,782.9 1481.0,784.6 1479.9,786.2 1478.8,788.1 1477.8,790.0 1476.7,792.1 1475.5,794.2 1474.5,796.5 1473.4,798.9 1472.8,801.0 1472.3,803.2 1471.7,805.3 1471.5,807.1 1471.2,808.9 1471.0,810.7 1470.7,812.5 1470.5,814.3 1470.3,816.5 1470.2,818.6 1470.0,820.8 1469.9,822.9 1469.7,825.1 1469.7,827.2 1469.7,829.4 1469.7,831.5 1469.6,833.7 1469.6,835.8 1469.7,837.8 1469.8,839.9 1469.9,841.9 1470.0,843.9 1470.1,846.0 1470.3,848.0 1470.5,850.0 1470.7,852.1 1470.9,854.1 1471.2,856.1 1471.6,858.2 1472.0,860.2 1472.4,862.2 1472.8,864.3 1473.2,866.3 1473.8,868.0 1474.5,869.7 1475.1,871.4 1475.7,873.1 1476.4,874.8 1477.0,876.5 1477.8,878.2 1478.6,879.9 1479.4,881.5 1480.2,883.2 1481.0,884.9 1481.8,886.6 1482.5,888.7 1483.2,890.7 1484.0,892.7 1484.7,894.8 1485.4,896.8 1485.7,898.8 1486.0,900.9 1486.3,902.9 1486.6,904.9 1486.9,907.0 1487.0,909.0 1487.0,911.0 1487.1,913.1 1487.1,915.1 1487.2,917.1 1487.2,919.2 1487.1,921.2 1487.1,923.2 1487.0,925.3 1487.0,927.3 1486.9,929.2 1486.8,931.1 1486.7,933.1 1486.5,935.0 1486.4,936.9 1486.2,938.8 1486.0,940.7 1485.8,942.7 1485.5,944.6 1485.3,946.5 1485.1,948.4 1484.9,950.3 1484.6,952.1 1484.4,954.0 1484.1,955.9 1483.9,957.8 1483.6,959.8 1483.4,961.8 1483.1,963.9 1482.8,965.9 1482.6,967.9 1482.3,969.9 1482.0,971.9 1481.8,973.9 1481.5,975.9 1481.2,977.9 1480.9,979.8 1480.7,981.8 1480.4,983.8 1480.1,985.8 1479.8,987.8 1479.6,989.7 1479.3,991.7 1479.1,993.7 1478.8,995.7 1478.6,997.7 1478.3,999.6 1478.1,1001.6 1477.8,1003.6 1477.6,1005.5 1477.4,1007.4 1477.2,1009.3 1476.9,1011.2 1476.7,1013.1 1476.5,1015.0 1476.3,1017.0 1476.1,1018.9 1475.9,1020.8 1475.7,1022.7 1475.5,1024.6 1475.3,1026.5 1475.1,1028.4 1474.9,1030.3 1474.7,1032.2 1474.5,1034.1 1474.4,1036.0 1474.2,1038.0 1474.0,1039.9 1473.9,1041.8 1473.7,1043.7 1473.5,1045.6 1473.4,1047.5 1473.2,1049.4 1473.1,1051.3 1472.9,1053.2 1472.8,1055.1 1472.7,1057.0 1472.6,1058.9 1472.4,1060.9 1472.3,1062.8 1472.2,1064.7 1472.1,1066.6 1472.0,1068.5 1471.9,1070.4 1471.8,1072.3 1471.7,1074.2 1471.6,1076.1 1471.5,1078.0 1471.4,1079.9 1471.4,1081.8 1471.3,1083.8 1471.2,1085.7 1471.1,1087.6 1471.0,1089.5 1471.0,1091.4 1470.9,1093.3 1470.8,1095.2 1470.7,1097.2 1470.7,1099.1 1470.6,1101.1 1470.5,1103.0 1470.5,1105.0 1470.4,1107.0 1470.4,1108.9 1470.3,1110.9 1470.3,1112.8 1470.2,1114.8 1470.2,1116.8 1470.1,1118.7 1470.1,1120.7 1470.0,1122.6 1470.0,1124.6 1469.9,1126.6 1469.9,1128.6 1469.8,1130.7 1469.8,1132.7 1469.7,1134.8 1469.7,1136.8 1469.6,1138.9 1469.6,1140.9 1469.6,1142.7 1469.5,1144.6 1469.5,1146.4 1469.5,1148.3 1469.5,1150.1 1469.4,1152.0 1469.4,1153.8 1469.4,1155.8 1469.4,1157.7 1469.3,1159.6 1469.3,1161.6 1469.3,1163.5 1469.3,1165.4 1469.2,1167.3 1469.0,1169.1 1468.9,1170.9 1468.8,1172.7 1468.7,1174.5 1468.5,1176.3 1468.3,1178.2 1468.2,1180.0 1467.2,1182.9 1465.7,1184.1 1464.1,1185.2 1462.3,1185.7 1460.5,1186.2 1458.7,1186.7 1456.9,1187.2 1455.1,1187.5 1453.2,1187.7 1451.3,1188.0 1449.4,1188.2 1447.6,1188.5 1445.6,1188.8 1443.6,1189.2 1441.7,1189.5 1439.7,1189.8 1437.9,1190.3 1436.2,1190.9 1434.4,1191.4 1432.6,1192.2 1430.7,1193.0 1429.0,1194.3 1430.5,1195.3 1434.0,1196.0 1436.6,1196.5" stroke="#008000" stroke-width="1.75" />
<polyline points="1419.0,118.0 1419.2,119.7 1419.6,122.2 1420.1,124.3 1421.1,125.7 1422.2,126.8 1422.6,128.0 1421.8,129.1 1420.4,130.4 1418.9,133.1 1417.9,135.6 1417.5,138.0 1417.0,140.2 1416.7,142.3 1416.0,144.4 1416.6,146.5 1416.8,148.6 1415.1,150.7 1414.8,152.7 1415.9,154.8 1415.4,156.8 1415.5,158.9 1415.1,160.9 1416.2,163.0 1416.6,165.6 1416.3,168.3 1416.8,170.2 1414.9,172.0 1412.8,174.9 1413.0,176.6 1411.3,178.3 1410.9,180.8 1410.8,183.2 1410.9,185.1 1411.5,186.9 1410.9,188.7 1412.1,191.1 1411.3,193.4 1411.9,196.3 1412.8,198.4 1413.8,201.0 1413.3,202.9 1415.1,204.9 1414.6,207.1 1416.6,209.3 1417.2,211.4 1417.6,213.5 1417.9,217.0 1417.8,220.3 1417.6,223.6 1417.2,227.0 1416.6,230.3 1416.3,233.7 1416.3,236.9 1416.6,240.2 1417.2,241.9 1417.6,243.7 1419.0,245.7 1419.6,247.7 1420.2,249.9 1422.4,252.0 1423.8,254.2 1425.1,256.3 1426.1,258.6 1427.6,260.8 1430.3,263.1 1430.2,265.4 1431.6,267.1 1432.7,268.9 1435.2,270.7 1437.7,271.5 1440.0,272.4 1442.0,274.0 1443.7,275.8 1445.3,277.1 1446.6,277.4 1447.7,277.2 1448.8,277.6 1450.0,279.1 1451.3,281.2 1452.9,282.9 1454.9,283.9 1457.2,284.5 1459.4,285.3 1461.1,286.3 1462.8,287.3 1464.7,288.8 1467.2,291.0 1469.1,292.3 1470.1,293.6 1471.8,294.7 1472.9,295.9 1475.8,297.7 1478.8,299.2 1481.2,300.6 1483.3,301.8 1484.8,302.9 1485.0,304.1 1482.6,305.6 1481.4,306.4 1478.8,307.3 1476.5,308.8 1477.1,310.0 1479.2,311.2 1481.2,312.4 1482.5,313.9 1483.8,315.5 1485.3,317.1 1487.4,318.6 1489.8,320.1 1491.8,321.2 1493.2,321.5 1494.2,321.5 1495.3,321.8 1496.5,323.0 1497.6,324.6 1498.8,325.9 1500.4,326.7 1502.0,327.2 1502.4,327.9 1500.4,328.8 1497.3,329.9 1495.3,331.2 1495.6,332.9 1497.2,334.7 1498.8,336.5 1500.3,338.0 1501.9,339.3 1503.5,340.6 1505.3,342.0 1507.0,343.4 1507.6,344.7 1506.3,345.8 1503.9,346.8 1501.8,347.6 1500.5,348.2 1499.4,348.7 1498.8,349.4 1498.4,350.4 1498.4,351.5 1499.3,353.1 1501.2,354.2 1502.3,355.4 1503.5,356.7 1506.2,358.0 1508.1,360.6 1506.2,362.8 1503.7,363.9 1502.3,364.9 1500.7,365.9 1499.3,366.9 1498.1,368.6 1497.8,370.1 1498.1,372.0 1499.6,374.7 1500.8,376.2 1501.8,377.7 1503.1,380.8 1502.9,383.7 1501.8,386.6 1500.6,389.6 1499.2,392.7 1497.6,395.8 1496.5,397.7 1496.8,399.6 1498.0,402.0 1497.2,404.3 1497.6,406.1 1498.7,407.9 1498.3,409.7 1498.3,412.2 1499.3,414.7 1498.4,416.9 1499.8,419.1 1500.1,421.1 1500.2,423.2 1501.4,425.2 1500.6,427.3 1500.8,429.4 1500.9,431.5 1501.8,433.7 1501.2,435.8 1501.7,437.8 1501.8,439.9 1502.0,441.9 1503.1,443.9 1502.4,445.9 1504.7,447.8 1505.6,451.2 1504.9,453.3 1503.6,454.9 1502.9,457.7 1503.3,460.1 1503.8,462.6 1504.9,464.6 1505.2,466.7 1505.4,468.7 1505.2,471.0 1507.0,473.4 1506.8,475.7 1508.1,477.7 1508.5,479.7 1507.2,481.7 1507.7,483.7 1506.7,485.9 1507.5,488.2 1509.0,490.4 1508.5,492.6 1509.1,494.8 1509.4,497.1 1509.9,499.3 1509.4,501.5 1510.8,503.6 1511.6,505.8 1511.7,507.9 1510.8,510.1 1512.6,512.2 1512.6,514.4 1512.0,516.5 1512.3,518.6 1511.7,520.8 1511.4,522.9 1513.2,525.1 1513.2,527.2 1512.0,529.3 1512.2,531.5 1511.8,533.6 1513.2,535.8 1512.3,537.9 1511.8,540.0 1512.2,542.2 1512.6,544.3 1511.9,546.5 1512.7,548.6 1511.9,550.8 1511.9,552.9 1512.5,555.0 1512.9,557.2 1511.7,559.3 1511.1,561.5 1511.5,563.6 1511.0,565.8 1510.0,568.0 1510.2,570.1 1508.9,572.3 1508.8,574.4 1508.3,576.6 1509.4,578.7 1509.6,580.5 1510.0,582.3 1508.7,584.1 1508.7,585.9 1508.9,587.7 1509.1,589.6 1507.9,591.4 1507.9,593.2 1507.9,595.0 1508.5,596.8 1508.9,598.7 1508.4,600.6 1508.6,602.5 1508.1,604.4 1507.7,606.9 1507.4,609.5 1507.7,611.3 1506.7,613.1 1506.3,615.2 1506.8,617.3 1505.7,619.2 1506.3,621.2 1508.3,623.1 1509.3,625.2 1509.4,627.4 1510.7,629.5 1511.7,631.4 1512.7,633.4 1513.2,635.3 1514.9,637.6 1515.7,639.9 1516.8,642.0 1518.3,644.0 1519.7,646.1 1520.9,648.1 1522.3,650.3 1523.4,652.5 1524.8,654.8 1526.0,657.0 1526.8,659.0 1528.7,661.0 1530.7,662.5 1531.8,664.1 1533.4,665.4 1535.0,666.8 1537.4,668.4 1537.7,670.0 1538.6,672.2 1539.4,674.5 1540.3,677.0 1540.5,679.6 1540.6,681.9 1541.5,684.2 1541.6,686.1 1542.5,688.0 1543.4,691.4 1544.1,694.5 1544.9,697.2 1545.6,699.5 1545.4,702.2 1544.6,703.9 1543.9,705.6 1542.7,707.5 1541.5,709.4 1540.3,710.9 1539.0,712.5 1536.7,714.3 1534.2,715.5 1532.7,716.6 1531.2,717.6 1529.3,719.4 1527.4,721.2 1526.0,722.7 1524.5,724.2 1523.1,725.7 1521.5,727.3 1520.0,728.9 1518.4,730.5 1516.7,732.2 1515.1,733.9 1513.4,735.5 1512.1,736.9 1510.8,738.2 1509.5,739.5 1508.2,740.9 1506.8,742.1 1505.5,743.4 1504.2,744.6 1502.9,745.9 1501.1,747.4 1499.3,749.0 1497.6,750.5 1495.8,751.9 1494.0,753.4 1492.3,754.8 1490.7,756.1 1489.1,757.5 1487.5,758.8 1485.5,760.6 1483.6,762.3 1481.9,764.0 1480.3,765.6 1478.7,767.3 1477.2,769.1 1475.8,771.2 1474.3,773.4 1473.0,775.7 1471.7,778.0 1470.6,780.0 1469.5,782.0 1467.9,784.8 1466.8,787.0 1465.6,790.0 1464.8,792.0 1464.1,794.0 1463.2,796.4 1462.4,798.8 1462.0,801.0 1461.5,803.1 1461.0,805.3 1460.8,807.2 1460.5,809.0 1460.3,810.9 1460.1,812.7 1459.8,814.6 1459.7,816.4 1459.5,818.2 1459.3,820.0 1459.2,821.9 1459.0,823.7 1458.8,825.5 1458.7,827.6 1458.5,829.6 1458.3,831.7 1458.2,833.7 1458.0,835.8 1457.8,837.9 1457.7,840.0 1457.5,842.2 1457.3,844.3 1457.2,846.2 1457.0,848.2 1456.9,850.1 1456.8,852.1 1456.7,854.1 1456.6,856.1 1456.6,858.2 1456.5,860.2 1456.5,862.1 1456.6,863.9 1456.6,865.8 1456.7,867.6 1456.7,869.5 1456.9,871.4 1457.0,873.3 1457.1,875.3 1457.2,877.2 1457.3,879.1 1457.3,881.3 1457.3,883.4 1457.4,885.6 1457.4,887.7 1457.2,889.9 1457.1,892.1 1456.9,894.3 1456.6,896.1 1456.3,897.9 1456.0,899.8 1455.6,901.9 1455.3,903.9 1454.9,906.0 1454.6,907.9 1454.3,909.8 1453.9,911.7 1453.6,913.6 1453.2,915.6 1452.9,917.7 1452.5,919.8 1452.1,921.8 1451.7,924.0 1451.3,926.1 1450.8,928.3 1450.4,930.4 1450.0,932.2 1449.6,934.0 1449.2,935.8 1448.8,937.6 1448.4,939.4 1448.0,941.3 1447.6,943.2 1447.1,945.0 1446.7,946.9 1446.2,948.8 1445.8,950.6 1445.4,952.4 1445.0,954.2 1444.6,956.0 1444.2,957.8 1443.7,959.9 1443.3,961.9 1442.8,964.0 1442.3,966.0 1441.9,968.0 1441.4,970.0 1441.0,972.0 1440.6,973.9 1440.2,976.0 1439.8,978.1 1439.5,980.1 1439.1,982.2 1438.9,984.0 1438.6,985.8 1438.4,987.6 1438.2,989.4 1438.0,991.3 1437.8,993.1 1437.6,995.0 1437.4,996.9 1437.3,998.8 1437.1,1000.6 1437.0,1002.5 1436.9,1004.3 1436.8,1006.1 1436.7,1007.9 1436.6,1009.7 1436.6,1011.8 1436.5,1013.9 1436.5,1016.0 1436.4,1018.1 1436.5,1020.1 1436.5,1022.1 1436.6,1024.1 1436.6,1026.1 1436.8,1028.1 1436.9,1030.1 1437.1,1032.1 1437.2,1034.1 1437.4,1036.1 1437.6,1038.2 1437.9,1040.2 1438.1,1042.2 1438.4,1044.3 1438.7,1046.3 1439.0,1048.3 1439.4,1050.4 1439.8,1052.4 1440.3,1054.4 1440.7,1056.5 1441.2,1058.5 1441.8,1060.5 1442.5,1062.6 1443.1,1064.6 1443.7,1066.7 1444.5,1068.7 1445.3,1070.8 1446.0,1072.8 1446.8,1074.8 1447.7,1076.9 1448.6,1078.9 1449.5,1081.0 1450.4,1083.0 1451.2,1084.6 1452.1,1086.3 1452.9,1087.9 1453.8,1089.5 1454.6,1091.1 1455.6,1092.8 1456.5,1094.4 1457.5,1096.0 1458.4,1097.6 1459.4,1099.3 1460.3,1100.9 1461.3,1102.5 1462.2,1104.1 1463.2,1105.8 1464.1,1107.4 1465.1,1109.1 1466.1,1110.8 1467.0,1112.4 1468.0,1114.1 1469.0,1115.8 1470.0,1117.5 1471.0,1119.2 1471.9,1120.9 1472.9,1122.5 1473.9,1124.2 1474.9,1126.1 1475.9,1128.0 1476.8,1129.9 1477.8,1131.8 1478.4,1133.8 1479.0,1135.8 1479.6,1137.7 1480.0,1140.3 1480.4,1142.8 1481.1,1144.8 1481.7,1146.7 1482.4,1148.6 1483.4,1150.1 1484.4,1151.6 1485.4,1153.1 1486.4,1154.7 1487.4,1156.2 1488.7,1157.8 1489.9,1159.5 1491.2,1161.1 1492.4,1162.8 1493.7,1164.4 1494.7,1166.2 1495.7,1168.0 1496.7,1169.7 1497.7,1171.5 1497.8,1174.1 1498.0,1176.6 1497.0,1178.6 1496.1,1180.6 1494.6,1182.2 1493.1,1183.7 1491.4,1184.7 1489.8,1185.8 1487.6,1186.4 1485.5,1187.0 1483.4,1187.4 1481.4,1187.8 1479.3,1188.2 1477.3,1188.5 1475.3,1188.8 1473.3,1189.2 1471.3,1189.5 1469.4,1189.8 1467.4,1190.1 1465.4,1190.3 1463.4,1190.6 1461.5,1190.9 1459.5,1191.2 1457.5,1191.4 1455.4,1191.8 1453.2,1192.1 1451.0,1192.5 1448.8,1192.8 1446.4,1193.8 1447.0,1194.6 1445.8,1195.2 1443.8,1195.4 1441.7,1195.6 1439.7,1195.8 1437.7,1195.9 1435.7,1196.0 1433.7,1196.1 1431.7,1196.2 1429.8,1196.3 1427.8,1196.4 1425.9,1196.5" stroke="#0000ff" stroke-width="1.75" />
</g>
<rect x="1410.5" y="123.2" width="203.10" height="1075.00" fill="none" stroke="#000" stroke-width="1.1"/>
<path d="M1410.00 1197.7 v6.5 M1410.00 123.7 v-6.5 M1477.70 1197.7 v6.5 M1477.70 123.7 v-6.5 M1545.40 1197.7 v6.5 M1545.40 123.7 v-6.5 M1613.10 1197.7 v6.5 M1613.10 123.7 v-6.5 M1411.0 1198.20 h-6.5 M1613.1 1198.20 h6.5 M1411.0 983.20 h-6.5 M1613.1 983.20 h6.5 M1411.0 768.20 h-6.5 M1613.1 768.20 h6.5 M1411.0 553.20 h-6.5 M1613.1 553.20 h6.5 M1411.0 338.20 h-6.5 M1613.1 338.20 h6.5 M1411.0 123.20 h-6.5 M1613.1 123.20 h6.5" stroke="#000" stroke-width="2" fill="none"/>
<text x="1410.50" y="1219.40" font-size="17.01" textLength="24.30" lengthAdjust="spacingAndGlyphs" text-anchor="middle" stroke="#000" stroke-width="0.2" >0.0</text>
<text x="1478.20" y="1219.40" font-size="17.01" textLength="24.30" lengthAdjust="spacingAndGlyphs" text-anchor="middle" stroke="#000" stroke-width="0.2" >0.1</text>
<text x="1545.90" y="1219.40" font-size="17.01" textLength="24.30" lengthAdjust="spacingAndGlyphs" text-anchor="middle" stroke="#000" stroke-width="0.2" >0.2</text>
<text x="1613.60" y="1219.40" font-size="17.01" textLength="24.30" lengthAdjust="spacingAndGlyphs" text-anchor="middle" stroke="#000" stroke-width="0.2" >0.3</text>
<text x="1400.50" y="1203.80" font-size="17.01" textLength="9.72" lengthAdjust="spacingAndGlyphs" text-anchor="end" stroke="#000" stroke-width="0.2" >0</text>
<text x="1400.50" y="988.80" font-size="17.01" textLength="9.72" lengthAdjust="spacingAndGlyphs" text-anchor="end" stroke="#000" stroke-width="0.2" >1</text>
<text x="1400.50" y="773.80" font-size="17.01" textLength="9.72" lengthAdjust="spacingAndGlyphs" text-anchor="end" stroke="#000" stroke-width="0.2" >2</text>
<text x="1400.50" y="558.80" font-size="17.01" textLength="9.72" lengthAdjust="spacingAndGlyphs" text-anchor="end" stroke="#000" stroke-width="0.2" >3</text>
<text x="1400.50" y="343.80" font-size="17.01" textLength="9.72" lengthAdjust="spacingAndGlyphs" text-anchor="end" stroke="#000" stroke-width="0.2" >4</text>
<text x="1400.50" y="128.80" font-size="17.01" textLength="9.72" lengthAdjust="spacingAndGlyphs" text-anchor="end" stroke="#000" stroke-width="0.2" >5</text>
<rect x="1342.42" y="131.5" width="263.08" height="78.80" rx="3" ry="3" fill="#fff" fill-opacity="0.8" stroke="#cccccc" stroke-width="1.1"/>
<line x1="1348.52" y1="144.90" x2="1379.62" y2="144.90" stroke="#0000ff" stroke-width="2.08" stroke-linecap="square"/>
<text x="1392.02" y="150.50" font-size="17.01" textLength="197.36" lengthAdjust="spacingAndGlyphs" stroke="#000" stroke-width="0.2" >parDepol_raman_355_FR</text>
<line x1="1348.52" y1="169.62" x2="1379.62" y2="169.62" stroke="#008000" stroke-width="2.08" stroke-linecap="square"/>
<text x="1392.02" y="175.22" font-size="17.01" textLength="197.36" lengthAdjust="spacingAndGlyphs" stroke="#000" stroke-width="0.2" >parDepol_raman_532_FR</text>
<line x1="1348.52" y1="194.34" x2="1379.62" y2="194.34" stroke="#ff0000" stroke-width="2.08" stroke-linecap="square"/>
<text x="1392.02" y="199.94" font-size="17.01" textLength="207.18" lengthAdjust="spacingAndGlyphs" stroke="#000" stroke-width="0.2" >parDepol_raman_1064_FR</text>
<line x1="1726.50" y1="123.2" x2="1726.50" y2="1198.2" stroke="#b0b0b0" stroke-width="1.1"/>
<line x1="1777.28" y1="123.2" x2="1777.28" y2="1198.2" stroke="#b0b0b0" stroke-width="1.1"/>
<line x1="1828.05" y1="123.2" x2="1828.05" y2="1198.2" stroke="#b0b0b0" stroke-width="1.1"/>
<line x1="1878.82" y1="123.2" x2="1878.82" y2="1198.2" stroke="#b0b0b0" stroke-width="1.1"/>
<line x1="1929.60" y1="123.2" x2="1929.60" y2="1198.2" stroke="#b0b0b0" stroke-width="1.1"/>
<line x1="1726.5" y1="1198.20" x2="1929.6" y2="1198.20" stroke="#b0b0b0" stroke-width="1.1"/>
<line x1="1726.5" y1="983.20" x2="1929.6" y2="983.20" stroke="#b0b0b0" stroke-width="1.1"/>
<line x1="1726.5" y1="768.20" x2="1929.6" y2="768.20" stroke="#b0b0b0" stroke-width="1.1"/>
<line x1="1726.5" y1="553.20" x2="1929.6" y2="553.20" stroke="#b0b0b0" stroke-width="1.1"/>
<line x1="1726.5" y1="338.20" x2="1929.6" y2="338.20" stroke="#b0b0b0" stroke-width="1.1"/>
<line x1="1726.5" y1="123.20" x2="1929.6" y2="123.20" stroke="#b0b0b0" stroke-width="1.1"/>
<g clip-path="url(#clip5)" fill="none" stroke-linejoin="round" stroke-linecap="butt">
</g>
<rect x="1726.5" y="123.2" width="203.10" height="1075.00" fill="none" stroke="#000" stroke-width="1.1"/>
<path d="M1726.00 1197.7 v6.5 M1726.00 123.7 v-6.5 M1776.78 1197.7 v6.5 M1776.78 123.7 v-6.5 M1827.55 1197.7 v6.5 M1827.55 123.7 v-6.5 M1878.32 1197.7 v6.5 M1878.32 123.7 v-6.5 M1929.10 1197.7 v6.5 M1929.10 123.7 v-6.5 M1727.0 1198.20 h-6.5 M1929.1 1198.20 h6.5 M1727.0 983.20 h-6.5 M1929.1 983.20 h6.5 M1727.0 768.20 h-6.5 M1929.1 768.20 h6.5 M1727.0 553.20 h-6.5 M1929.1 553.20 h6.5 M1727.0 338.20 h-6.5 M1929.1 338.20 h6.5 M1727.0 123.20 h-6.5 M1929.1 123.20 h6.5" stroke="#000" stroke-width="2" fill="none"/>
<text x="1726.50" y="1219.40" font-size="17.01" textLength="24.30" lengthAdjust="spacingAndGlyphs" text-anchor="middle" stroke="#000" stroke-width="0.2" >0.0</text>
<text x="1777.28" y="1219.40" font-size="17.01" textLength="24.30" lengthAdjust="spacingAndGlyphs" text-anchor="middle" stroke="#000" stroke-width="0.2" >2.5</text>
<text x="1828.05" y="1219.40" font-size="17.01" textLength="24.30" lengthAdjust="spacingAndGlyphs" text-anchor="middle" stroke="#000" stroke-width="0.2" >5.0</text>
<text x="1878.82" y="1219.40" font-size="17.01" textLength="24.30" lengthAdjust="spacingAndGlyphs" text-anchor="middle" stroke="#000" stroke-width="0.2" >7.5</text>
<text x="1929.60" y="1219.40" font-size="17.01" textLength="34.02" lengthAdjust="spacingAndGlyphs" text-anchor="middle" stroke="#000" stroke-width="0.2" >10.0</text>
<text x="1716.50" y="1203.80" font-size="17.01" textLength="9.72" lengthAdjust="spacingAndGlyphs" text-anchor="end" stroke="#000" stroke-width="0.2" >0</text>
<text x="1716.50" y="988.80" font-size="17.01" textLength="9.72" lengthAdjust="spacingAndGlyphs" text-anchor="end" stroke="#000" stroke-width="0.2" >1</text>
<text x="1716.50" y="773.80" font-size="17.01" textLength="9.72" lengthAdjust="spacingAndGlyphs" text-anchor="end" stroke="#000" stroke-width="0.2" >2</text>
<text x="1716.50" y="558.80" font-size="17.01" textLength="9.72" lengthAdjust="spacingAndGlyphs" text-anchor="end" stroke="#000" stroke-width="0.2" >3</text>
<text x="1716.50" y="343.80" font-size="17.01" textLength="9.72" lengthAdjust="spacingAndGlyphs" text-anchor="end" stroke="#000" stroke-width="0.2" >4</text>
<text x="1716.50" y="128.80" font-size="17.01" textLength="9.72" lengthAdjust="spacingAndGlyphs" text-anchor="end" stroke="#000" stroke-width="0.2" >5</text>
<rect x="1811.17" y="131.4" width="110.33" height="30.10" rx="3" ry="3" fill="#fff" fill-opacity="0.8" stroke="#cccccc" stroke-width="1.1"/>
<line x1="1817.27" y1="144.90" x2="1848.37" y2="144.90" stroke="#0000ff" stroke-width="2.08" stroke-linecap="square"/>
<text x="1860.77" y="150.50" font-size="17.01" textLength="54.43" lengthAdjust="spacingAndGlyphs" stroke="#000" stroke-width="0.2" >WVMR</text>
<rect x="1820.32" y="185.5" width="80.98" height="29.00" rx="3" ry="3" fill="#fff" fill-opacity="0.8" stroke="#cccccc" stroke-width="1.1"/>
<line x1="1826.42" y1="198.90" x2="1857.52" y2="198.90" stroke="#008000" stroke-width="2.08" stroke-linecap="square"/>
<text x="1869.92" y="204.50" font-size="17.01" textLength="25.08" lengthAdjust="spacingAndGlyphs" stroke="#000" stroke-width="0.2" >RH</text>
<text x="1726.50" y="109.80" font-size="17.01" textLength="9.72" lengthAdjust="spacingAndGlyphs" text-anchor="middle" stroke="#000" stroke-width="0.2" >0</text>
<text x="1777.28" y="109.80" font-size="17.01" textLength="19.44" lengthAdjust="spacingAndGlyphs" text-anchor="middle" stroke="#000" stroke-width="0.2" >25</text>
<text x="1828.05" y="109.80" font-size="17.01" textLength="19.44" lengthAdjust="spacingAndGlyphs" text-anchor="middle" stroke="#000" stroke-width="0.2" >50</text>
<text x="1878.82" y="109.80" font-size="17.01" textLength="19.44" lengthAdjust="spacingAndGlyphs" text-anchor="middle" stroke="#000" stroke-width="0.2" >75</text>
<text x="1929.60" y="109.80" font-size="17.01" textLength="29.16" lengthAdjust="spacingAndGlyphs" text-anchor="middle" stroke="#000" stroke-width="0.2" >100</text>
<text x="1827.50" y="93.20" font-size="22.15" textLength="173.96" lengthAdjust="spacingAndGlyphs" text-anchor="middle" stroke="#000" stroke-width="0.2" >Rel.Humidity [%]</text>
<text x="112.50" y="1248.00" font-size="22.15" textLength="192.55" lengthAdjust="spacingAndGlyphs" stroke="#000" stroke-width="0.2" >Backsc. coeff. [Msr</text>
<text x="305.05" y="1240.00" font-size="15.50" textLength="20.53" lengthAdjust="spacingAndGlyphs" stroke="#000" stroke-width="0.2" >−1</text>
<text x="333.21" y="1248.00" font-size="22.15" textLength="18.87" lengthAdjust="spacingAndGlyphs" stroke="#000" stroke-width="0.2" >m</text>
<text x="352.08" y="1240.00" font-size="15.50" textLength="20.53" lengthAdjust="spacingAndGlyphs" stroke="#000" stroke-width="0.2" >−1</text>
<text x="373.91" y="1248.00" font-size="22.15" textLength="7.76" lengthAdjust="spacingAndGlyphs" stroke="#000" stroke-width="0.2" >]</text>
<text x="452.30" y="1248.00" font-size="22.15" textLength="192.71" lengthAdjust="spacingAndGlyphs" stroke="#000" stroke-width="0.2" >Extinct. coeff. [Mm</text>
<text x="645.01" y="1240.00" font-size="15.50" textLength="20.53" lengthAdjust="spacingAndGlyphs" stroke="#000" stroke-width="0.2" >−1</text>
<text x="666.85" y="1248.00" font-size="22.15" textLength="7.76" lengthAdjust="spacingAndGlyphs" stroke="#000" stroke-width="0.2" >]</text>
<text x="879.00" y="1243.80" font-size="22.15" textLength="152.74" lengthAdjust="spacingAndGlyphs" text-anchor="middle" stroke="#000" stroke-width="0.2" >Lidar ratio [Sr]</text>
<text x="1120.80" y="1249.60" font-size="20.89" textLength="14.50" lengthAdjust="spacingAndGlyphs" font-style="italic" stroke="#000" stroke-width="0.2" font-family="Liberation Sans" >Å</text>
<text x="1135.50" y="1249.60" font-size="22.15" textLength="135.20" lengthAdjust="spacingAndGlyphs" stroke="#000" stroke-width="0.2" >ngström Exp.</text>
<text x="1511.10" y="1243.80" font-size="22.15" textLength="119.19" lengthAdjust="spacingAndGlyphs" text-anchor="middle" stroke="#000" stroke-width="0.2" >Depol. ratio</text>
<text x="1743.50" y="1247.80" font-size="22.15" textLength="83.00" lengthAdjust="spacingAndGlyphs" stroke="#000" stroke-width="0.2" >WVMR [</text>
<text x="1827.50" y="1247.80" font-size="20.89" textLength="13.60" lengthAdjust="spacingAndGlyphs" font-style="italic" stroke="#000" stroke-width="0.2" font-family="Liberation Sans" >g</text>
<path d="M1849.9 1233.8 V1242.8 M1846.0 1236.05 L1853.8 1240.55 M1846.0 1240.55 L1853.8 1236.05" stroke="#000" stroke-width="1.5"/>
<text x="1858.80" y="1247.80" font-size="20.89" textLength="23.00" lengthAdjust="spacingAndGlyphs" font-style="italic" stroke="#000" stroke-width="0.2" font-family="Liberation Sans" >kg</text>
<text x="1884.30" y="1241.20" font-size="14.63" textLength="19.80" lengthAdjust="spacingAndGlyphs" stroke="#000" stroke-width="0.2" font-family="Liberation Sans" >−1</text>
<text x="1905.30" y="1247.80" font-size="22.15" textLength="7.00" lengthAdjust="spacingAndGlyphs" stroke="#000" stroke-width="0.2" >]</text>
<text x="0.00" y="0.00" font-size="22.15" textLength="121.83" lengthAdjust="spacingAndGlyphs" text-anchor="middle" stroke="#000" stroke-width="0.2" transform="translate(116.2,661.7) rotate(-90)">Height [km]</text>
<rect x="1445.9" y="275.5" width="96" height="72.5" fill="#e8ebf2" fill-opacity="0.6"/>
<text x="1451.80" y="294.40" font-size="16.04" textLength="9.68" lengthAdjust="spacingAndGlyphs" font-style="italic" stroke="#000" stroke-width="0.2" font-family="Liberation Sans" >η</text>
<text x="1461.48" y="297.40" font-size="11.23" textLength="20.42" lengthAdjust="spacingAndGlyphs" stroke="#000" stroke-width="0.2" font-family="Liberation Sans" >355</text>
<text x="1481.90" y="294.40" font-size="17.01" textLength="53.75" lengthAdjust="spacingAndGlyphs" stroke="#000" stroke-width="0.2" >: 15.84</text>
<text x="1451.80" y="317.30" font-size="16.04" textLength="9.68" lengthAdjust="spacingAndGlyphs" font-style="italic" stroke="#000" stroke-width="0.2" font-family="Liberation Sans" >η</text>
<text x="1461.48" y="320.30" font-size="11.23" textLength="20.42" lengthAdjust="spacingAndGlyphs" stroke="#000" stroke-width="0.2" font-family="Liberation Sans" >532</text>
<text x="1481.90" y="317.30" font-size="17.01" textLength="53.75" lengthAdjust="spacingAndGlyphs" stroke="#000" stroke-width="0.2" >: 25.13</text>
<text x="1451.80" y="337.60" font-size="16.04" textLength="9.68" lengthAdjust="spacingAndGlyphs" font-style="italic" stroke="#000" stroke-width="0.2" font-family="Liberation Sans" >η</text>
<text x="1461.48" y="340.60" font-size="11.23" textLength="27.22" lengthAdjust="spacingAndGlyphs" stroke="#000" stroke-width="0.2" font-family="Liberation Sans" >1064</text>
<text x="1488.71" y="337.60" font-size="17.01" textLength="38.80" lengthAdjust="spacingAndGlyphs" stroke="#000" stroke-width="0.2" >: nan</text>
<rect x="195" y="1275.8" width="210" height="66" fill="#eef0f5"/>
<text x="199.50" y="1294.80" font-size="17.01" textLength="190.71" lengthAdjust="spacingAndGlyphs" stroke="#000" stroke-width="0.2" >ref.H_355: 5.74-7.24 km</text>
<text x="199.50" y="1314.40" font-size="17.01" textLength="190.71" lengthAdjust="spacingAndGlyphs" stroke="#000" stroke-width="0.2" >ref.H_532: 5.93-7.43 km</text>
<text x="199.50" y="1334.00" font-size="17.01" textLength="200.56" lengthAdjust="spacingAndGlyphs" stroke="#000" stroke-width="0.2" >ref.H_1064: 6.22-7.72 km</text>
<rect x="1695.2" y="1274.2" width="174.6" height="27.8" fill="#eef0f5"/>
<text x="1700.30" y="1292.10" font-size="17.01" textLength="164.35" lengthAdjust="spacingAndGlyphs" stroke="#000" stroke-width="0.2" >WV-calib.const.: 18.5</text>
<text x="1001.00" y="1327.80" font-size="14.69" textLength="87.06" lengthAdjust="spacingAndGlyphs" font-weight="bold" fill="#ff2222" >Preliminary</text>
<text x="1001.00" y="1342.80" font-size="14.69" textLength="59.54" lengthAdjust="spacingAndGlyphs" font-weight="bold" fill="#ff2222" >Results.</text>
<text x="1500.60" y="1331.80" font-size="11.54" textLength="106.77" lengthAdjust="spacingAndGlyphs" font-weight="bold" >© TROPOS 2026.</text>
<text x="1500.00" y="1343.60" font-size="11.54" textLength="137.27" lengthAdjust="spacingAndGlyphs" font-weight="bold" >CC BY SA 4.0 License.</text>
<clipPath id="ccband"><rect x="664" y="1323.0" width="274" height="30"/></clipPath>
<rect x="664.5" y="1257.5" width="272" height="94.5" rx="3" fill="#333333"/>
<path d="M666.6 1324.2 V1261.6 Q666.6 1259.6 668.6 1259.6 H932.4 Q934.4 1259.6 934.4 1261.6 V1324.2 Z" fill="#b9beb9"/>
<circle cx="711.4" cy="1300.5" r="42.4" fill="#b9beb9" clip-path="url(#ccband)"/>
<circle cx="711.4" cy="1300.5" r="35.4" fill="#333333"/>
<circle cx="711.4" cy="1300.5" r="30" fill="#ffffff"/>
<path d="M707.90,1295.75 A7.5,8.2 0 1 0 707.90,1305.85" stroke="#333333" stroke-width="6.4" fill="none"/>
<path d="M728.80,1295.75 A7.5,8.2 0 1 0 728.80,1305.85" stroke="#333333" stroke-width="6.4" fill="none"/>
<circle cx="808.0" cy="1290.1" r="26.0" fill="#333333"/>
<circle cx="808.0" cy="1290.1" r="21.6" fill="#ffffff"/>
<circle cx="872.6" cy="1290.1" r="26.0" fill="#333333"/>
<circle cx="872.6" cy="1290.1" r="21.6" fill="#ffffff"/>
<circle cx="808" cy="1276.6" r="3.7" fill="#333333"/>
<path d="M801 1283.5 Q801 1282 802.5 1282 H813.5 Q815 1282 815 1283.5 V1294.5 H811.9 V1306.9 H804.1 V1294.5 H801 Z" fill="#333333"/>
<path d="M861.4,1294.1 A12.55,14.1 0 1 0 861.5,1286.3 L859.2,1286.3 L864.1,1291.6 L868.9,1286.3 L868.2,1286.3 A5.9,9.05 0 1 1 868.1,1294.1 Z" fill="#333333"/>
<text x="806.2" y="1346" font-family="Liberation Sans" font-weight="bold" font-size="20" text-anchor="middle" fill="#ffffff" textLength="27.8" lengthAdjust="spacingAndGlyphs">BY</text>
<text x="870.2" y="1346" font-family="Liberation Sans" font-weight="bold" font-size="20" text-anchor="middle" fill="#ffffff" textLength="27.5" lengthAdjust="spacingAndGlyphs">SA</text>
</svg>
</body></html>
